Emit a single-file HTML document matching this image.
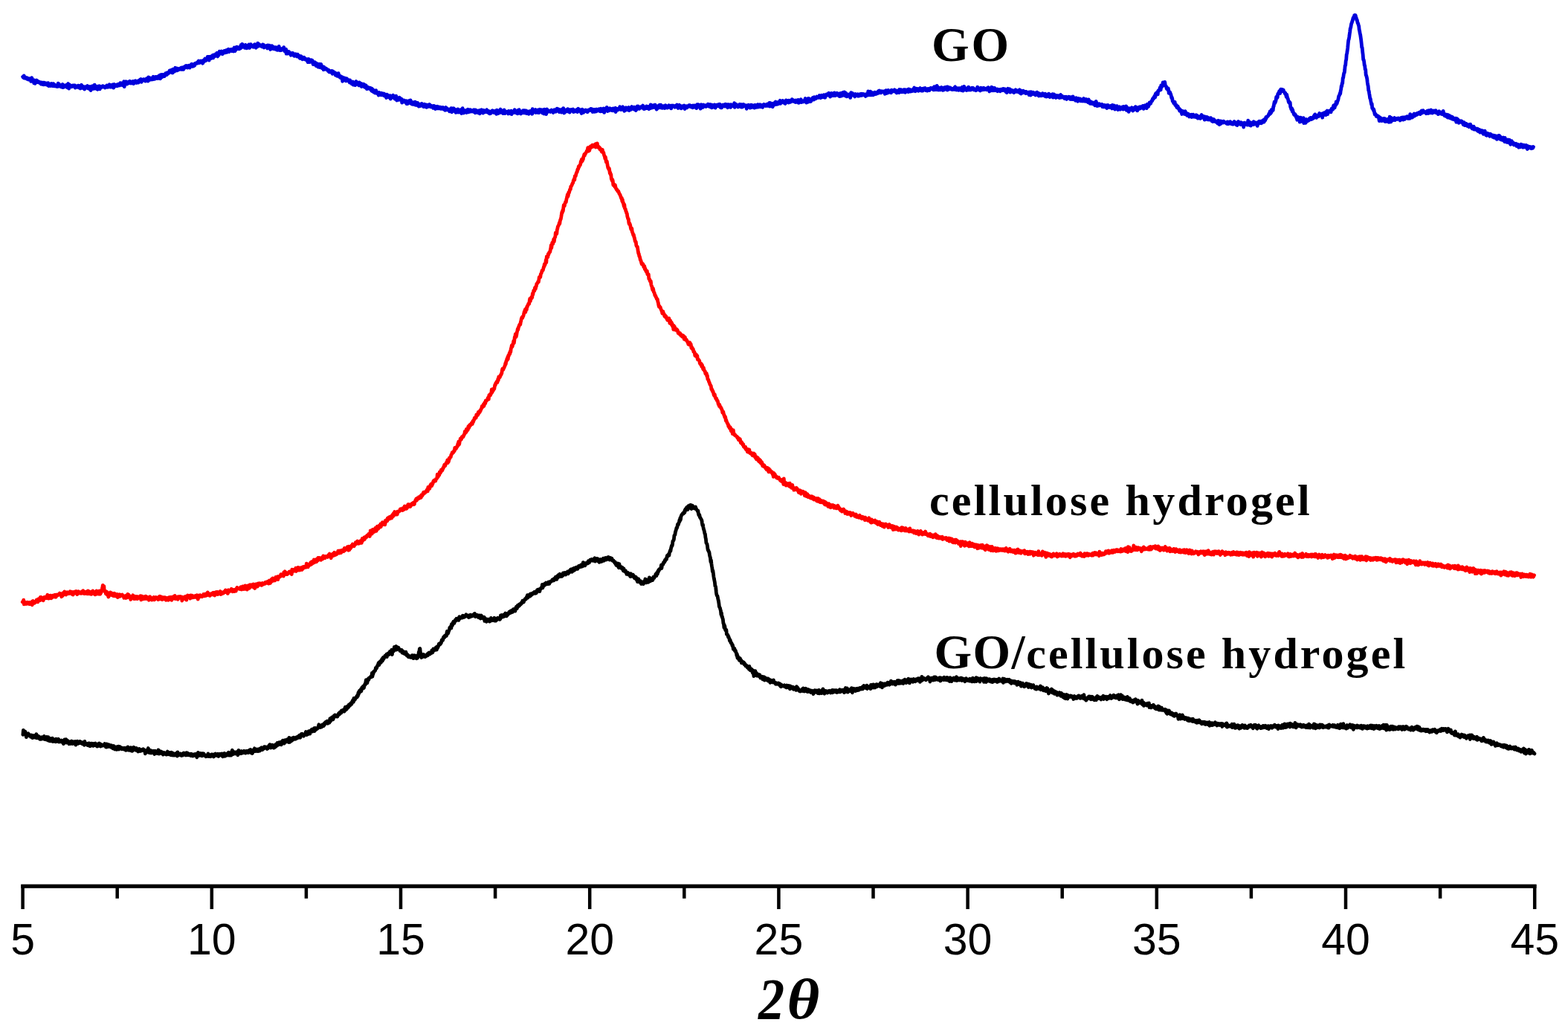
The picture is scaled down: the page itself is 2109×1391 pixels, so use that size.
<!DOCTYPE html>
<html><head><meta charset="utf-8"><style>
html,body{margin:0;padding:0;background:#fff;}
body{width:2109px;height:1391px;overflow:hidden;}
svg{display:block;}
.tl{font-family:"Liberation Sans",Arial,sans-serif;font-size:59px;}
.lab{font-family:"Liberation Serif","Times New Roman",serif;font-weight:bold;font-size:67px;}
.ax{font-family:"Liberation Serif","Times New Roman",serif;font-weight:bold;font-style:italic;font-size:78px;}
</style></head><body>
<svg width="2109" height="1391" viewBox="0 0 2109 1391">
<rect width="2109" height="1391" fill="#fff"/>
<g fill="none" stroke-linejoin="round" stroke-linecap="round" stroke-width="4.8">
<path d="M30.7,103.3 L31.2,104.2 L31.7,103.8 L32.2,101.9 L32.7,105.0 L33.2,104.7 L33.7,103.6 L34.2,105.3 L34.7,105.3 L35.2,105.4 L35.7,105.3 L36.2,106.2 L36.7,104.7 L37.2,105.7 L37.7,105.5 L38.2,107.1 L38.7,106.6 L39.2,106.4 L39.7,105.9 L40.2,106.8 L40.7,107.3 L41.2,107.2 L41.7,109.4 L42.2,109.2 L42.7,104.6 L43.2,105.8 L43.7,108.2 L44.2,108.1 L44.7,109.1 L45.2,109.3 L45.7,111.9 L46.2,107.9 L46.7,109.0 L47.2,112.3 L47.7,110.6 L48.2,110.8 L48.7,109.4 L49.2,108.1 L49.7,110.6 L50.2,110.6 L50.7,109.0 L51.2,109.9 L51.7,110.8 L52.2,109.8 L52.7,111.0 L53.2,111.4 L53.7,111.5 L54.2,110.9 L54.7,112.5 L55.2,113.0 L55.7,112.4 L56.2,111.0 L56.7,113.1 L57.2,111.7 L57.7,113.6 L58.2,111.2 L58.7,113.8 L59.2,112.7 L59.7,111.3 L60.2,112.6 L60.7,113.2 L61.2,113.6 L61.7,112.0 L62.2,112.0 L62.7,113.8 L63.2,113.0 L63.7,114.0 L64.2,114.8 L64.7,111.7 L65.2,114.3 L65.7,115.6 L66.2,113.7 L66.7,113.1 L67.2,115.2 L67.7,114.6 L68.2,115.5 L68.7,114.0 L69.2,112.5 L69.7,114.4 L70.2,114.0 L70.7,115.6 L71.2,114.9 L71.7,112.6 L72.2,113.2 L72.7,115.9 L73.2,115.7 L73.7,114.0 L74.2,114.9 L74.7,115.5 L75.2,115.5 L75.7,116.1 L76.2,115.3 L76.7,114.9 L77.2,114.7 L77.7,116.5 L78.2,112.2 L78.7,115.0 L79.2,115.2 L79.7,113.4 L80.2,115.7 L80.7,114.4 L81.2,116.4 L81.7,115.2 L82.2,116.2 L82.7,117.0 L83.2,115.9 L83.7,114.3 L84.2,113.5 L84.7,117.7 L85.2,115.3 L85.7,114.6 L86.2,115.7 L86.7,115.3 L87.2,116.7 L87.7,115.6 L88.2,115.6 L88.7,114.7 L89.2,116.3 L89.7,114.3 L90.2,116.6 L90.7,117.7 L91.2,113.8 L91.7,112.6 L92.2,116.6 L92.7,119.1 L93.2,114.6 L93.7,114.3 L94.2,116.7 L94.7,114.8 L95.2,115.3 L95.7,115.5 L96.2,116.7 L96.7,115.5 L97.2,116.4 L97.7,115.9 L98.2,115.0 L98.7,115.7 L99.2,114.9 L99.7,116.2 L100.2,114.8 L100.7,114.9 L101.2,118.2 L101.7,116.3 L102.2,116.3 L102.7,117.1 L103.2,115.9 L103.7,116.2 L104.2,117.1 L104.7,117.0 L105.2,115.1 L105.7,117.8 L106.2,116.0 L106.7,115.4 L107.2,115.6 L107.7,116.4 L108.2,119.0 L108.7,115.4 L109.2,117.2 L109.7,114.3 L110.2,117.1 L110.7,118.3 L111.2,116.9 L111.7,116.4 L112.2,117.6 L112.7,118.2 L113.2,118.2 L113.7,120.0 L114.2,117.7 L114.7,116.7 L115.2,117.3 L115.7,117.4 L116.2,117.7 L116.7,117.6 L117.2,117.9 L117.7,115.5 L118.2,118.8 L118.7,117.0 L119.2,116.2 L119.7,118.6 L120.2,119.5 L120.7,118.4 L121.2,118.0 L121.7,116.6 L122.2,121.5 L122.7,118.9 L123.2,116.3 L123.7,116.8 L124.2,117.9 L124.7,115.8 L125.2,118.0 L125.7,117.2 L126.2,119.4 L126.7,119.0 L127.2,114.2 L127.7,117.8 L128.2,115.6 L128.7,119.1 L129.2,117.9 L129.7,118.4 L130.2,116.3 L130.7,120.0 L131.2,120.2 L131.7,116.2 L132.2,118.0 L132.7,116.6 L133.2,117.5 L133.7,115.8 L134.2,119.9 L134.7,116.1 L135.2,117.0 L135.7,118.0 L136.2,116.5 L136.7,117.0 L137.2,116.5 L137.7,117.0 L138.2,115.6 L138.7,116.6 L139.2,116.8 L139.7,116.6 L140.2,117.1 L140.7,116.6 L141.2,117.9 L141.7,116.5 L142.2,116.7 L142.7,115.9 L143.2,116.1 L143.7,115.1 L144.2,117.3 L144.7,115.1 L145.2,115.6 L145.7,117.0 L146.2,117.0 L146.7,115.9 L147.2,113.8 L147.7,116.9 L148.2,116.6 L148.7,114.4 L149.2,117.2 L149.7,115.3 L150.2,114.7 L150.7,116.2 L151.2,115.8 L151.7,116.2 L152.2,113.8 L152.7,118.2 L153.2,114.9 L153.7,113.6 L154.2,116.4 L154.7,115.0 L155.2,115.8 L155.7,114.8 L156.2,115.1 L156.7,115.4 L157.2,114.0 L157.7,115.8 L158.2,114.2 L158.7,113.5 L159.2,114.7 L159.7,115.0 L160.2,114.1 L160.7,113.1 L161.2,114.9 L161.7,111.7 L162.2,112.5 L162.7,113.8 L163.2,111.9 L163.7,113.6 L164.2,113.3 L164.7,114.5 L165.2,112.0 L165.7,112.2 L166.2,113.4 L166.7,109.6 L167.2,116.7 L167.7,111.7 L168.2,111.5 L168.7,113.5 L169.2,112.2 L169.7,109.8 L170.2,112.8 L170.7,113.0 L171.2,111.2 L171.7,111.3 L172.2,112.2 L172.7,110.3 L173.2,112.0 L173.7,111.6 L174.2,110.3 L174.7,109.3 L175.2,110.7 L175.7,109.8 L176.2,112.1 L176.7,110.9 L177.2,111.7 L177.7,110.8 L178.2,110.8 L178.7,109.4 L179.2,111.2 L179.7,112.6 L180.2,109.8 L180.7,109.3 L181.2,109.8 L181.7,109.3 L182.2,108.9 L182.7,110.0 L183.2,109.3 L183.7,111.5 L184.2,109.5 L184.7,109.9 L185.2,110.6 L185.7,108.9 L186.2,111.1 L186.7,108.3 L187.2,108.0 L187.7,108.5 L188.2,108.8 L188.7,107.0 L189.2,108.7 L189.7,106.5 L190.2,110.4 L190.7,108.4 L191.2,107.6 L191.7,107.2 L192.2,107.8 L192.7,107.9 L193.2,106.7 L193.7,106.8 L194.2,107.7 L194.7,107.2 L195.2,109.0 L195.7,109.1 L196.2,107.6 L196.7,108.1 L197.2,105.6 L197.7,108.1 L198.2,107.1 L198.7,107.7 L199.2,109.1 L199.7,103.9 L200.2,107.1 L200.7,105.2 L201.2,107.3 L201.7,104.8 L202.2,105.7 L202.7,106.5 L203.2,106.9 L203.7,106.1 L204.2,104.9 L204.7,105.1 L205.2,106.9 L205.7,105.6 L206.2,103.3 L206.7,106.5 L207.2,105.8 L207.7,106.3 L208.2,104.6 L208.7,106.0 L209.2,103.4 L209.7,105.4 L210.2,103.9 L210.7,105.2 L211.2,105.5 L211.7,103.1 L212.2,103.9 L212.7,103.9 L213.2,105.2 L213.7,104.4 L214.2,101.8 L214.7,103.8 L215.2,104.0 L215.7,105.7 L216.2,100.6 L216.7,101.9 L217.2,104.1 L217.7,100.4 L218.2,100.4 L218.7,102.4 L219.2,102.9 L219.7,100.5 L220.2,101.8 L220.7,101.0 L221.2,102.6 L221.7,100.4 L222.2,101.4 L222.7,98.7 L223.2,99.4 L223.7,99.3 L224.2,100.6 L224.7,99.6 L225.2,97.7 L225.7,99.3 L226.2,99.1 L226.7,97.7 L227.2,97.3 L227.7,97.1 L228.2,94.9 L228.7,97.2 L229.2,97.0 L229.7,95.3 L230.2,97.2 L230.7,94.2 L231.2,95.1 L231.7,95.0 L232.2,98.0 L232.7,93.2 L233.2,95.8 L233.7,96.1 L234.2,95.2 L234.7,96.1 L235.2,93.1 L235.7,91.3 L236.2,95.1 L236.7,92.4 L237.2,93.4 L237.7,92.1 L238.2,94.9 L238.7,94.5 L239.2,92.3 L239.7,94.2 L240.2,93.1 L240.7,92.6 L241.2,92.7 L241.7,92.3 L242.2,93.2 L242.7,92.6 L243.2,91.6 L243.7,93.3 L244.2,91.0 L244.7,92.0 L245.2,92.1 L245.7,93.3 L246.2,90.6 L246.7,93.4 L247.2,91.2 L247.7,90.5 L248.2,89.7 L248.7,91.2 L249.2,90.4 L249.7,88.7 L250.2,88.5 L250.7,89.1 L251.2,88.8 L251.7,90.9 L252.2,91.1 L252.7,90.3 L253.2,89.4 L253.7,88.3 L254.2,88.7 L254.7,89.6 L255.2,91.1 L255.7,89.3 L256.2,87.6 L256.7,87.8 L257.2,87.0 L257.7,86.4 L258.2,87.0 L258.7,87.3 L259.2,89.3 L259.7,86.8 L260.2,88.3 L260.7,88.7 L261.2,86.3 L261.7,88.1 L262.2,86.7 L262.7,85.1 L263.2,85.8 L263.7,85.3 L264.2,84.8 L264.7,84.6 L265.2,84.9 L265.7,85.1 L266.2,83.2 L266.7,84.1 L267.2,82.0 L267.7,84.1 L268.2,84.4 L268.7,83.6 L269.2,83.6 L269.7,83.8 L270.2,82.0 L270.7,82.3 L271.2,83.1 L271.7,83.5 L272.2,82.6 L272.7,85.2 L273.2,81.5 L273.7,82.7 L274.2,82.9 L274.7,80.9 L275.2,79.8 L275.7,79.1 L276.2,80.7 L276.7,81.7 L277.2,80.4 L277.7,80.1 L278.2,79.1 L278.7,80.1 L279.2,76.4 L279.7,79.3 L280.2,78.8 L280.7,76.8 L281.2,81.2 L281.7,76.4 L282.2,76.6 L282.7,76.2 L283.2,79.0 L283.7,76.1 L284.2,77.9 L284.7,77.6 L285.2,76.9 L285.7,74.7 L286.2,75.3 L286.7,78.0 L287.2,73.9 L287.7,74.3 L288.2,74.9 L288.7,75.9 L289.2,75.0 L289.7,75.3 L290.2,72.7 L290.7,75.1 L291.2,74.4 L291.7,71.3 L292.2,75.2 L292.7,75.9 L293.2,71.7 L293.7,72.5 L294.2,74.1 L294.7,70.1 L295.2,69.2 L295.7,69.9 L296.2,70.7 L296.7,70.5 L297.2,71.8 L297.7,71.2 L298.2,69.0 L298.7,71.2 L299.2,72.8 L299.7,71.7 L300.2,71.3 L300.7,69.9 L301.2,71.0 L301.7,68.4 L302.2,70.5 L302.7,69.2 L303.2,70.7 L303.7,69.7 L304.2,67.6 L304.7,69.0 L305.2,70.3 L305.7,67.1 L306.2,67.8 L306.7,67.4 L307.2,66.3 L307.7,69.4 L308.2,69.7 L308.7,69.0 L309.2,68.1 L309.7,67.6 L310.2,67.9 L310.7,66.5 L311.2,68.5 L311.7,68.6 L312.2,68.3 L312.7,66.3 L313.2,67.0 L313.7,66.6 L314.2,69.0 L314.7,66.8 L315.2,64.0 L315.7,66.8 L316.2,68.6 L316.7,66.9 L317.2,67.0 L317.7,65.8 L318.2,63.1 L318.7,63.1 L319.2,63.7 L319.7,65.0 L320.2,65.5 L320.7,65.8 L321.2,64.3 L321.7,65.9 L322.2,64.1 L322.7,63.4 L323.2,65.3 L323.7,62.9 L324.2,60.4 L324.7,62.4 L325.2,63.8 L325.7,59.5 L326.2,62.9 L326.7,62.8 L327.2,61.3 L327.7,61.1 L328.2,62.3 L328.7,62.1 L329.2,64.3 L329.7,63.1 L330.2,60.4 L330.7,61.3 L331.2,63.2 L331.7,64.7 L332.2,62.7 L332.7,62.5 L333.2,64.4 L333.7,61.9 L334.2,61.5 L334.7,60.0 L335.2,61.1 L335.7,64.5 L336.2,59.8 L336.7,61.6 L337.2,59.6 L337.7,61.6 L338.2,62.5 L338.7,61.0 L339.2,62.2 L339.7,62.1 L340.2,61.7 L340.7,63.3 L341.2,62.0 L341.7,60.6 L342.2,60.0 L342.7,59.8 L343.2,61.4 L343.7,60.4 L344.2,64.3 L344.7,63.1 L345.2,60.4 L345.7,60.2 L346.2,62.8 L346.7,58.2 L347.2,60.0 L347.7,61.8 L348.2,59.4 L348.7,60.0 L349.2,60.2 L349.7,61.6 L350.2,61.0 L350.7,61.5 L351.2,61.9 L351.7,61.3 L352.2,62.9 L352.7,60.8 L353.2,60.0 L353.7,59.8 L354.2,60.2 L354.7,61.8 L355.2,64.0 L355.7,63.1 L356.2,62.2 L356.7,61.7 L357.2,62.5 L357.7,62.8 L358.2,62.7 L358.7,61.6 L359.2,62.9 L359.7,65.0 L360.2,60.9 L360.7,63.5 L361.2,61.1 L361.7,64.2 L362.2,63.0 L362.7,61.3 L363.2,64.2 L363.7,66.5 L364.2,64.4 L364.7,65.8 L365.2,64.2 L365.7,61.6 L366.2,65.1 L366.7,64.0 L367.2,62.7 L367.7,65.6 L368.2,65.1 L368.7,64.1 L369.2,66.0 L369.7,63.8 L370.2,65.8 L370.7,63.8 L371.2,65.8 L371.7,63.8 L372.2,67.2 L372.7,65.7 L373.2,67.4 L373.7,64.5 L374.2,65.1 L374.7,66.9 L375.2,62.4 L375.7,64.7 L376.2,67.6 L376.7,67.0 L377.2,67.8 L377.7,66.3 L378.2,67.6 L378.7,66.1 L379.2,65.5 L379.7,65.2 L380.2,66.9 L380.7,67.1 L381.2,67.2 L381.7,63.6 L382.2,65.8 L382.7,67.9 L383.2,69.1 L383.7,68.2 L384.2,68.0 L384.7,66.4 L385.2,72.2 L385.7,68.4 L386.2,72.2 L386.7,72.2 L387.2,70.7 L387.7,69.8 L388.2,71.0 L388.7,69.5 L389.2,71.5 L389.7,71.4 L390.2,72.2 L390.7,73.0 L391.2,74.2 L391.7,71.6 L392.2,73.7 L392.7,71.5 L393.2,71.5 L393.7,72.1 L394.2,71.8 L394.7,74.5 L395.2,74.7 L395.7,75.3 L396.2,73.8 L396.7,74.4 L397.2,73.5 L397.7,72.9 L398.2,75.2 L398.7,75.2 L399.2,73.6 L399.7,76.0 L400.2,73.2 L400.7,75.4 L401.2,75.0 L401.7,75.4 L402.2,74.8 L402.7,77.7 L403.2,77.4 L403.7,78.4 L404.2,77.2 L404.7,75.6 L405.2,77.0 L405.7,76.2 L406.2,78.5 L406.7,79.7 L407.2,78.8 L407.7,77.8 L408.2,78.3 L408.7,79.2 L409.2,77.3 L409.7,79.6 L410.2,79.9 L410.7,79.1 L411.2,79.5 L411.7,80.5 L412.2,79.4 L412.7,79.6 L413.2,82.0 L413.7,81.5 L414.2,83.6 L414.7,80.3 L415.2,79.5 L415.7,83.3 L416.2,83.5 L416.7,81.6 L417.2,80.8 L417.7,82.9 L418.2,80.9 L418.7,83.0 L419.2,80.8 L419.7,83.6 L420.2,81.4 L420.7,84.1 L421.2,86.6 L421.7,84.5 L422.2,86.1 L422.7,84.5 L423.2,84.4 L423.7,83.8 L424.2,87.4 L424.7,86.2 L425.2,88.6 L425.7,85.2 L426.2,86.7 L426.7,87.3 L427.2,89.3 L427.7,90.1 L428.2,87.1 L428.7,86.8 L429.2,86.2 L429.7,90.5 L430.2,88.9 L430.7,88.4 L431.2,89.4 L431.7,86.4 L432.2,87.8 L432.7,91.5 L433.2,91.0 L433.7,91.0 L434.2,89.7 L434.7,92.0 L435.2,93.8 L435.7,90.2 L436.2,92.0 L436.7,91.7 L437.2,93.0 L437.7,92.8 L438.2,92.8 L438.7,92.1 L439.2,93.5 L439.7,93.0 L440.2,93.8 L440.7,94.2 L441.2,95.4 L441.7,94.0 L442.2,94.6 L442.7,96.7 L443.2,95.2 L443.7,95.4 L444.2,97.1 L444.7,96.6 L445.2,96.6 L445.7,97.0 L446.2,95.4 L446.7,97.8 L447.2,99.2 L447.7,98.5 L448.2,96.0 L448.7,98.6 L449.2,97.3 L449.7,98.4 L450.2,99.1 L450.7,97.7 L451.2,101.2 L451.7,99.6 L452.2,101.0 L452.7,101.0 L453.2,102.2 L453.7,102.3 L454.2,99.0 L454.7,101.3 L455.2,98.7 L455.7,101.1 L456.2,102.9 L456.7,103.4 L457.2,104.1 L457.7,102.2 L458.2,103.4 L458.7,103.4 L459.2,105.2 L459.7,105.9 L460.2,103.6 L460.7,109.3 L461.2,104.6 L461.7,104.4 L462.2,105.9 L462.7,106.4 L463.2,106.4 L463.7,105.1 L464.2,108.2 L464.7,106.6 L465.2,108.8 L465.7,108.9 L466.2,105.7 L466.7,106.3 L467.2,106.6 L467.7,108.4 L468.2,108.4 L468.7,109.0 L469.2,107.8 L469.7,109.6 L470.2,111.1 L470.7,107.8 L471.2,109.5 L471.7,110.3 L472.2,110.0 L472.7,110.1 L473.2,112.8 L473.7,112.4 L474.2,112.0 L474.7,110.0 L475.2,114.1 L475.7,111.8 L476.2,110.7 L476.7,111.2 L477.2,111.2 L477.7,114.7 L478.2,112.3 L478.7,112.3 L479.2,109.5 L479.7,113.4 L480.2,111.2 L480.7,111.2 L481.2,113.6 L481.7,111.8 L482.2,114.2 L482.7,114.7 L483.2,111.0 L483.7,113.3 L484.2,111.6 L484.7,113.7 L485.2,115.1 L485.7,112.3 L486.2,116.5 L486.7,113.9 L487.2,113.0 L487.7,114.5 L488.2,115.9 L488.7,113.2 L489.2,115.2 L489.7,113.6 L490.2,117.2 L490.7,116.0 L491.2,115.5 L491.7,117.7 L492.2,114.9 L492.7,116.3 L493.2,119.5 L493.7,117.2 L494.2,119.5 L494.7,118.2 L495.2,117.4 L495.7,118.3 L496.2,119.0 L496.7,118.7 L497.2,118.5 L497.7,118.9 L498.2,118.3 L498.7,120.7 L499.2,121.3 L499.7,122.1 L500.2,119.1 L500.7,122.8 L501.2,122.0 L501.7,120.5 L502.2,122.8 L502.7,124.0 L503.2,123.9 L503.7,124.4 L504.2,124.9 L504.7,125.1 L505.2,124.1 L505.7,121.6 L506.2,123.6 L506.7,125.2 L507.2,124.3 L507.7,126.0 L508.2,126.3 L508.7,125.5 L509.2,128.1 L509.7,124.5 L510.2,127.1 L510.7,125.5 L511.2,125.2 L511.7,127.1 L512.2,125.7 L512.7,127.8 L513.2,125.3 L513.7,127.0 L514.2,126.0 L514.7,126.9 L515.2,126.9 L515.7,126.0 L516.2,128.5 L516.7,126.1 L517.2,126.6 L517.7,129.2 L518.2,129.4 L518.7,129.2 L519.2,128.9 L519.7,131.5 L520.2,127.1 L520.7,127.9 L521.2,127.7 L521.7,130.3 L522.2,129.7 L522.7,130.9 L523.2,130.9 L523.7,129.4 L524.2,128.8 L524.7,128.7 L525.2,133.1 L525.7,131.6 L526.2,131.3 L526.7,130.2 L527.2,130.5 L527.7,130.5 L528.2,130.7 L528.7,128.1 L529.2,131.3 L529.7,131.0 L530.2,132.1 L530.7,132.1 L531.2,133.1 L531.7,132.1 L532.2,133.3 L532.7,129.1 L533.2,131.2 L533.7,135.0 L534.2,131.3 L534.7,132.7 L535.2,134.1 L535.7,132.2 L536.2,134.4 L536.7,131.8 L537.2,131.3 L537.7,132.2 L538.2,132.0 L538.7,134.2 L539.2,134.0 L539.7,135.0 L540.2,133.4 L540.7,138.2 L541.2,134.9 L541.7,135.1 L542.2,136.0 L542.7,135.2 L543.2,134.9 L543.7,136.0 L544.2,137.2 L544.7,137.1 L545.2,137.6 L545.7,135.8 L546.2,135.7 L546.7,139.5 L547.2,136.7 L547.7,137.8 L548.2,138.3 L548.7,139.4 L549.2,135.9 L549.7,137.2 L550.2,137.4 L550.7,137.7 L551.2,135.1 L551.7,138.3 L552.2,134.8 L552.7,139.1 L553.2,139.5 L553.7,139.7 L554.2,137.5 L554.7,140.4 L555.2,138.2 L555.7,137.8 L556.2,138.2 L556.7,138.5 L557.2,139.9 L557.7,140.8 L558.2,137.1 L558.7,139.2 L559.2,141.2 L559.7,140.4 L560.2,140.9 L560.7,138.3 L561.2,141.6 L561.7,138.4 L562.2,140.7 L562.7,142.3 L563.2,143.1 L563.7,141.4 L564.2,141.9 L564.7,140.1 L565.2,140.3 L565.7,142.5 L566.2,141.1 L566.7,141.0 L567.2,139.4 L567.7,141.4 L568.2,142.2 L568.7,140.4 L569.2,140.8 L569.7,143.6 L570.2,141.8 L570.7,141.3 L571.2,140.3 L571.7,141.0 L572.2,141.6 L572.7,143.7 L573.2,141.2 L573.7,144.4 L574.2,141.0 L574.7,141.8 L575.2,143.4 L575.7,142.1 L576.2,141.4 L576.7,142.4 L577.2,143.2 L577.7,140.5 L578.2,142.4 L578.7,142.7 L579.2,142.4 L579.7,143.9 L580.2,142.3 L580.7,142.6 L581.2,143.2 L581.7,144.2 L582.2,143.1 L582.7,145.4 L583.2,142.3 L583.7,145.2 L584.2,142.5 L584.7,143.5 L585.2,144.3 L585.7,146.5 L586.2,145.1 L586.7,143.5 L587.2,145.8 L587.7,143.9 L588.2,143.3 L588.7,144.9 L589.2,144.6 L589.7,145.8 L590.2,143.9 L590.7,145.2 L591.2,145.7 L591.7,145.3 L592.2,145.0 L592.7,144.2 L593.2,146.4 L593.7,145.5 L594.2,146.1 L594.7,145.1 L595.2,145.7 L595.7,144.4 L596.2,146.0 L596.7,147.0 L597.2,146.2 L597.7,147.4 L598.2,146.8 L598.7,148.2 L599.2,146.3 L599.7,144.5 L600.2,147.3 L600.7,146.7 L601.2,145.7 L601.7,147.9 L602.2,147.5 L602.7,147.8 L603.2,146.9 L603.7,147.7 L604.2,147.8 L604.7,149.9 L605.2,146.8 L605.7,147.7 L606.2,148.3 L606.7,145.6 L607.2,145.9 L607.7,150.8 L608.2,145.8 L608.7,148.9 L609.2,147.1 L609.7,147.3 L610.2,145.8 L610.7,147.3 L611.2,149.5 L611.7,146.8 L612.2,149.4 L612.7,149.1 L613.2,151.4 L613.7,148.2 L614.2,150.5 L614.7,150.1 L615.2,148.6 L615.7,146.9 L616.2,151.1 L616.7,147.4 L617.2,148.6 L617.7,150.4 L618.2,150.7 L618.7,148.2 L619.2,149.3 L619.7,149.0 L620.2,150.9 L620.7,152.6 L621.2,147.0 L621.7,150.6 L622.2,145.7 L622.7,149.4 L623.2,148.0 L623.7,152.0 L624.2,149.6 L624.7,148.4 L625.2,148.8 L625.7,148.7 L626.2,149.6 L626.7,149.2 L627.2,150.3 L627.7,151.4 L628.2,150.3 L628.7,147.8 L629.2,147.3 L629.7,148.4 L630.2,150.8 L630.7,149.0 L631.2,148.5 L631.7,149.6 L632.2,147.6 L632.7,147.9 L633.2,150.1 L633.7,149.0 L634.2,148.8 L634.7,149.8 L635.2,148.6 L635.7,148.5 L636.2,148.8 L636.7,150.2 L637.2,149.5 L637.7,147.8 L638.2,149.0 L638.7,150.2 L639.2,151.8 L639.7,147.9 L640.2,149.9 L640.7,149.1 L641.2,150.5 L641.7,150.1 L642.2,151.4 L642.7,150.2 L643.2,148.8 L643.7,148.9 L644.2,150.1 L644.7,150.2 L645.2,152.8 L645.7,151.9 L646.2,148.2 L646.7,150.2 L647.2,148.1 L647.7,147.7 L648.2,150.9 L648.7,150.6 L649.2,148.6 L649.7,152.1 L650.2,148.7 L650.7,148.5 L651.2,150.9 L651.7,150.4 L652.2,149.9 L652.7,150.1 L653.2,150.5 L653.7,150.0 L654.2,150.0 L654.7,147.7 L655.2,148.5 L655.7,151.0 L656.2,149.3 L656.7,150.9 L657.2,151.8 L657.7,149.7 L658.2,150.6 L658.7,152.9 L659.2,151.1 L659.7,152.6 L660.2,152.2 L660.7,151.2 L661.2,150.1 L661.7,149.1 L662.2,148.8 L662.7,150.8 L663.2,150.8 L663.7,150.0 L664.2,151.3 L664.7,149.4 L665.2,151.6 L665.7,150.3 L666.2,150.2 L666.7,150.2 L667.2,150.1 L667.7,153.4 L668.2,148.1 L668.7,150.4 L669.2,151.8 L669.7,151.1 L670.2,149.8 L670.7,152.5 L671.2,148.8 L671.7,148.5 L672.2,150.9 L672.7,148.3 L673.2,147.1 L673.7,151.4 L674.2,151.2 L674.7,151.2 L675.2,149.6 L675.7,150.5 L676.2,149.1 L676.7,152.6 L677.2,151.4 L677.7,151.4 L678.2,147.9 L678.7,151.5 L679.2,152.5 L679.7,152.1 L680.2,151.6 L680.7,150.6 L681.2,150.2 L681.7,151.5 L682.2,151.2 L682.7,151.1 L683.2,150.4 L683.7,153.0 L684.2,149.3 L684.7,150.9 L685.2,150.2 L685.7,152.3 L686.2,152.8 L686.7,152.6 L687.2,152.0 L687.7,149.2 L688.2,153.7 L688.7,151.7 L689.2,150.9 L689.7,151.0 L690.2,150.6 L690.7,151.5 L691.2,151.4 L691.7,150.5 L692.2,147.6 L692.7,150.9 L693.2,151.6 L693.7,151.6 L694.2,150.7 L694.7,151.5 L695.2,152.3 L695.7,150.3 L696.2,152.8 L696.7,148.3 L697.2,149.2 L697.7,149.7 L698.2,147.7 L698.7,149.5 L699.2,152.4 L699.7,152.4 L700.2,150.9 L700.7,153.0 L701.2,151.1 L701.7,150.1 L702.2,151.0 L702.7,150.5 L703.2,151.6 L703.7,148.7 L704.2,151.9 L704.7,150.0 L705.2,151.7 L705.7,148.6 L706.2,150.0 L706.7,150.6 L707.2,151.7 L707.7,148.9 L708.2,152.6 L708.7,151.1 L709.2,149.7 L709.7,152.0 L710.2,150.5 L710.7,151.8 L711.2,153.3 L711.7,151.3 L712.2,149.6 L712.7,149.7 L713.2,151.0 L713.7,150.6 L714.2,149.1 L714.7,149.3 L715.2,151.0 L715.7,153.2 L716.2,146.7 L716.7,151.0 L717.2,149.8 L717.7,151.0 L718.2,151.1 L718.7,150.0 L719.2,148.6 L719.7,148.1 L720.2,147.5 L720.7,151.5 L721.2,149.6 L721.7,149.2 L722.2,149.5 L722.7,148.1 L723.2,150.2 L723.7,151.5 L724.2,151.2 L724.7,147.7 L725.2,151.5 L725.7,148.7 L726.2,147.2 L726.7,148.1 L727.2,148.4 L727.7,149.6 L728.2,148.3 L728.7,147.7 L729.2,149.3 L729.7,152.1 L730.2,148.7 L730.7,150.2 L731.2,149.7 L731.7,153.0 L732.2,147.1 L732.7,151.0 L733.2,147.9 L733.7,148.7 L734.2,149.4 L734.7,153.6 L735.2,148.5 L735.7,147.0 L736.2,151.2 L736.7,148.4 L737.2,149.1 L737.7,149.4 L738.2,149.6 L738.7,149.2 L739.2,149.8 L739.7,149.9 L740.2,150.5 L740.7,148.8 L741.2,148.4 L741.7,148.0 L742.2,150.1 L742.7,149.3 L743.2,150.1 L743.7,150.0 L744.2,151.5 L744.7,149.6 L745.2,150.3 L745.7,147.8 L746.2,147.9 L746.7,148.9 L747.2,147.7 L747.7,150.2 L748.2,147.6 L748.7,149.4 L749.2,146.1 L749.7,147.8 L750.2,148.8 L750.7,148.9 L751.2,146.9 L751.7,149.4 L752.2,150.5 L752.7,150.1 L753.2,148.4 L753.7,148.4 L754.2,147.7 L754.7,150.0 L755.2,151.1 L755.7,148.5 L756.2,147.0 L756.7,149.4 L757.2,150.1 L757.7,145.6 L758.2,149.3 L758.7,152.0 L759.2,150.2 L759.7,149.8 L760.2,149.6 L760.7,150.5 L761.2,147.9 L761.7,148.0 L762.2,149.6 L762.7,148.2 L763.2,149.4 L763.7,146.6 L764.2,150.1 L764.7,150.2 L765.2,149.1 L765.7,149.3 L766.2,151.1 L766.7,147.6 L767.2,147.8 L767.7,147.6 L768.2,148.5 L768.7,147.7 L769.2,149.0 L769.7,148.1 L770.2,147.1 L770.7,147.0 L771.2,150.5 L771.7,148.9 L772.2,148.6 L772.7,149.0 L773.2,148.8 L773.7,149.9 L774.2,149.6 L774.7,148.1 L775.2,147.8 L775.7,147.5 L776.2,147.2 L776.7,150.7 L777.2,147.7 L777.7,146.2 L778.2,147.7 L778.7,147.8 L779.2,149.2 L779.7,147.6 L780.2,149.5 L780.7,149.3 L781.2,150.4 L781.7,151.6 L782.2,152.4 L782.7,150.5 L783.2,147.2 L783.7,148.2 L784.2,149.0 L784.7,151.4 L785.2,149.5 L785.7,150.2 L786.2,148.4 L786.7,149.4 L787.2,149.6 L787.7,148.0 L788.2,149.6 L788.7,150.0 L789.2,148.4 L789.7,149.9 L790.2,150.7 L790.7,148.6 L791.2,148.5 L791.7,148.1 L792.2,147.7 L792.7,148.7 L793.2,147.9 L793.7,148.0 L794.2,147.4 L794.7,146.4 L795.2,147.2 L795.7,148.8 L796.2,146.8 L796.7,147.5 L797.2,150.5 L797.7,149.8 L798.2,147.4 L798.7,149.1 L799.2,147.4 L799.7,150.4 L800.2,147.5 L800.7,148.3 L801.2,150.0 L801.7,147.1 L802.2,149.9 L802.7,147.1 L803.2,148.4 L803.7,147.7 L804.2,148.0 L804.7,148.3 L805.2,148.0 L805.7,146.7 L806.2,149.2 L806.7,149.0 L807.2,149.7 L807.7,149.8 L808.2,146.2 L808.7,149.6 L809.2,149.6 L809.7,147.2 L810.2,149.2 L810.7,149.8 L811.2,147.2 L811.7,146.0 L812.2,147.3 L812.7,151.4 L813.2,148.1 L813.7,146.2 L814.2,147.4 L814.7,146.4 L815.2,147.2 L815.7,147.8 L816.2,144.3 L816.7,148.1 L817.2,149.5 L817.7,147.3 L818.2,147.1 L818.7,149.0 L819.2,145.9 L819.7,145.9 L820.2,145.7 L820.7,147.3 L821.2,148.0 L821.7,147.3 L822.2,148.1 L822.7,148.5 L823.2,148.0 L823.7,146.3 L824.2,147.0 L824.7,148.9 L825.2,145.9 L825.7,146.9 L826.2,146.7 L826.7,147.0 L827.2,145.8 L827.7,145.4 L828.2,150.5 L828.7,148.4 L829.2,146.2 L829.7,147.0 L830.2,147.9 L830.7,146.6 L831.2,147.8 L831.7,146.2 L832.2,146.5 L832.7,146.8 L833.2,146.3 L833.7,143.7 L834.2,146.9 L834.7,147.2 L835.2,147.4 L835.7,145.5 L836.2,147.2 L836.7,147.0 L837.2,144.4 L837.7,143.8 L838.2,147.2 L838.7,145.3 L839.2,147.8 L839.7,149.3 L840.2,145.7 L840.7,145.5 L841.2,146.4 L841.7,147.2 L842.2,144.8 L842.7,147.9 L843.2,147.5 L843.7,147.0 L844.2,145.4 L844.7,147.3 L845.2,147.2 L845.7,144.5 L846.2,148.7 L846.7,145.6 L847.2,146.4 L847.7,145.2 L848.2,146.3 L848.7,147.3 L849.2,144.7 L849.7,143.6 L850.2,145.1 L850.7,143.9 L851.2,144.6 L851.7,145.4 L852.2,145.4 L852.7,147.1 L853.2,144.1 L853.7,145.8 L854.2,144.7 L854.7,147.1 L855.2,148.5 L855.7,145.6 L856.2,147.3 L856.7,144.4 L857.2,143.0 L857.7,143.4 L858.2,143.0 L858.7,143.7 L859.2,144.6 L859.7,146.4 L860.2,145.8 L860.7,145.4 L861.2,144.2 L861.7,143.8 L862.2,144.7 L862.7,144.8 L863.2,145.0 L863.7,145.1 L864.2,144.4 L864.7,142.0 L865.2,143.0 L865.7,143.4 L866.2,146.6 L866.7,143.8 L867.2,145.2 L867.7,146.2 L868.2,144.7 L868.7,143.8 L869.2,143.9 L869.7,142.9 L870.2,144.6 L870.7,145.6 L871.2,144.9 L871.7,145.1 L872.2,145.0 L872.7,146.6 L873.2,143.2 L873.7,144.2 L874.2,144.9 L874.7,145.6 L875.2,140.8 L875.7,143.2 L876.2,143.6 L876.7,142.5 L877.2,145.0 L877.7,144.1 L878.2,143.3 L878.7,141.7 L879.2,142.1 L879.7,142.5 L880.2,144.4 L880.7,142.2 L881.2,141.1 L881.7,141.8 L882.2,143.0 L882.7,145.9 L883.2,147.0 L883.7,143.1 L884.2,144.9 L884.7,145.5 L885.2,145.3 L885.7,143.5 L886.2,141.9 L886.7,143.0 L887.2,141.2 L887.7,143.9 L888.2,144.6 L888.7,141.1 L889.2,143.5 L889.7,143.9 L890.2,145.2 L890.7,145.3 L891.2,144.6 L891.7,142.6 L892.2,143.0 L892.7,145.1 L893.2,142.7 L893.7,143.4 L894.2,145.5 L894.7,143.6 L895.2,141.7 L895.7,143.1 L896.2,144.3 L896.7,143.2 L897.2,145.0 L897.7,145.1 L898.2,142.6 L898.7,142.8 L899.2,143.3 L899.7,141.8 L900.2,143.9 L900.7,143.2 L901.2,144.4 L901.7,142.6 L902.2,142.2 L902.7,145.8 L903.2,142.2 L903.7,142.6 L904.2,142.4 L904.7,142.9 L905.2,142.1 L905.7,143.3 L906.2,142.4 L906.7,142.8 L907.2,143.8 L907.7,144.2 L908.2,143.9 L908.7,142.3 L909.2,143.8 L909.7,143.1 L910.2,143.1 L910.7,141.0 L911.2,144.1 L911.7,143.1 L912.2,145.5 L912.7,144.1 L913.2,141.8 L913.7,141.4 L914.2,144.7 L914.7,142.1 L915.2,144.1 L915.7,142.8 L916.2,145.9 L916.7,143.3 L917.2,145.1 L917.7,144.9 L918.2,142.6 L918.7,142.7 L919.2,145.1 L919.7,143.1 L920.2,142.0 L920.7,144.7 L921.2,146.5 L921.7,143.1 L922.2,144.9 L922.7,142.9 L923.2,144.9 L923.7,142.8 L924.2,144.8 L924.7,143.8 L925.2,142.9 L925.7,143.4 L926.2,142.4 L926.7,141.6 L927.2,141.7 L927.7,143.0 L928.2,141.7 L928.7,143.6 L929.2,143.8 L929.7,143.7 L930.2,142.4 L930.7,143.1 L931.2,143.0 L931.7,144.8 L932.2,142.0 L932.7,142.5 L933.2,142.7 L933.7,142.8 L934.2,142.0 L934.7,142.2 L935.2,144.3 L935.7,142.1 L936.2,144.1 L936.7,145.6 L937.2,144.6 L937.7,140.6 L938.2,143.9 L938.7,143.5 L939.2,143.6 L939.7,140.8 L940.2,143.8 L940.7,141.4 L941.2,144.5 L941.7,144.2 L942.2,146.1 L942.7,142.3 L943.2,140.8 L943.7,144.1 L944.2,143.9 L944.7,142.2 L945.2,144.5 L945.7,143.6 L946.2,141.0 L946.7,142.2 L947.2,142.1 L947.7,142.5 L948.2,142.9 L948.7,141.7 L949.2,142.4 L949.7,143.4 L950.2,142.5 L950.7,142.2 L951.2,142.2 L951.7,142.4 L952.2,140.1 L952.7,142.8 L953.2,141.2 L953.7,142.7 L954.2,140.6 L954.7,143.7 L955.2,142.8 L955.7,140.7 L956.2,142.8 L956.7,141.5 L957.2,144.8 L957.7,143.1 L958.2,141.4 L958.7,142.7 L959.2,142.4 L959.7,144.0 L960.2,142.9 L960.7,143.0 L961.2,140.9 L961.7,143.4 L962.2,145.1 L962.7,143.2 L963.2,142.3 L963.7,142.5 L964.2,141.1 L964.7,142.6 L965.2,140.9 L965.7,142.4 L966.2,141.8 L966.7,141.2 L967.2,143.0 L967.7,140.3 L968.2,142.2 L968.7,140.5 L969.2,144.6 L969.7,144.8 L970.2,143.3 L970.7,144.7 L971.2,143.0 L971.7,142.9 L972.2,141.7 L972.7,141.1 L973.2,142.4 L973.7,141.5 L974.2,141.6 L974.7,143.1 L975.2,142.0 L975.7,140.2 L976.2,141.9 L976.7,141.2 L977.2,141.8 L977.7,140.8 L978.2,143.7 L978.7,144.7 L979.2,140.7 L979.7,143.0 L980.2,143.0 L980.7,140.8 L981.2,142.3 L981.7,144.0 L982.2,143.3 L982.7,144.3 L983.2,140.7 L983.7,141.2 L984.2,142.6 L984.7,142.7 L985.2,142.2 L985.7,141.7 L986.2,141.7 L986.7,141.4 L987.2,142.8 L987.7,138.6 L988.2,144.3 L988.7,141.5 L989.2,140.4 L989.7,142.9 L990.2,140.4 L990.7,142.7 L991.2,141.7 L991.7,143.0 L992.2,143.3 L992.7,143.9 L993.2,141.6 L993.7,141.9 L994.2,142.3 L994.7,140.4 L995.2,143.1 L995.7,142.5 L996.2,140.6 L996.7,143.9 L997.2,144.1 L997.7,140.6 L998.2,143.1 L998.7,144.0 L999.2,143.4 L999.7,141.1 L1000.2,140.5 L1000.7,142.2 L1001.2,141.7 L1001.7,142.4 L1002.2,142.3 L1002.7,143.1 L1003.2,141.7 L1003.7,142.2 L1004.2,146.3 L1004.7,142.2 L1005.2,143.4 L1005.7,142.8 L1006.2,142.7 L1006.7,141.3 L1007.2,143.1 L1007.7,142.4 L1008.2,143.5 L1008.7,145.1 L1009.2,142.7 L1009.7,143.5 L1010.2,141.1 L1010.7,142.6 L1011.2,144.5 L1011.7,142.4 L1012.2,141.7 L1012.7,142.8 L1013.2,142.3 L1013.7,142.2 L1014.2,142.0 L1014.7,145.1 L1015.2,141.4 L1015.7,142.0 L1016.2,141.8 L1016.7,144.1 L1017.2,142.2 L1017.7,144.2 L1018.2,142.7 L1018.7,142.5 L1019.2,140.6 L1019.7,144.1 L1020.2,143.2 L1020.7,143.0 L1021.2,142.4 L1021.7,142.0 L1022.2,140.8 L1022.7,143.7 L1023.2,142.8 L1023.7,141.9 L1024.2,141.5 L1024.7,142.4 L1025.2,142.1 L1025.7,144.3 L1026.2,143.1 L1026.7,141.3 L1027.2,140.6 L1027.7,141.6 L1028.2,140.7 L1028.7,141.9 L1029.2,142.2 L1029.7,142.5 L1030.2,142.1 L1030.7,141.2 L1031.2,142.2 L1031.7,140.1 L1032.2,141.1 L1032.7,142.2 L1033.2,141.4 L1033.7,139.3 L1034.2,139.3 L1034.7,138.6 L1035.2,143.0 L1035.7,138.5 L1036.2,140.2 L1036.7,142.7 L1037.2,141.6 L1037.7,141.8 L1038.2,139.3 L1038.7,140.8 L1039.2,143.7 L1039.7,139.6 L1040.2,140.1 L1040.7,139.0 L1041.2,139.3 L1041.7,139.7 L1042.2,140.9 L1042.7,137.8 L1043.2,137.0 L1043.7,138.8 L1044.2,139.0 L1044.7,140.4 L1045.2,139.4 L1045.7,137.6 L1046.2,139.0 L1046.7,139.7 L1047.2,138.5 L1047.7,137.6 L1048.2,138.8 L1048.7,137.4 L1049.2,135.3 L1049.7,139.4 L1050.2,135.9 L1050.7,137.1 L1051.2,137.1 L1051.7,137.0 L1052.2,137.0 L1052.7,135.4 L1053.2,137.9 L1053.7,137.2 L1054.2,137.2 L1054.7,138.5 L1055.2,138.5 L1055.7,138.7 L1056.2,139.4 L1056.7,137.5 L1057.2,134.9 L1057.7,137.1 L1058.2,136.8 L1058.7,136.8 L1059.2,135.9 L1059.7,135.5 L1060.2,137.7 L1060.7,137.9 L1061.2,135.1 L1061.7,137.2 L1062.2,136.3 L1062.7,136.0 L1063.2,137.3 L1063.7,136.3 L1064.2,135.6 L1064.7,136.4 L1065.2,133.7 L1065.7,135.5 L1066.2,135.7 L1066.7,134.4 L1067.2,136.4 L1067.7,136.5 L1068.2,135.3 L1068.7,135.9 L1069.2,136.9 L1069.7,137.4 L1070.2,135.0 L1070.7,136.4 L1071.2,137.3 L1071.7,135.9 L1072.2,134.9 L1072.7,134.8 L1073.2,135.4 L1073.7,134.4 L1074.2,138.4 L1074.7,135.0 L1075.2,136.2 L1075.7,135.9 L1076.2,136.4 L1076.7,135.1 L1077.2,133.8 L1077.7,137.6 L1078.2,135.4 L1078.7,135.6 L1079.2,135.6 L1079.7,137.0 L1080.2,136.3 L1080.7,136.8 L1081.2,136.3 L1081.7,135.4 L1082.2,135.5 L1082.7,134.1 L1083.2,132.5 L1083.7,134.7 L1084.2,133.5 L1084.7,138.2 L1085.2,136.9 L1085.7,136.3 L1086.2,134.0 L1086.7,137.3 L1087.2,132.4 L1087.7,133.0 L1088.2,133.4 L1088.7,133.1 L1089.2,134.5 L1089.7,134.4 L1090.2,136.6 L1090.7,135.3 L1091.2,135.5 L1091.7,134.3 L1092.2,133.5 L1092.7,132.6 L1093.2,131.4 L1093.7,132.1 L1094.2,132.6 L1094.7,134.0 L1095.2,130.7 L1095.7,130.9 L1096.2,132.9 L1096.7,131.1 L1097.2,132.7 L1097.7,131.6 L1098.2,131.0 L1098.7,130.1 L1099.2,131.5 L1099.7,130.6 L1100.2,130.6 L1100.7,130.4 L1101.2,131.3 L1101.7,131.1 L1102.2,128.5 L1102.7,130.4 L1103.2,130.9 L1103.7,131.6 L1104.2,131.1 L1104.7,130.2 L1105.2,128.3 L1105.7,128.7 L1106.2,130.7 L1106.7,128.5 L1107.2,130.6 L1107.7,130.7 L1108.2,127.6 L1108.7,129.4 L1109.2,128.5 L1109.7,131.2 L1110.2,129.5 L1110.7,127.7 L1111.2,128.7 L1111.7,126.9 L1112.2,127.8 L1112.7,128.2 L1113.2,128.0 L1113.7,128.1 L1114.2,126.5 L1114.7,125.2 L1115.2,127.0 L1115.7,126.3 L1116.2,126.5 L1116.7,130.1 L1117.2,128.8 L1117.7,127.0 L1118.2,125.4 L1118.7,125.5 L1119.2,127.7 L1119.7,128.6 L1120.2,126.8 L1120.7,127.4 L1121.2,127.5 L1121.7,128.6 L1122.2,124.8 L1122.7,127.4 L1123.2,127.8 L1123.7,128.5 L1124.2,127.8 L1124.7,125.8 L1125.2,126.5 L1125.7,125.3 L1126.2,127.5 L1126.7,127.5 L1127.2,128.0 L1127.7,126.1 L1128.2,125.9 L1128.7,129.3 L1129.2,127.6 L1129.7,129.6 L1130.2,128.0 L1130.7,125.5 L1131.2,128.5 L1131.7,129.0 L1132.2,126.9 L1132.7,125.0 L1133.2,128.4 L1133.7,127.3 L1134.2,127.9 L1134.7,124.1 L1135.2,128.2 L1135.7,124.0 L1136.2,126.5 L1136.7,128.8 L1137.2,125.3 L1137.7,125.2 L1138.2,127.1 L1138.7,129.8 L1139.2,129.8 L1139.7,126.9 L1140.2,129.0 L1140.7,128.5 L1141.2,128.1 L1141.7,128.3 L1142.2,126.9 L1142.7,128.9 L1143.2,129.2 L1143.7,131.4 L1144.2,129.1 L1144.7,124.7 L1145.2,126.3 L1145.7,128.3 L1146.2,128.0 L1146.7,125.5 L1147.2,127.8 L1147.7,127.5 L1148.2,127.9 L1148.7,127.8 L1149.2,129.2 L1149.7,129.9 L1150.2,128.9 L1150.7,126.5 L1151.2,126.9 L1151.7,127.1 L1152.2,127.9 L1152.7,127.4 L1153.2,127.5 L1153.7,126.8 L1154.2,129.2 L1154.7,129.1 L1155.2,129.2 L1155.7,127.8 L1156.2,128.5 L1156.7,126.7 L1157.2,126.5 L1157.7,127.1 L1158.2,128.5 L1158.7,127.5 L1159.2,126.2 L1159.7,127.7 L1160.2,128.1 L1160.7,127.7 L1161.2,126.6 L1161.7,127.5 L1162.2,126.8 L1162.7,126.8 L1163.2,127.1 L1163.7,128.1 L1164.2,129.4 L1164.7,129.0 L1165.2,127.7 L1165.7,126.3 L1166.2,126.4 L1166.7,126.3 L1167.2,128.1 L1167.7,122.9 L1168.2,126.8 L1168.7,123.8 L1169.2,126.3 L1169.7,127.9 L1170.2,124.9 L1170.7,123.1 L1171.2,127.6 L1171.7,127.8 L1172.2,126.4 L1172.7,127.3 L1173.2,124.6 L1173.7,127.0 L1174.2,127.7 L1174.7,126.2 L1175.2,125.6 L1175.7,126.9 L1176.2,126.6 L1176.7,124.1 L1177.2,126.7 L1177.7,125.8 L1178.2,125.0 L1178.7,126.4 L1179.2,125.9 L1179.7,125.6 L1180.2,123.9 L1180.7,125.5 L1181.2,122.9 L1181.7,124.2 L1182.2,122.1 L1182.7,122.0 L1183.2,124.7 L1183.7,124.0 L1184.2,124.2 L1184.7,124.8 L1185.2,124.4 L1185.7,122.8 L1186.2,124.0 L1186.7,123.8 L1187.2,123.1 L1187.7,123.6 L1188.2,123.3 L1188.7,122.9 L1189.2,123.2 L1189.7,124.0 L1190.2,126.3 L1190.7,122.5 L1191.2,124.2 L1191.7,121.6 L1192.2,125.6 L1192.7,123.0 L1193.2,123.6 L1193.7,125.1 L1194.2,124.7 L1194.7,121.4 L1195.2,124.1 L1195.7,123.0 L1196.2,124.1 L1196.7,123.5 L1197.2,124.2 L1197.7,123.6 L1198.2,123.0 L1198.7,124.7 L1199.2,121.1 L1199.7,122.6 L1200.2,121.9 L1200.7,122.9 L1201.2,122.5 L1201.7,122.8 L1202.2,122.4 L1202.7,122.4 L1203.2,120.8 L1203.7,122.9 L1204.2,123.3 L1204.7,122.1 L1205.2,122.0 L1205.7,122.0 L1206.2,125.0 L1206.7,123.1 L1207.2,123.3 L1207.7,122.4 L1208.2,122.1 L1208.7,121.6 L1209.2,124.7 L1209.7,120.5 L1210.2,123.1 L1210.7,122.6 L1211.2,122.3 L1211.7,120.6 L1212.2,121.0 L1212.7,123.8 L1213.2,121.6 L1213.7,123.6 L1214.2,123.3 L1214.7,123.2 L1215.2,123.4 L1215.7,120.8 L1216.2,121.8 L1216.7,123.2 L1217.2,120.7 L1217.7,124.4 L1218.2,121.5 L1218.7,122.1 L1219.2,120.9 L1219.7,122.6 L1220.2,121.2 L1220.7,121.8 L1221.2,120.6 L1221.7,123.6 L1222.2,119.9 L1222.7,122.5 L1223.2,122.2 L1223.7,122.5 L1224.2,120.5 L1224.7,123.1 L1225.2,123.0 L1225.7,121.9 L1226.2,122.1 L1226.7,121.4 L1227.2,122.4 L1227.7,120.5 L1228.2,122.2 L1228.7,122.0 L1229.2,119.6 L1229.7,118.0 L1230.2,121.2 L1230.7,121.1 L1231.2,122.8 L1231.7,121.3 L1232.2,120.5 L1232.7,119.3 L1233.2,121.0 L1233.7,120.3 L1234.2,119.5 L1234.7,120.8 L1235.2,122.3 L1235.7,121.0 L1236.2,119.4 L1236.7,121.2 L1237.2,119.3 L1237.7,118.6 L1238.2,121.3 L1238.7,119.9 L1239.2,122.0 L1239.7,120.9 L1240.2,119.4 L1240.7,120.7 L1241.2,122.1 L1241.7,120.1 L1242.2,118.9 L1242.7,119.4 L1243.2,119.2 L1243.7,118.7 L1244.2,118.5 L1244.7,120.7 L1245.2,121.5 L1245.7,119.6 L1246.2,121.0 L1246.7,121.2 L1247.2,122.1 L1247.7,119.7 L1248.2,119.4 L1248.7,120.4 L1249.2,120.0 L1249.7,120.2 L1250.2,121.5 L1250.7,119.2 L1251.2,120.0 L1251.7,118.4 L1252.2,119.5 L1252.7,118.8 L1253.2,118.7 L1253.7,119.4 L1254.2,119.1 L1254.7,120.1 L1255.2,120.6 L1255.7,117.6 L1256.2,120.9 L1256.7,116.6 L1257.2,119.8 L1257.7,120.4 L1258.2,118.6 L1258.7,119.2 L1259.2,118.4 L1259.7,120.6 L1260.2,115.3 L1260.7,118.1 L1261.2,116.9 L1261.7,119.6 L1262.2,121.0 L1262.7,120.9 L1263.2,120.2 L1263.7,119.6 L1264.2,118.3 L1264.7,120.9 L1265.2,120.1 L1265.7,118.1 L1266.2,117.6 L1266.7,118.4 L1267.2,120.6 L1267.7,120.8 L1268.2,121.3 L1268.7,118.1 L1269.2,118.7 L1269.7,120.9 L1270.2,119.4 L1270.7,120.1 L1271.2,117.4 L1271.7,118.6 L1272.2,119.0 L1272.7,118.6 L1273.2,118.5 L1273.7,116.9 L1274.2,121.1 L1274.7,119.2 L1275.2,117.1 L1275.7,120.4 L1276.2,119.1 L1276.7,119.9 L1277.2,118.7 L1277.7,118.0 L1278.2,118.0 L1278.7,119.4 L1279.2,120.0 L1279.7,119.6 L1280.2,119.8 L1280.7,120.5 L1281.2,119.3 L1281.7,120.2 L1282.2,120.4 L1282.7,119.3 L1283.2,118.8 L1283.7,118.4 L1284.2,117.4 L1284.7,116.9 L1285.2,120.6 L1285.7,118.9 L1286.2,118.2 L1286.7,121.0 L1287.2,120.2 L1287.7,119.0 L1288.2,120.3 L1288.7,118.7 L1289.2,119.4 L1289.7,121.3 L1290.2,120.4 L1290.7,118.6 L1291.2,119.9 L1291.7,120.5 L1292.2,118.9 L1292.7,118.5 L1293.2,121.5 L1293.7,118.7 L1294.2,117.3 L1294.7,119.3 L1295.2,122.1 L1295.7,119.9 L1296.2,120.4 L1296.7,116.3 L1297.2,118.5 L1297.7,120.8 L1298.2,118.7 L1298.7,120.9 L1299.2,119.9 L1299.7,119.8 L1300.2,121.5 L1300.7,118.6 L1301.2,118.7 L1301.7,119.5 L1302.2,119.6 L1302.7,117.1 L1303.2,121.0 L1303.7,119.7 L1304.2,119.2 L1304.7,120.2 L1305.2,118.9 L1305.7,121.0 L1306.2,119.5 L1306.7,120.4 L1307.2,118.3 L1307.7,119.1 L1308.2,120.0 L1308.7,118.3 L1309.2,118.7 L1309.7,119.5 L1310.2,121.0 L1310.7,120.6 L1311.2,120.8 L1311.7,120.0 L1312.2,120.8 L1312.7,121.7 L1313.2,119.9 L1313.7,120.3 L1314.2,120.5 L1314.7,117.1 L1315.2,119.6 L1315.7,120.3 L1316.2,120.8 L1316.7,119.4 L1317.2,121.1 L1317.7,119.0 L1318.2,119.6 L1318.7,122.0 L1319.2,118.1 L1319.7,119.8 L1320.2,119.7 L1320.7,119.8 L1321.2,119.2 L1321.7,120.8 L1322.2,118.6 L1322.7,118.3 L1323.2,120.6 L1323.7,118.5 L1324.2,120.5 L1324.7,120.1 L1325.2,119.2 L1325.7,119.6 L1326.2,120.0 L1326.7,120.7 L1327.2,119.3 L1327.7,119.9 L1328.2,118.3 L1328.7,119.8 L1329.2,117.7 L1329.7,120.2 L1330.2,119.6 L1330.7,123.0 L1331.2,121.9 L1331.7,120.1 L1332.2,121.6 L1332.7,120.7 L1333.2,118.9 L1333.7,117.2 L1334.2,121.8 L1334.7,120.9 L1335.2,117.9 L1335.7,121.3 L1336.2,121.7 L1336.7,119.6 L1337.2,121.6 L1337.7,118.3 L1338.2,120.3 L1338.7,120.7 L1339.2,121.7 L1339.7,121.2 L1340.2,121.0 L1340.7,121.5 L1341.2,119.9 L1341.7,122.7 L1342.2,120.4 L1342.7,121.9 L1343.2,120.9 L1343.7,120.6 L1344.2,121.7 L1344.7,121.5 L1345.2,122.7 L1345.7,122.4 L1346.2,120.3 L1346.7,121.7 L1347.2,121.3 L1347.7,120.1 L1348.2,119.8 L1348.7,121.5 L1349.2,120.6 L1349.7,119.5 L1350.2,121.2 L1350.7,121.6 L1351.2,121.5 L1351.7,119.9 L1352.2,120.7 L1352.7,123.3 L1353.2,120.5 L1353.7,121.1 L1354.2,124.6 L1354.7,122.1 L1355.2,121.0 L1355.7,119.2 L1356.2,122.2 L1356.7,120.0 L1357.2,121.8 L1357.7,120.8 L1358.2,119.8 L1358.7,124.1 L1359.2,121.9 L1359.7,123.3 L1360.2,123.1 L1360.7,121.2 L1361.2,122.3 L1361.7,121.8 L1362.2,123.6 L1362.7,122.9 L1363.2,122.0 L1363.7,124.6 L1364.2,123.2 L1364.7,123.2 L1365.2,121.6 L1365.7,123.2 L1366.2,120.8 L1366.7,123.4 L1367.2,121.6 L1367.7,123.2 L1368.2,122.6 L1368.7,123.3 L1369.2,123.5 L1369.7,123.1 L1370.2,123.1 L1370.7,121.3 L1371.2,120.9 L1371.7,125.0 L1372.2,124.2 L1372.7,121.6 L1373.2,126.1 L1373.7,122.7 L1374.2,124.4 L1374.7,124.3 L1375.2,124.0 L1375.7,124.7 L1376.2,122.2 L1376.7,124.0 L1377.2,123.8 L1377.7,124.3 L1378.2,123.9 L1378.7,123.5 L1379.2,123.5 L1379.7,125.6 L1380.2,123.4 L1380.7,125.1 L1381.2,125.1 L1381.7,124.6 L1382.2,125.4 L1382.7,125.6 L1383.2,124.3 L1383.7,125.5 L1384.2,127.6 L1384.7,123.8 L1385.2,124.9 L1385.7,124.4 L1386.2,128.0 L1386.7,123.7 L1387.2,125.6 L1387.7,126.9 L1388.2,124.6 L1388.7,125.6 L1389.2,124.9 L1389.7,124.2 L1390.2,125.9 L1390.7,126.7 L1391.2,125.6 L1391.7,126.4 L1392.2,127.2 L1392.7,127.9 L1393.2,124.8 L1393.7,127.3 L1394.2,125.7 L1394.7,124.1 L1395.2,125.6 L1395.7,127.6 L1396.2,127.2 L1396.7,125.4 L1397.2,129.0 L1397.7,127.5 L1398.2,126.9 L1398.7,126.4 L1399.2,127.7 L1399.7,126.7 L1400.2,128.8 L1400.7,127.7 L1401.2,128.2 L1401.7,127.1 L1402.2,125.6 L1402.7,128.3 L1403.2,126.3 L1403.7,127.6 L1404.2,127.7 L1404.7,126.8 L1405.2,129.0 L1405.7,126.1 L1406.2,129.9 L1406.7,127.3 L1407.2,129.4 L1407.7,129.9 L1408.2,127.1 L1408.7,127.3 L1409.2,129.6 L1409.7,128.7 L1410.2,128.6 L1410.7,126.2 L1411.2,126.5 L1411.7,129.3 L1412.2,130.6 L1412.7,127.9 L1413.2,127.7 L1413.7,129.2 L1414.2,129.6 L1414.7,129.7 L1415.2,128.5 L1415.7,126.6 L1416.2,131.1 L1416.7,128.6 L1417.2,130.9 L1417.7,126.8 L1418.2,129.9 L1418.7,128.9 L1419.2,128.2 L1419.7,130.9 L1420.2,131.4 L1420.7,129.0 L1421.2,130.7 L1421.7,128.5 L1422.2,129.1 L1422.7,129.7 L1423.2,129.6 L1423.7,131.0 L1424.2,128.6 L1424.7,131.5 L1425.2,131.6 L1425.7,130.1 L1426.2,128.9 L1426.7,127.5 L1427.2,130.5 L1427.7,129.8 L1428.2,130.9 L1428.7,129.4 L1429.2,130.9 L1429.7,130.9 L1430.2,131.0 L1430.7,131.4 L1431.2,131.5 L1431.7,132.5 L1432.2,130.3 L1432.7,132.3 L1433.2,131.6 L1433.7,130.9 L1434.2,130.2 L1434.7,133.5 L1435.2,132.0 L1435.7,131.1 L1436.2,131.9 L1436.7,131.9 L1437.2,131.2 L1437.7,130.2 L1438.2,132.2 L1438.7,131.9 L1439.2,131.8 L1439.7,133.5 L1440.2,130.6 L1440.7,131.2 L1441.2,132.7 L1441.7,133.6 L1442.2,133.4 L1442.7,133.6 L1443.2,129.9 L1443.7,133.4 L1444.2,133.4 L1444.7,133.8 L1445.2,132.1 L1445.7,133.7 L1446.2,134.5 L1446.7,135.3 L1447.2,133.6 L1447.7,131.7 L1448.2,133.5 L1448.7,134.4 L1449.2,134.3 L1449.7,136.2 L1450.2,133.5 L1450.7,132.6 L1451.2,133.1 L1451.7,134.9 L1452.2,133.1 L1452.7,132.9 L1453.2,133.2 L1453.7,135.9 L1454.2,134.8 L1454.7,134.1 L1455.2,135.7 L1455.7,135.6 L1456.2,133.6 L1456.7,136.0 L1457.2,135.3 L1457.7,132.5 L1458.2,133.7 L1458.7,135.7 L1459.2,136.1 L1459.7,135.2 L1460.2,134.4 L1460.7,136.1 L1461.2,133.5 L1461.7,136.7 L1462.2,136.0 L1462.7,136.3 L1463.2,135.6 L1463.7,137.7 L1464.2,133.8 L1464.7,135.8 L1465.2,137.8 L1465.7,136.4 L1466.2,139.3 L1466.7,138.2 L1467.2,136.8 L1467.7,139.4 L1468.2,138.0 L1468.7,139.1 L1469.2,137.7 L1469.7,137.9 L1470.2,139.8 L1470.7,139.1 L1471.2,138.2 L1471.7,138.2 L1472.2,140.3 L1472.7,141.9 L1473.2,138.7 L1473.7,140.8 L1474.2,136.4 L1474.7,138.4 L1475.2,141.2 L1475.7,142.5 L1476.2,140.6 L1476.7,141.4 L1477.2,141.1 L1477.7,142.1 L1478.2,139.6 L1478.7,141.8 L1479.2,140.6 L1479.7,140.8 L1480.2,141.3 L1480.7,141.1 L1481.2,140.5 L1481.7,141.2 L1482.2,140.4 L1482.7,143.6 L1483.2,142.7 L1483.7,141.3 L1484.2,143.9 L1484.7,143.6 L1485.2,142.7 L1485.7,141.4 L1486.2,142.5 L1486.7,143.0 L1487.2,144.1 L1487.7,142.1 L1488.2,141.7 L1488.7,145.5 L1489.2,144.4 L1489.7,143.0 L1490.2,141.5 L1490.7,143.4 L1491.2,144.3 L1491.7,143.9 L1492.2,144.0 L1492.7,143.1 L1493.2,144.6 L1493.7,142.4 L1494.2,142.7 L1494.7,142.7 L1495.2,142.6 L1495.7,146.0 L1496.2,141.4 L1496.7,144.0 L1497.2,142.5 L1497.7,142.2 L1498.2,144.1 L1498.7,142.0 L1499.2,144.0 L1499.7,147.1 L1500.2,144.1 L1500.7,145.0 L1501.2,143.4 L1501.7,145.2 L1502.2,142.7 L1502.7,145.0 L1503.2,144.6 L1503.7,147.7 L1504.2,144.9 L1504.7,144.6 L1505.2,144.4 L1505.7,143.7 L1506.2,146.3 L1506.7,147.2 L1507.2,145.0 L1507.7,146.4 L1508.2,145.1 L1508.7,146.2 L1509.2,146.3 L1509.7,143.9 L1510.2,144.8 L1510.7,147.1 L1511.2,143.5 L1511.7,146.0 L1512.2,145.6 L1512.7,144.9 L1513.2,146.2 L1513.7,146.6 L1514.2,146.9 L1514.7,142.8 L1515.2,148.4 L1515.7,145.7 L1516.2,147.6 L1516.7,146.1 L1517.2,145.6 L1517.7,146.2 L1518.2,150.4 L1518.7,148.3 L1519.2,145.8 L1519.7,146.6 L1520.2,147.7 L1520.7,147.0 L1521.2,146.4 L1521.7,146.0 L1522.2,144.8 L1522.7,147.2 L1523.2,147.6 L1523.7,149.0 L1524.2,145.4 L1524.7,146.9 L1525.2,146.0 L1525.7,147.6 L1526.2,145.8 L1526.7,145.0 L1527.2,143.6 L1527.7,146.7 L1528.2,145.9 L1528.7,147.1 L1529.2,144.9 L1529.7,148.9 L1530.2,144.6 L1530.7,146.1 L1531.2,145.9 L1531.7,146.7 L1532.2,145.0 L1532.7,143.9 L1533.2,143.8 L1533.7,146.0 L1534.2,145.0 L1534.7,145.2 L1535.2,143.6 L1535.7,144.8 L1536.2,144.8 L1536.7,145.2 L1537.2,142.4 L1537.7,143.2 L1538.2,146.3 L1538.7,143.4 L1539.2,143.7 L1539.7,143.2 L1540.2,141.7 L1540.7,142.1 L1541.2,143.8 L1541.7,142.3 L1542.2,145.7 L1542.7,141.0 L1543.2,140.2 L1543.7,141.9 L1544.2,140.4 L1544.7,143.3 L1545.2,140.4 L1545.7,141.0 L1546.2,137.8 L1546.7,139.8 L1547.2,139.1 L1547.7,139.1 L1548.2,137.0 L1548.7,136.7 L1549.2,135.5 L1549.7,135.7 L1550.2,133.3 L1550.7,133.8 L1551.2,131.7 L1551.7,132.7 L1552.2,130.8 L1552.7,129.6 L1553.2,128.8 L1553.7,130.9 L1554.2,126.3 L1554.7,125.6 L1555.2,127.7 L1555.7,124.8 L1556.2,124.8 L1556.7,124.0 L1557.2,126.9 L1557.7,122.4 L1558.2,121.7 L1558.7,121.4 L1559.2,121.6 L1559.7,121.2 L1560.2,117.9 L1560.7,119.6 L1561.2,120.7 L1561.7,115.0 L1562.2,117.3 L1562.7,116.8 L1563.2,115.3 L1563.7,114.2 L1564.2,110.8 L1564.7,115.1 L1565.2,112.8 L1565.7,112.8 L1566.2,114.8 L1566.7,110.4 L1567.2,113.7 L1567.7,115.2 L1568.2,116.0 L1568.7,116.7 L1569.2,119.4 L1569.7,118.1 L1570.2,120.1 L1570.7,120.8 L1571.2,118.8 L1571.7,120.8 L1572.2,125.4 L1572.7,123.3 L1573.2,124.6 L1573.7,124.1 L1574.2,126.5 L1574.7,126.5 L1575.2,128.7 L1575.7,131.5 L1576.2,130.9 L1576.7,132.4 L1577.2,136.2 L1577.7,136.2 L1578.2,137.3 L1578.7,138.8 L1579.2,137.6 L1579.7,138.6 L1580.2,137.2 L1580.7,141.5 L1581.2,141.0 L1581.7,142.0 L1582.2,141.3 L1582.7,144.1 L1583.2,144.8 L1583.7,144.8 L1584.2,143.1 L1584.7,144.7 L1585.2,146.3 L1585.7,145.8 L1586.2,147.8 L1586.7,149.1 L1587.2,147.3 L1587.7,148.4 L1588.2,148.2 L1588.7,150.7 L1589.2,150.9 L1589.7,153.5 L1590.2,150.3 L1590.7,149.4 L1591.2,151.4 L1591.7,150.9 L1592.2,151.7 L1592.7,153.3 L1593.2,151.5 L1593.7,153.1 L1594.2,149.6 L1594.7,153.9 L1595.2,152.9 L1595.7,152.7 L1596.2,152.5 L1596.7,155.2 L1597.2,152.9 L1597.7,155.4 L1598.2,153.2 L1598.7,154.1 L1599.2,154.7 L1599.7,157.0 L1600.2,154.8 L1600.7,154.9 L1601.2,154.7 L1601.7,154.5 L1602.2,154.3 L1602.7,157.5 L1603.2,157.2 L1603.7,154.5 L1604.2,155.8 L1604.7,154.1 L1605.2,157.0 L1605.7,156.8 L1606.2,156.1 L1606.7,155.0 L1607.2,157.2 L1607.7,157.1 L1608.2,156.2 L1608.7,157.4 L1609.2,154.8 L1609.7,155.9 L1610.2,155.5 L1610.7,157.0 L1611.2,159.1 L1611.7,157.1 L1612.2,158.6 L1612.7,157.2 L1613.2,156.8 L1613.7,158.7 L1614.2,158.2 L1614.7,159.4 L1615.2,158.9 L1615.7,156.6 L1616.2,154.5 L1616.7,158.0 L1617.2,156.4 L1617.7,156.2 L1618.2,156.2 L1618.7,157.4 L1619.2,158.0 L1619.7,158.4 L1620.2,161.1 L1620.7,157.0 L1621.2,158.7 L1621.7,157.2 L1622.2,157.6 L1622.7,159.1 L1623.2,159.6 L1623.7,157.5 L1624.2,160.8 L1624.7,158.2 L1625.2,160.8 L1625.7,159.6 L1626.2,161.0 L1626.7,160.7 L1627.2,159.7 L1627.7,160.8 L1628.2,158.6 L1628.7,158.8 L1629.2,160.2 L1629.7,162.6 L1630.2,160.1 L1630.7,160.4 L1631.2,163.6 L1631.7,161.6 L1632.2,161.7 L1632.7,160.6 L1633.2,162.2 L1633.7,163.1 L1634.2,162.4 L1634.7,163.6 L1635.2,163.2 L1635.7,164.3 L1636.2,164.2 L1636.7,163.1 L1637.2,164.6 L1637.7,165.9 L1638.2,164.1 L1638.7,162.3 L1639.2,164.2 L1639.7,163.8 L1640.2,167.6 L1640.7,165.3 L1641.2,162.9 L1641.7,164.2 L1642.2,166.4 L1642.7,163.1 L1643.2,164.0 L1643.7,164.7 L1644.2,164.5 L1644.7,164.0 L1645.2,165.0 L1645.7,163.1 L1646.2,164.2 L1646.7,164.2 L1647.2,164.7 L1647.7,164.7 L1648.2,165.1 L1648.7,164.7 L1649.2,164.7 L1649.7,165.8 L1650.2,166.5 L1650.7,166.6 L1651.2,163.9 L1651.7,165.8 L1652.2,166.5 L1652.7,165.2 L1653.2,166.2 L1653.7,165.3 L1654.2,166.1 L1654.7,163.7 L1655.2,166.3 L1655.7,165.1 L1656.2,164.8 L1656.7,165.4 L1657.2,167.1 L1657.7,167.1 L1658.2,166.2 L1658.7,167.1 L1659.2,165.4 L1659.7,164.4 L1660.2,163.6 L1660.7,166.0 L1661.2,165.9 L1661.7,166.1 L1662.2,166.2 L1662.7,167.7 L1663.2,164.9 L1663.7,165.1 L1664.2,168.6 L1664.7,167.1 L1665.2,165.8 L1665.7,163.5 L1666.2,165.1 L1666.7,165.7 L1667.2,166.1 L1667.7,166.4 L1668.2,165.9 L1668.7,167.6 L1669.2,164.6 L1669.7,165.8 L1670.2,165.3 L1670.7,167.2 L1671.2,166.4 L1671.7,167.2 L1672.2,166.2 L1672.7,171.0 L1673.2,167.1 L1673.7,165.1 L1674.2,166.1 L1674.7,165.6 L1675.2,167.1 L1675.7,167.3 L1676.2,166.6 L1676.7,165.8 L1677.2,165.2 L1677.7,168.1 L1678.2,167.5 L1678.7,162.2 L1679.2,166.1 L1679.7,164.9 L1680.2,165.5 L1680.7,168.2 L1681.2,164.5 L1681.7,164.6 L1682.2,169.1 L1682.7,165.3 L1683.2,165.6 L1683.7,167.4 L1684.2,165.2 L1684.7,165.9 L1685.2,166.2 L1685.7,167.6 L1686.2,163.7 L1686.7,164.7 L1687.2,165.6 L1687.7,166.9 L1688.2,164.9 L1688.7,166.3 L1689.2,165.0 L1689.7,165.1 L1690.2,167.3 L1690.7,165.3 L1691.2,169.4 L1691.7,166.0 L1692.2,166.9 L1692.7,166.4 L1693.2,163.3 L1693.7,163.2 L1694.2,165.7 L1694.7,163.5 L1695.2,164.1 L1695.7,164.2 L1696.2,163.2 L1696.7,165.7 L1697.2,165.0 L1697.7,164.0 L1698.2,164.2 L1698.7,162.0 L1699.2,164.1 L1699.7,161.5 L1700.2,164.2 L1700.7,160.8 L1701.2,160.3 L1701.7,161.9 L1702.2,160.6 L1702.7,157.8 L1703.2,159.1 L1703.7,157.5 L1704.2,156.8 L1704.7,156.9 L1705.2,156.2 L1705.7,156.0 L1706.2,154.6 L1706.7,153.6 L1707.2,152.3 L1707.7,153.7 L1708.2,149.9 L1708.7,152.7 L1709.2,152.2 L1709.7,151.4 L1710.2,147.6 L1710.7,149.6 L1711.2,147.5 L1711.7,146.5 L1712.2,148.5 L1712.7,143.5 L1713.2,142.9 L1713.7,139.4 L1714.2,136.9 L1714.7,138.8 L1715.2,137.6 L1715.7,136.6 L1716.2,134.6 L1716.7,130.3 L1717.2,132.0 L1717.7,131.6 L1718.2,131.0 L1718.7,126.6 L1719.2,125.7 L1719.7,125.1 L1720.2,124.5 L1720.7,122.6 L1721.2,123.2 L1721.7,125.6 L1722.2,121.6 L1722.7,120.1 L1723.2,121.7 L1723.7,121.1 L1724.2,122.5 L1724.7,120.5 L1725.2,121.4 L1725.7,120.7 L1726.2,121.0 L1726.7,123.3 L1727.2,123.6 L1727.7,124.1 L1728.2,125.7 L1728.7,124.8 L1729.2,126.8 L1729.7,128.0 L1730.2,130.2 L1730.7,127.1 L1731.2,130.1 L1731.7,132.4 L1732.2,132.4 L1732.7,134.7 L1733.2,136.9 L1733.7,138.1 L1734.2,136.7 L1734.7,138.8 L1735.2,138.0 L1735.7,143.7 L1736.2,144.3 L1736.7,146.9 L1737.2,146.4 L1737.7,146.0 L1738.2,150.0 L1738.7,147.9 L1739.2,150.6 L1739.7,151.3 L1740.2,153.4 L1740.7,154.4 L1741.2,153.3 L1741.7,153.5 L1742.2,155.0 L1742.7,154.9 L1743.2,157.5 L1743.7,157.3 L1744.2,159.1 L1744.7,161.2 L1745.2,157.2 L1745.7,158.0 L1746.2,159.8 L1746.7,160.1 L1747.2,159.5 L1747.7,158.1 L1748.2,164.0 L1748.7,161.0 L1749.2,159.6 L1749.7,158.2 L1750.2,163.3 L1750.7,162.0 L1751.2,161.6 L1751.7,160.4 L1752.2,161.7 L1752.7,161.4 L1753.2,158.7 L1753.7,165.5 L1754.2,162.6 L1754.7,161.7 L1755.2,160.9 L1755.7,161.4 L1756.2,165.4 L1756.7,162.8 L1757.2,160.5 L1757.7,163.5 L1758.2,162.9 L1758.7,162.9 L1759.2,162.0 L1759.7,161.8 L1760.2,162.1 L1760.7,161.3 L1761.2,159.5 L1761.7,159.8 L1762.2,160.8 L1762.7,158.4 L1763.2,160.0 L1763.7,159.4 L1764.2,160.4 L1764.7,159.4 L1765.2,158.4 L1765.7,158.1 L1766.2,158.7 L1766.7,159.1 L1767.2,156.2 L1767.7,155.3 L1768.2,156.1 L1768.7,153.9 L1769.2,155.7 L1769.7,157.6 L1770.2,157.7 L1770.7,158.2 L1771.2,156.1 L1771.7,156.1 L1772.2,155.0 L1772.7,154.9 L1773.2,155.8 L1773.7,156.5 L1774.2,155.7 L1774.7,152.3 L1775.2,155.5 L1775.7,154.7 L1776.2,153.8 L1776.7,154.6 L1777.2,155.5 L1777.7,154.3 L1778.2,153.0 L1778.7,158.2 L1779.2,152.8 L1779.7,154.1 L1780.2,155.0 L1780.7,152.0 L1781.2,153.7 L1781.7,151.7 L1782.2,152.3 L1782.7,151.5 L1783.2,154.6 L1783.7,150.3 L1784.2,152.6 L1784.7,151.8 L1785.2,149.0 L1785.7,153.7 L1786.2,150.5 L1786.7,150.7 L1787.2,151.1 L1787.7,149.4 L1788.2,149.3 L1788.7,150.0 L1789.2,148.6 L1789.7,149.5 L1790.2,150.7 L1790.7,147.3 L1791.2,146.0 L1791.7,147.4 L1792.2,147.5 L1792.7,147.2 L1793.2,144.2 L1793.7,141.9 L1794.2,145.4 L1794.7,144.4 L1795.2,144.7 L1795.7,140.6 L1796.2,141.8 L1796.7,141.5 L1797.2,136.9 L1797.7,139.7 L1798.2,139.1 L1798.7,137.0 L1799.2,135.8 L1799.7,134.8 L1800.2,132.2 L1800.7,129.3 L1801.2,128.6 L1801.7,128.0 L1802.2,125.5 L1802.7,126.1 L1803.2,122.1 L1803.7,120.2 L1804.2,115.7 L1804.7,116.0 L1805.2,111.9 L1805.7,112.0 L1806.2,105.0 L1806.7,104.8 L1807.2,101.0 L1807.7,98.2 L1808.2,97.9 L1808.7,93.9 L1809.2,88.3 L1809.7,87.9 L1810.2,81.9 L1810.7,80.3 L1811.2,73.4 L1811.7,71.7 L1812.2,68.2 L1812.7,64.5 L1813.2,58.8 L1813.7,54.3 L1814.2,52.8 L1814.7,49.9 L1815.2,45.9 L1815.7,42.6 L1816.2,38.3 L1816.7,37.3 L1817.2,34.4 L1817.7,31.8 L1818.2,30.8 L1818.7,28.9 L1819.2,27.6 L1819.7,25.5 L1820.2,23.8 L1820.7,23.7 L1821.2,22.8 L1821.7,20.6 L1822.2,22.1 L1822.7,20.6 L1823.2,20.7 L1823.7,22.9 L1824.2,24.0 L1824.7,26.8 L1825.2,26.6 L1825.7,28.9 L1826.2,31.4 L1826.7,31.4 L1827.2,33.9 L1827.7,35.1 L1828.2,39.9 L1828.7,41.9 L1829.2,45.1 L1829.7,46.8 L1830.2,50.3 L1830.7,53.9 L1831.2,58.6 L1831.7,63.8 L1832.2,64.4 L1832.7,69.9 L1833.2,73.7 L1833.7,80.4 L1834.2,80.4 L1834.7,83.1 L1835.2,87.8 L1835.7,88.4 L1836.2,93.4 L1836.7,93.5 L1837.2,101.2 L1837.7,101.4 L1838.2,103.9 L1838.7,105.8 L1839.2,110.5 L1839.7,113.9 L1840.2,115.9 L1840.7,121.5 L1841.2,122.4 L1841.7,125.8 L1842.2,128.7 L1842.7,132.5 L1843.2,132.6 L1843.7,135.6 L1844.2,138.2 L1844.7,140.8 L1845.2,139.7 L1845.7,145.5 L1846.2,145.5 L1846.7,146.2 L1847.2,148.3 L1847.7,146.9 L1848.2,149.4 L1848.7,151.6 L1849.2,154.0 L1849.7,153.0 L1850.2,154.4 L1850.7,154.2 L1851.2,156.4 L1851.7,155.3 L1852.2,156.9 L1852.7,156.3 L1853.2,155.9 L1853.7,156.2 L1854.2,157.0 L1854.7,159.6 L1855.2,162.6 L1855.7,158.5 L1856.2,158.1 L1856.7,160.0 L1857.2,160.3 L1857.7,159.2 L1858.2,162.6 L1858.7,161.5 L1859.2,161.8 L1859.7,160.8 L1860.2,161.1 L1860.7,162.3 L1861.2,159.4 L1861.7,160.3 L1862.2,161.5 L1862.7,159.5 L1863.2,163.6 L1863.7,160.7 L1864.2,160.9 L1864.7,161.9 L1865.2,163.4 L1865.7,161.4 L1866.2,160.4 L1866.7,160.2 L1867.2,161.7 L1867.7,160.6 L1868.2,164.4 L1868.7,162.9 L1869.2,157.1 L1869.7,159.9 L1870.2,161.5 L1870.7,164.0 L1871.2,158.3 L1871.7,160.3 L1872.2,162.4 L1872.7,159.9 L1873.2,160.8 L1873.7,160.0 L1874.2,161.5 L1874.7,159.1 L1875.2,160.5 L1875.7,158.5 L1876.2,161.6 L1876.7,161.0 L1877.2,160.1 L1877.7,160.2 L1878.2,160.1 L1878.7,159.5 L1879.2,160.1 L1879.7,160.4 L1880.2,159.7 L1880.7,159.0 L1881.2,159.2 L1881.7,159.1 L1882.2,160.2 L1882.7,159.7 L1883.2,162.0 L1883.7,159.2 L1884.2,159.5 L1884.7,158.5 L1885.2,159.4 L1885.7,158.6 L1886.2,158.0 L1886.7,159.3 L1887.2,161.1 L1887.7,157.8 L1888.2,158.0 L1888.7,158.7 L1889.2,159.0 L1889.7,160.3 L1890.2,157.7 L1890.7,158.3 L1891.2,157.4 L1891.7,157.2 L1892.2,157.6 L1892.7,156.7 L1893.2,158.7 L1893.7,159.4 L1894.2,157.2 L1894.7,156.9 L1895.2,159.4 L1895.7,157.3 L1896.2,159.4 L1896.7,153.6 L1897.2,157.0 L1897.7,155.8 L1898.2,156.3 L1898.7,157.8 L1899.2,158.0 L1899.7,156.1 L1900.2,157.4 L1900.7,154.5 L1901.2,156.1 L1901.7,155.3 L1902.2,153.0 L1902.7,156.1 L1903.2,153.8 L1903.7,155.0 L1904.2,153.2 L1904.7,154.1 L1905.2,154.4 L1905.7,153.4 L1906.2,152.5 L1906.7,153.7 L1907.2,152.9 L1907.7,151.9 L1908.2,152.2 L1908.7,151.8 L1909.2,151.3 L1909.7,152.7 L1910.2,153.6 L1910.7,150.5 L1911.2,150.9 L1911.7,149.7 L1912.2,149.0 L1912.7,152.1 L1913.2,149.7 L1913.7,151.0 L1914.2,148.7 L1914.7,149.6 L1915.2,151.1 L1915.7,151.1 L1916.2,150.8 L1916.7,151.0 L1917.2,150.8 L1917.7,151.8 L1918.2,152.7 L1918.7,151.3 L1919.2,150.4 L1919.7,149.2 L1920.2,149.9 L1920.7,150.2 L1921.2,152.5 L1921.7,148.6 L1922.2,149.6 L1922.7,149.3 L1923.2,151.8 L1923.7,149.8 L1924.2,148.3 L1924.7,148.1 L1925.2,151.2 L1925.7,148.7 L1926.2,152.2 L1926.7,152.2 L1927.2,149.4 L1927.7,150.5 L1928.2,150.9 L1928.7,149.0 L1929.2,149.4 L1929.7,150.2 L1930.2,151.0 L1930.7,151.4 L1931.2,148.7 L1931.7,151.5 L1932.2,151.1 L1932.7,151.0 L1933.2,150.8 L1933.7,152.8 L1934.2,153.6 L1934.7,151.1 L1935.2,151.5 L1935.7,149.8 L1936.2,151.4 L1936.7,152.9 L1937.2,152.0 L1937.7,152.7 L1938.2,152.2 L1938.7,152.6 L1939.2,153.5 L1939.7,153.8 L1940.2,150.4 L1940.7,152.7 L1941.2,149.4 L1941.7,153.3 L1942.2,152.7 L1942.7,152.8 L1943.2,155.8 L1943.7,154.3 L1944.2,155.5 L1944.7,155.0 L1945.2,156.5 L1945.7,154.2 L1946.2,154.3 L1946.7,154.7 L1947.2,158.2 L1947.7,154.7 L1948.2,155.5 L1948.7,157.5 L1949.2,157.2 L1949.7,155.6 L1950.2,158.8 L1950.7,157.4 L1951.2,159.0 L1951.7,158.2 L1952.2,158.7 L1952.7,157.0 L1953.2,160.1 L1953.7,157.7 L1954.2,159.0 L1954.7,160.6 L1955.2,159.1 L1955.7,160.0 L1956.2,160.2 L1956.7,160.6 L1957.2,161.5 L1957.7,159.1 L1958.2,160.6 L1958.7,164.3 L1959.2,159.4 L1959.7,161.3 L1960.2,163.5 L1960.7,160.3 L1961.2,161.8 L1961.7,162.1 L1962.2,165.4 L1962.7,162.4 L1963.2,164.6 L1963.7,163.2 L1964.2,164.2 L1964.7,162.9 L1965.2,162.7 L1965.7,164.2 L1966.2,163.2 L1966.7,165.0 L1967.2,165.5 L1967.7,166.1 L1968.2,167.7 L1968.7,167.8 L1969.2,164.7 L1969.7,165.3 L1970.2,168.7 L1970.7,166.6 L1971.2,166.4 L1971.7,168.4 L1972.2,166.4 L1972.7,168.6 L1973.2,167.2 L1973.7,169.5 L1974.2,167.8 L1974.7,169.3 L1975.2,169.8 L1975.7,170.7 L1976.2,167.8 L1976.7,168.6 L1977.2,167.4 L1977.7,167.3 L1978.2,169.1 L1978.7,170.2 L1979.2,171.8 L1979.7,169.9 L1980.2,173.2 L1980.7,171.2 L1981.2,172.4 L1981.7,171.2 L1982.2,170.2 L1982.7,174.2 L1983.2,172.0 L1983.7,174.1 L1984.2,172.5 L1984.7,174.0 L1985.2,173.4 L1985.7,173.4 L1986.2,174.0 L1986.7,175.3 L1987.2,173.2 L1987.7,173.7 L1988.2,176.6 L1988.7,174.6 L1989.2,176.1 L1989.7,174.4 L1990.2,176.1 L1990.7,178.1 L1991.2,177.0 L1991.7,177.4 L1992.2,176.9 L1992.7,177.8 L1993.2,175.5 L1993.7,175.9 L1994.2,178.8 L1994.7,176.2 L1995.2,180.4 L1995.7,179.9 L1996.2,177.5 L1996.7,176.4 L1997.2,176.2 L1997.7,180.0 L1998.2,179.6 L1998.7,181.7 L1999.2,180.7 L1999.7,182.3 L2000.2,181.5 L2000.7,179.3 L2001.2,180.5 L2001.7,179.8 L2002.2,180.6 L2002.7,180.5 L2003.2,181.0 L2003.7,183.3 L2004.2,180.9 L2004.7,180.3 L2005.2,181.1 L2005.7,181.5 L2006.2,181.5 L2006.7,182.2 L2007.2,182.0 L2007.7,184.2 L2008.2,184.1 L2008.7,182.1 L2009.2,184.5 L2009.7,185.2 L2010.2,183.5 L2010.7,182.6 L2011.2,184.4 L2011.7,183.9 L2012.2,184.6 L2012.7,183.0 L2013.2,187.3 L2013.7,184.4 L2014.2,185.5 L2014.7,184.2 L2015.2,185.4 L2015.7,182.4 L2016.2,183.8 L2016.7,182.5 L2017.2,187.1 L2017.7,184.2 L2018.2,184.1 L2018.7,187.8 L2019.2,185.8 L2019.7,186.4 L2020.2,188.2 L2020.7,187.6 L2021.2,187.6 L2021.7,188.2 L2022.2,185.0 L2022.7,189.3 L2023.2,189.6 L2023.7,190.4 L2024.2,185.4 L2024.7,187.2 L2025.2,187.8 L2025.7,190.9 L2026.2,189.6 L2026.7,191.4 L2027.2,189.8 L2027.7,188.6 L2028.2,188.0 L2028.7,189.1 L2029.2,191.9 L2029.7,189.2 L2030.2,188.2 L2030.7,191.1 L2031.2,192.7 L2031.7,194.3 L2032.2,193.0 L2032.7,192.9 L2033.2,189.6 L2033.7,191.6 L2034.2,191.8 L2034.7,192.7 L2035.2,191.6 L2035.7,194.0 L2036.2,194.9 L2036.7,193.6 L2037.2,193.3 L2037.7,194.1 L2038.2,194.6 L2038.7,195.3 L2039.2,193.3 L2039.7,196.5 L2040.2,194.8 L2040.7,194.7 L2041.2,196.0 L2041.7,194.3 L2042.2,196.5 L2042.7,198.3 L2043.2,196.2 L2043.7,196.0 L2044.2,195.2 L2044.7,197.8 L2045.2,197.5 L2045.7,194.1 L2046.2,197.5 L2046.7,195.4 L2047.2,194.9 L2047.7,196.4 L2048.2,195.7 L2048.7,198.2 L2049.2,195.2 L2049.7,195.2 L2050.2,195.8 L2050.7,196.9 L2051.2,197.9 L2051.7,195.8 L2052.2,196.4 L2052.7,195.4 L2053.2,197.2 L2053.7,196.2 L2054.2,200.5 L2054.7,200.2 L2055.2,196.6 L2055.7,198.0 L2056.2,198.4 L2056.7,197.2 L2057.2,197.5 L2057.7,198.9 L2058.2,197.7 L2058.7,197.7 L2059.2,198.1 L2059.7,199.8 L2060.2,197.9 L2060.7,198.8 L2061.2,198.6 L2061.7,199.2 L2062.2,198.0 L2062.4,197.6" stroke="#0000dc"/>
<path d="M30.3,809.9 L30.8,809.2 L31.3,809.5 L31.8,807.1 L32.3,812.8 L32.8,812.1 L33.3,810.3 L33.8,811.9 L34.3,811.3 L34.8,810.4 L35.3,812.5 L35.8,810.9 L36.3,810.9 L36.8,810.4 L37.3,812.1 L37.8,811.4 L38.3,812.3 L38.8,810.8 L39.3,811.8 L39.8,810.4 L40.3,812.7 L40.8,811.8 L41.3,811.9 L41.8,811.9 L42.3,810.0 L42.8,812.2 L43.3,813.7 L43.8,808.7 L44.3,808.5 L44.8,808.6 L45.3,811.4 L45.8,810.3 L46.3,811.3 L46.8,810.6 L47.3,809.7 L47.8,809.5 L48.3,808.7 L48.8,809.8 L49.3,806.9 L49.8,807.6 L50.3,808.2 L50.8,809.9 L51.3,806.3 L51.8,805.7 L52.3,806.1 L52.8,807.8 L53.3,806.0 L53.8,807.8 L54.3,803.5 L54.8,807.2 L55.3,806.9 L55.8,803.5 L56.3,805.4 L56.8,806.6 L57.3,805.0 L57.8,806.1 L58.3,807.7 L58.8,804.9 L59.3,804.0 L59.8,803.3 L60.3,805.0 L60.8,803.8 L61.3,803.7 L61.8,803.7 L62.3,804.6 L62.8,802.3 L63.3,801.5 L63.8,800.3 L64.3,804.9 L64.8,803.3 L65.3,805.1 L65.8,803.0 L66.3,802.0 L66.8,803.5 L67.3,802.7 L67.8,801.1 L68.3,801.5 L68.8,804.8 L69.3,802.9 L69.8,802.9 L70.3,801.9 L70.8,801.3 L71.3,803.2 L71.8,801.8 L72.3,800.9 L72.8,801.6 L73.3,800.5 L73.8,801.9 L74.3,803.0 L74.8,800.3 L75.3,803.2 L75.8,800.4 L76.3,801.3 L76.8,799.9 L77.3,800.6 L77.8,800.8 L78.3,800.1 L78.8,799.6 L79.3,799.5 L79.8,799.2 L80.3,798.1 L80.8,799.7 L81.3,800.4 L81.8,800.9 L82.3,800.5 L82.8,802.7 L83.3,799.8 L83.8,798.6 L84.3,801.5 L84.8,797.6 L85.3,800.1 L85.8,797.5 L86.3,799.1 L86.8,795.9 L87.3,799.5 L87.8,798.0 L88.3,796.9 L88.8,800.2 L89.3,798.9 L89.8,797.9 L90.3,796.8 L90.8,797.6 L91.3,797.4 L91.8,798.5 L92.3,798.6 L92.8,796.6 L93.3,796.7 L93.8,796.7 L94.3,795.7 L94.8,796.6 L95.3,797.3 L95.8,798.3 L96.3,799.1 L96.8,796.3 L97.3,798.1 L97.8,796.8 L98.3,800.1 L98.8,797.3 L99.3,798.1 L99.8,796.2 L100.3,796.3 L100.8,797.7 L101.3,796.9 L101.8,797.9 L102.3,795.4 L102.8,798.3 L103.3,796.2 L103.8,799.6 L104.3,797.0 L104.8,798.8 L105.3,795.6 L105.8,798.0 L106.3,796.2 L106.8,796.8 L107.3,797.4 L107.8,797.0 L108.3,797.7 L108.8,798.4 L109.3,798.2 L109.8,797.3 L110.3,795.6 L110.8,796.4 L111.3,797.1 L111.8,794.6 L112.3,798.4 L112.8,797.1 L113.3,797.1 L113.8,798.6 L114.3,798.3 L114.8,797.7 L115.3,796.1 L115.8,797.8 L116.3,797.9 L116.8,796.2 L117.3,798.8 L117.8,798.1 L118.3,794.8 L118.8,797.6 L119.3,795.8 L119.8,798.9 L120.3,798.4 L120.8,796.0 L121.3,796.2 L121.8,797.5 L122.3,797.1 L122.8,799.4 L123.3,798.4 L123.8,797.0 L124.3,798.2 L124.8,794.8 L125.3,797.8 L125.8,798.5 L126.3,797.2 L126.8,796.5 L127.3,798.1 L127.8,799.9 L128.3,797.7 L128.8,795.9 L129.3,799.3 L129.8,795.0 L130.3,798.1 L130.8,796.6 L131.3,798.6 L131.8,796.3 L132.3,799.1 L132.8,797.8 L133.3,795.2 L133.8,794.9 L134.3,797.1 L134.8,799.2 L135.3,797.8 L135.8,797.6 L136.3,796.1 L136.8,795.5 L137.3,792.8 L137.8,790.6 L138.3,787.3 L138.8,789.5 L139.3,790.4 L139.8,788.5 L140.3,795.2 L140.8,795.4 L141.3,795.7 L141.8,795.1 L142.3,798.8 L142.8,798.9 L143.3,797.7 L143.8,796.3 L144.3,800.3 L144.8,798.2 L145.3,798.5 L145.8,803.0 L146.3,802.2 L146.8,800.7 L147.3,799.0 L147.8,800.5 L148.3,796.8 L148.8,800.0 L149.3,798.9 L149.8,798.3 L150.3,798.0 L150.8,800.8 L151.3,800.3 L151.8,800.5 L152.3,801.5 L152.8,799.4 L153.3,799.0 L153.8,798.3 L154.3,800.3 L154.8,801.8 L155.3,800.7 L155.8,801.8 L156.3,799.5 L156.8,800.5 L157.3,800.2 L157.8,799.6 L158.3,803.7 L158.8,802.5 L159.3,800.5 L159.8,800.5 L160.3,801.5 L160.8,799.8 L161.3,802.3 L161.8,800.1 L162.3,801.4 L162.8,800.6 L163.3,801.3 L163.8,800.3 L164.3,800.0 L164.8,800.9 L165.3,801.3 L165.8,801.8 L166.3,802.4 L166.8,804.3 L167.3,803.4 L167.8,802.1 L168.3,803.4 L168.8,801.6 L169.3,804.5 L169.8,803.3 L170.3,800.9 L170.8,803.7 L171.3,803.8 L171.8,799.3 L172.3,801.9 L172.8,802.3 L173.3,800.4 L173.8,801.6 L174.3,801.8 L174.8,803.7 L175.3,803.5 L175.8,806.5 L176.3,802.6 L176.8,804.7 L177.3,803.3 L177.8,803.6 L178.3,801.8 L178.8,800.8 L179.3,802.4 L179.8,804.4 L180.3,805.5 L180.8,804.2 L181.3,804.1 L181.8,802.4 L182.3,805.5 L182.8,805.3 L183.3,802.9 L183.8,803.6 L184.3,802.4 L184.8,805.6 L185.3,804.3 L185.8,803.6 L186.3,804.3 L186.8,804.4 L187.3,803.3 L187.8,802.3 L188.3,802.2 L188.8,801.7 L189.3,804.6 L189.8,806.9 L190.3,801.8 L190.8,804.2 L191.3,804.6 L191.8,802.9 L192.3,804.4 L192.8,802.8 L193.3,805.8 L193.8,803.5 L194.3,804.4 L194.8,805.2 L195.3,803.8 L195.8,802.1 L196.3,803.8 L196.8,805.5 L197.3,804.4 L197.8,804.9 L198.3,803.2 L198.8,804.8 L199.3,805.6 L199.8,804.7 L200.3,807.2 L200.8,804.5 L201.3,803.4 L201.8,802.7 L202.3,806.3 L202.8,804.8 L203.3,806.2 L203.8,805.5 L204.3,807.0 L204.8,806.6 L205.3,804.5 L205.8,805.3 L206.3,806.4 L206.8,803.4 L207.3,806.9 L207.8,806.6 L208.3,806.3 L208.8,804.7 L209.3,805.4 L209.8,803.5 L210.3,805.1 L210.8,804.2 L211.3,805.1 L211.8,804.4 L212.3,805.4 L212.8,806.5 L213.3,803.3 L213.8,806.2 L214.3,802.4 L214.8,802.2 L215.3,804.8 L215.8,805.0 L216.3,805.6 L216.8,802.9 L217.3,804.9 L217.8,805.2 L218.3,806.6 L218.8,804.9 L219.3,805.7 L219.8,803.7 L220.3,804.8 L220.8,804.4 L221.3,805.9 L221.8,803.7 L222.3,803.9 L222.8,805.7 L223.3,807.3 L223.8,805.5 L224.3,805.4 L224.8,804.6 L225.3,806.4 L225.8,805.7 L226.3,807.3 L226.8,805.4 L227.3,803.8 L227.8,804.3 L228.3,803.7 L228.8,803.4 L229.3,806.6 L229.8,806.0 L230.3,803.4 L230.8,807.3 L231.3,805.3 L231.8,803.7 L232.3,805.4 L232.8,804.8 L233.3,803.9 L233.8,802.3 L234.3,804.9 L234.8,805.2 L235.3,801.4 L235.8,805.5 L236.3,805.5 L236.8,804.1 L237.3,804.8 L237.8,804.3 L238.3,803.5 L238.8,804.1 L239.3,806.3 L239.8,802.6 L240.3,804.8 L240.8,804.7 L241.3,803.5 L241.8,803.8 L242.3,802.5 L242.8,803.2 L243.3,804.3 L243.8,804.6 L244.3,803.0 L244.8,808.1 L245.3,803.3 L245.8,804.2 L246.3,803.7 L246.8,803.5 L247.3,805.6 L247.8,803.3 L248.3,805.6 L248.8,805.3 L249.3,802.4 L249.8,805.1 L250.3,802.9 L250.8,807.2 L251.3,803.1 L251.8,802.4 L252.3,801.1 L252.8,801.8 L253.3,802.7 L253.8,802.1 L254.3,801.8 L254.8,802.4 L255.3,803.0 L255.8,805.1 L256.3,801.0 L256.8,802.4 L257.3,801.9 L257.8,801.1 L258.3,801.3 L258.8,801.8 L259.3,803.8 L259.8,802.6 L260.3,802.1 L260.8,803.5 L261.3,803.0 L261.8,802.3 L262.3,803.1 L262.8,801.4 L263.3,803.3 L263.8,803.0 L264.3,801.8 L264.8,800.7 L265.3,804.2 L265.8,802.3 L266.3,806.1 L266.8,801.2 L267.3,803.1 L267.8,801.3 L268.3,802.2 L268.8,802.9 L269.3,800.7 L269.8,801.5 L270.3,801.8 L270.8,801.6 L271.3,802.2 L271.8,802.7 L272.3,802.3 L272.8,801.5 L273.3,800.6 L273.8,799.6 L274.3,800.0 L274.8,800.2 L275.3,801.7 L275.8,800.2 L276.3,799.0 L276.8,801.3 L277.3,799.4 L277.8,799.4 L278.3,800.0 L278.8,800.8 L279.3,797.0 L279.8,798.6 L280.3,800.2 L280.8,799.4 L281.3,798.7 L281.8,799.0 L282.3,801.4 L282.8,799.0 L283.3,800.4 L283.8,800.4 L284.3,798.7 L284.8,799.8 L285.3,798.6 L285.8,798.3 L286.3,797.6 L286.8,800.1 L287.3,798.4 L287.8,798.1 L288.3,797.3 L288.8,801.0 L289.3,799.6 L289.8,798.4 L290.3,797.6 L290.8,796.4 L291.3,798.7 L291.8,798.7 L292.3,796.4 L292.8,799.7 L293.3,799.1 L293.8,796.8 L294.3,797.2 L294.8,797.3 L295.3,798.0 L295.8,797.5 L296.3,795.5 L296.8,799.5 L297.3,797.9 L297.8,799.1 L298.3,799.0 L298.8,797.0 L299.3,797.7 L299.8,798.1 L300.3,798.1 L300.8,796.8 L301.3,796.1 L301.8,796.9 L302.3,795.7 L302.8,795.9 L303.3,793.9 L303.8,796.6 L304.3,795.0 L304.8,795.5 L305.3,796.1 L305.8,796.4 L306.3,798.4 L306.8,796.1 L307.3,793.8 L307.8,795.7 L308.3,794.7 L308.8,795.8 L309.3,794.3 L309.8,794.1 L310.3,794.2 L310.8,794.0 L311.3,792.3 L311.8,793.6 L312.3,794.3 L312.8,795.8 L313.3,793.7 L313.8,793.5 L314.3,794.6 L314.8,794.4 L315.3,795.6 L315.8,794.1 L316.3,793.2 L316.8,794.8 L317.3,795.0 L317.8,792.2 L318.3,792.9 L318.8,790.4 L319.3,792.0 L319.8,791.2 L320.3,791.9 L320.8,791.4 L321.3,791.7 L321.8,791.7 L322.3,792.4 L322.8,791.9 L323.3,790.8 L323.8,789.7 L324.3,792.9 L324.8,793.0 L325.3,790.5 L325.8,791.7 L326.3,788.9 L326.8,788.8 L327.3,790.3 L327.8,792.5 L328.3,789.2 L328.8,789.3 L329.3,792.4 L329.8,787.8 L330.3,791.0 L330.8,790.7 L331.3,789.7 L331.8,790.1 L332.3,793.2 L332.8,788.2 L333.3,789.2 L333.8,789.2 L334.3,788.5 L334.8,787.6 L335.3,791.3 L335.8,789.4 L336.3,786.8 L336.8,788.0 L337.3,789.4 L337.8,789.3 L338.3,786.8 L338.8,788.4 L339.3,788.8 L339.8,788.9 L340.3,788.8 L340.8,785.8 L341.3,790.4 L341.8,788.2 L342.3,790.2 L342.8,791.4 L343.3,787.4 L343.8,785.9 L344.3,788.5 L344.8,787.0 L345.3,786.6 L345.8,785.7 L346.3,789.1 L346.8,786.2 L347.3,784.9 L347.8,786.0 L348.3,785.0 L348.8,786.6 L349.3,785.7 L349.8,784.8 L350.3,786.8 L350.8,785.1 L351.3,786.7 L351.8,787.3 L352.3,785.1 L352.8,784.6 L353.3,785.5 L353.8,786.3 L354.3,785.0 L354.8,785.1 L355.3,784.7 L355.8,785.0 L356.3,785.3 L356.8,783.4 L357.3,783.5 L357.8,784.1 L358.3,783.0 L358.8,783.9 L359.3,784.3 L359.8,783.4 L360.3,782.4 L360.8,782.1 L361.3,785.2 L361.8,783.8 L362.3,781.0 L362.8,781.2 L363.3,784.5 L363.8,783.8 L364.3,781.8 L364.8,782.9 L365.3,779.2 L365.8,780.9 L366.3,781.6 L366.8,778.0 L367.3,779.1 L367.8,780.9 L368.3,781.1 L368.8,778.6 L369.3,779.4 L369.8,780.9 L370.3,778.0 L370.8,776.5 L371.3,777.9 L371.8,777.2 L372.3,779.1 L372.8,777.3 L373.3,775.8 L373.8,779.7 L374.3,775.6 L374.8,776.6 L375.3,776.6 L375.8,776.5 L376.3,775.5 L376.8,775.7 L377.3,774.6 L377.8,772.6 L378.3,774.0 L378.8,773.8 L379.3,773.6 L379.8,773.8 L380.3,772.6 L380.8,774.9 L381.3,775.0 L381.8,769.9 L382.3,772.6 L382.8,771.5 L383.3,768.8 L383.8,772.5 L384.3,771.0 L384.8,771.2 L385.3,770.6 L385.8,772.7 L386.3,772.7 L386.8,771.3 L387.3,771.7 L387.8,770.4 L388.3,770.6 L388.8,769.3 L389.3,770.1 L389.8,769.0 L390.3,770.2 L390.8,770.7 L391.3,769.8 L391.8,770.8 L392.3,772.6 L392.8,766.2 L393.3,768.8 L393.8,767.9 L394.3,767.8 L394.8,766.5 L395.3,768.2 L395.8,767.6 L396.3,767.0 L396.8,767.3 L397.3,766.7 L397.8,764.2 L398.3,768.5 L398.8,766.5 L399.3,765.5 L399.8,767.0 L400.3,765.5 L400.8,763.4 L401.3,767.2 L401.8,763.7 L402.3,765.4 L402.8,765.6 L403.3,767.0 L403.8,766.6 L404.3,765.1 L404.8,763.7 L405.3,763.9 L405.8,765.7 L406.3,766.4 L406.8,764.5 L407.3,762.7 L407.8,764.7 L408.3,762.6 L408.8,762.4 L409.3,762.3 L409.8,763.2 L410.3,762.5 L410.8,763.2 L411.3,763.3 L411.8,762.1 L412.3,758.1 L412.8,758.7 L413.3,760.8 L413.8,760.3 L414.3,762.9 L414.8,759.8 L415.3,759.4 L415.8,760.5 L416.3,760.4 L416.8,758.4 L417.3,759.1 L417.8,756.7 L418.3,756.7 L418.8,759.3 L419.3,755.6 L419.8,758.3 L420.3,757.8 L420.8,757.6 L421.3,757.5 L421.8,756.8 L422.3,753.0 L422.8,754.2 L423.3,754.5 L423.8,756.2 L424.3,753.3 L424.8,753.6 L425.3,753.8 L425.8,755.7 L426.3,751.9 L426.8,751.8 L427.3,754.1 L427.8,750.3 L428.3,753.3 L428.8,752.1 L429.3,750.4 L429.8,751.7 L430.3,750.7 L430.8,752.0 L431.3,752.1 L431.8,753.3 L432.3,751.2 L432.8,751.1 L433.3,750.1 L433.8,750.6 L434.3,751.8 L434.8,747.8 L435.3,750.9 L435.8,749.2 L436.3,749.8 L436.8,750.0 L437.3,750.5 L437.8,749.5 L438.3,748.5 L438.8,749.3 L439.3,748.7 L439.8,748.3 L440.3,748.7 L440.8,749.4 L441.3,748.2 L441.8,748.1 L442.3,746.1 L442.8,747.4 L443.3,745.0 L443.8,748.2 L444.3,745.9 L444.8,748.6 L445.3,750.7 L445.8,746.1 L446.3,748.2 L446.8,746.8 L447.3,745.4 L447.8,744.9 L448.3,746.5 L448.8,747.4 L449.3,745.9 L449.8,743.3 L450.3,743.7 L450.8,744.6 L451.3,746.5 L451.8,744.9 L452.3,744.8 L452.8,745.7 L453.3,743.7 L453.8,743.7 L454.3,743.3 L454.8,741.1 L455.3,743.8 L455.8,743.5 L456.3,744.0 L456.8,741.0 L457.3,741.3 L457.8,743.3 L458.3,742.3 L458.8,743.5 L459.3,740.4 L459.8,741.5 L460.3,740.2 L460.8,741.2 L461.3,740.0 L461.8,741.1 L462.3,741.6 L462.8,740.8 L463.3,737.3 L463.8,740.7 L464.3,739.8 L464.8,737.6 L465.3,737.6 L465.8,738.5 L466.3,739.0 L466.8,737.5 L467.3,735.7 L467.8,737.9 L468.3,737.5 L468.8,740.2 L469.3,735.1 L469.8,739.8 L470.3,738.6 L470.8,736.4 L471.3,737.9 L471.8,735.7 L472.3,736.5 L472.8,734.0 L473.3,734.8 L473.8,733.1 L474.3,732.1 L474.8,733.6 L475.3,732.8 L475.8,734.1 L476.3,734.7 L476.8,732.6 L477.3,732.6 L477.8,732.5 L478.3,729.8 L478.8,732.0 L479.3,731.4 L479.8,731.0 L480.3,729.3 L480.8,727.9 L481.3,729.9 L481.8,730.3 L482.3,731.3 L482.8,730.7 L483.3,730.8 L483.8,729.1 L484.3,729.7 L484.8,727.6 L485.3,728.4 L485.8,728.4 L486.3,730.4 L486.8,726.8 L487.3,724.5 L487.8,727.6 L488.3,724.4 L488.8,725.0 L489.3,724.3 L489.8,723.1 L490.3,725.7 L490.8,724.3 L491.3,722.4 L491.8,722.9 L492.3,721.8 L492.8,722.8 L493.3,721.1 L493.8,720.2 L494.3,720.0 L494.8,719.9 L495.3,720.4 L495.8,718.5 L496.3,719.1 L496.8,719.4 L497.3,721.5 L497.8,719.2 L498.3,713.8 L498.8,716.6 L499.3,716.3 L499.8,716.9 L500.3,718.1 L500.8,716.6 L501.3,712.3 L501.8,715.2 L502.3,714.6 L502.8,714.6 L503.3,715.4 L503.8,711.8 L504.3,714.3 L504.8,710.3 L505.3,712.2 L505.8,712.2 L506.3,714.3 L506.8,710.0 L507.3,708.3 L507.8,711.0 L508.3,708.9 L508.8,711.4 L509.3,708.0 L509.8,707.4 L510.3,709.7 L510.8,707.8 L511.3,708.6 L511.8,705.0 L512.3,708.6 L512.8,705.3 L513.3,706.7 L513.8,703.9 L514.3,702.8 L514.8,704.0 L515.3,704.2 L515.8,705.6 L516.3,703.5 L516.8,703.6 L517.3,703.1 L517.8,705.9 L518.3,700.3 L518.8,702.6 L519.3,700.4 L519.8,700.5 L520.3,699.0 L520.8,700.8 L521.3,697.3 L521.8,696.8 L522.3,697.8 L522.8,696.2 L523.3,698.2 L523.8,698.1 L524.3,695.5 L524.8,697.1 L525.3,694.9 L525.8,695.3 L526.3,695.0 L526.8,697.0 L527.3,694.2 L527.8,692.6 L528.3,692.3 L528.8,694.6 L529.3,690.6 L529.8,691.8 L530.3,691.5 L530.8,688.5 L531.3,690.7 L531.8,692.3 L532.3,691.0 L532.8,689.2 L533.3,690.9 L533.8,690.4 L534.3,692.0 L534.8,688.1 L535.3,688.3 L535.8,688.6 L536.3,688.0 L536.8,688.0 L537.3,687.5 L537.8,686.5 L538.3,685.0 L538.8,686.1 L539.3,684.7 L539.8,684.9 L540.3,685.3 L540.8,686.4 L541.3,686.5 L541.8,683.8 L542.3,685.3 L542.8,685.7 L543.3,684.3 L543.8,681.9 L544.3,681.0 L544.8,684.6 L545.3,684.4 L545.8,683.3 L546.3,681.3 L546.8,684.3 L547.3,683.7 L547.8,681.8 L548.3,681.3 L548.8,678.7 L549.3,681.9 L549.8,678.6 L550.3,681.3 L550.8,681.0 L551.3,679.9 L551.8,681.5 L552.3,678.7 L552.8,679.6 L553.3,679.5 L553.8,678.4 L554.3,677.2 L554.8,679.0 L555.3,677.6 L555.8,676.4 L556.3,676.1 L556.8,676.1 L557.3,678.5 L557.8,675.3 L558.3,674.5 L558.8,673.0 L559.3,672.4 L559.8,671.1 L560.3,673.4 L560.8,672.7 L561.3,670.9 L561.8,669.9 L562.3,671.0 L562.8,670.3 L563.3,668.7 L563.8,670.4 L564.3,669.7 L564.8,669.0 L565.3,669.6 L565.8,667.3 L566.3,669.4 L566.8,665.9 L567.3,667.4 L567.8,667.0 L568.3,665.3 L568.8,665.6 L569.3,663.0 L569.8,662.2 L570.3,663.4 L570.8,662.2 L571.3,663.4 L571.8,662.1 L572.3,662.3 L572.8,661.4 L573.3,660.7 L573.8,660.0 L574.3,658.9 L574.8,658.2 L575.3,660.9 L575.8,655.4 L576.3,656.9 L576.8,657.8 L577.3,656.5 L577.8,657.2 L578.3,655.5 L578.8,652.6 L579.3,653.2 L579.8,651.2 L580.3,653.7 L580.8,653.7 L581.3,650.7 L581.8,651.4 L582.3,649.5 L582.8,647.5 L583.3,648.2 L583.8,646.1 L584.3,646.7 L584.8,647.1 L585.3,647.1 L585.8,647.1 L586.3,644.3 L586.8,644.3 L587.3,643.9 L587.8,643.3 L588.3,638.2 L588.8,640.1 L589.3,641.5 L589.8,638.2 L590.3,639.3 L590.8,639.3 L591.3,635.0 L591.8,636.4 L592.3,636.2 L592.8,635.1 L593.3,632.3 L593.8,634.0 L594.3,632.0 L594.8,633.0 L595.3,631.7 L595.8,629.7 L596.3,629.8 L596.8,627.9 L597.3,627.1 L597.8,625.1 L598.3,626.1 L598.8,626.6 L599.3,624.9 L599.8,623.9 L600.3,622.3 L600.8,621.7 L601.3,622.5 L601.8,618.8 L602.3,622.6 L602.8,619.1 L603.3,621.2 L603.8,619.1 L604.3,616.2 L604.8,616.9 L605.3,615.5 L605.8,615.0 L606.3,614.7 L606.8,612.1 L607.3,611.3 L607.8,610.7 L608.3,608.7 L608.8,609.4 L609.3,609.2 L609.8,608.5 L610.3,607.6 L610.8,606.0 L611.3,606.8 L611.8,602.3 L612.3,603.6 L612.8,602.9 L613.3,603.7 L613.8,602.6 L614.3,601.9 L614.8,600.1 L615.3,600.5 L615.8,597.2 L616.3,597.7 L616.8,594.1 L617.3,598.3 L617.8,597.3 L618.3,593.6 L618.8,592.5 L619.3,590.0 L619.8,590.0 L620.3,591.3 L620.8,590.1 L621.3,587.6 L621.8,588.1 L622.3,587.0 L622.8,587.7 L623.3,587.2 L623.8,585.2 L624.3,584.8 L624.8,583.9 L625.3,580.3 L625.8,582.5 L626.3,581.4 L626.8,581.6 L627.3,577.5 L627.8,580.1 L628.3,577.5 L628.8,577.8 L629.3,578.3 L629.8,574.0 L630.3,573.4 L630.8,575.7 L631.3,572.1 L631.8,571.6 L632.3,572.8 L632.8,571.0 L633.3,571.5 L633.8,570.2 L634.3,569.0 L634.8,569.6 L635.3,570.4 L635.8,566.7 L636.3,568.0 L636.8,566.8 L637.3,564.8 L637.8,564.5 L638.3,562.0 L638.8,561.7 L639.3,562.1 L639.8,561.0 L640.3,562.0 L640.8,557.9 L641.3,558.5 L641.8,557.4 L642.3,557.3 L642.8,558.3 L643.3,554.5 L643.8,556.4 L644.3,553.8 L644.8,553.5 L645.3,554.5 L645.8,552.1 L646.3,552.6 L646.8,551.1 L647.3,550.0 L647.8,549.1 L648.3,546.5 L648.8,547.1 L649.3,547.5 L649.8,546.8 L650.3,543.8 L650.8,546.3 L651.3,545.0 L651.8,541.8 L652.3,541.3 L652.8,542.6 L653.3,538.8 L653.8,539.3 L654.3,539.4 L654.8,538.5 L655.3,537.7 L655.8,537.5 L656.3,535.1 L656.8,534.6 L657.3,537.1 L657.8,531.7 L658.3,532.1 L658.8,531.9 L659.3,530.1 L659.8,531.6 L660.3,529.2 L660.8,529.2 L661.3,523.9 L661.8,528.0 L662.3,527.0 L662.8,523.6 L663.3,525.4 L663.8,523.1 L664.3,523.0 L664.8,523.2 L665.3,520.0 L665.8,517.6 L666.3,518.0 L666.8,515.4 L667.3,515.0 L667.8,514.1 L668.3,513.2 L668.8,514.6 L669.3,513.2 L669.8,509.9 L670.3,511.6 L670.8,506.9 L671.3,507.2 L671.8,506.8 L672.3,507.5 L672.8,505.9 L673.3,504.5 L673.8,504.5 L674.3,502.7 L674.8,502.5 L675.3,498.6 L675.8,496.3 L676.3,496.9 L676.8,497.4 L677.3,495.5 L677.8,495.2 L678.3,493.9 L678.8,492.5 L679.3,491.7 L679.8,488.6 L680.3,489.8 L680.8,485.9 L681.3,485.8 L681.8,483.0 L682.3,484.3 L682.8,480.4 L683.3,483.0 L683.8,478.1 L684.3,478.9 L684.8,477.0 L685.3,474.7 L685.8,476.1 L686.3,472.5 L686.8,473.6 L687.3,468.9 L687.8,467.7 L688.3,464.7 L688.8,466.6 L689.3,465.6 L689.8,463.2 L690.3,461.3 L690.8,458.8 L691.3,461.6 L691.8,458.1 L692.3,453.3 L692.8,453.8 L693.3,449.4 L693.8,453.5 L694.3,452.6 L694.8,450.5 L695.3,447.1 L695.8,445.0 L696.3,442.5 L696.8,443.6 L697.3,440.5 L697.8,439.6 L698.3,437.8 L698.8,436.8 L699.3,437.0 L699.8,436.6 L700.3,433.3 L700.8,431.7 L701.3,428.9 L701.8,427.5 L702.3,426.4 L702.8,427.7 L703.3,425.6 L703.8,425.4 L704.3,423.5 L704.8,421.2 L705.3,419.0 L705.8,419.0 L706.3,416.5 L706.8,419.9 L707.3,416.6 L707.8,414.7 L708.3,416.7 L708.8,412.5 L709.3,412.7 L709.8,410.7 L710.3,410.4 L710.8,408.4 L711.3,408.4 L711.8,408.6 L712.3,404.0 L712.8,401.6 L713.3,405.2 L713.8,402.5 L714.3,402.3 L714.8,399.7 L715.3,400.9 L715.8,400.1 L716.3,395.0 L716.8,396.3 L717.3,393.4 L717.8,390.9 L718.3,391.5 L718.8,391.4 L719.3,387.7 L719.8,386.6 L720.3,388.7 L720.8,385.9 L721.3,385.2 L721.8,382.0 L722.3,381.4 L722.8,381.2 L723.3,380.0 L723.8,378.7 L724.3,379.4 L724.8,376.3 L725.3,372.8 L725.8,372.4 L726.3,372.3 L726.8,372.8 L727.3,368.9 L727.8,368.0 L728.3,367.2 L728.8,365.1 L729.3,363.6 L729.8,363.1 L730.3,363.4 L730.8,361.5 L731.3,359.2 L731.8,358.8 L732.3,355.3 L732.8,356.9 L733.3,355.3 L733.8,353.4 L734.3,349.5 L734.8,353.0 L735.3,345.2 L735.8,346.4 L736.3,345.2 L736.8,345.9 L737.3,341.7 L737.8,342.6 L738.3,340.8 L738.8,339.3 L739.3,339.4 L739.8,338.8 L740.3,336.1 L740.8,333.9 L741.3,329.9 L741.8,333.5 L742.3,329.8 L742.8,326.4 L743.3,327.6 L743.8,328.0 L744.3,324.5 L744.8,321.7 L745.3,324.8 L745.8,321.2 L746.3,319.4 L746.8,318.9 L747.3,313.2 L747.8,314.5 L748.3,312.9 L748.8,314.6 L749.3,309.3 L749.8,307.7 L750.3,305.0 L750.8,304.1 L751.3,303.2 L751.8,302.1 L752.3,299.7 L752.8,300.9 L753.3,297.1 L753.8,295.5 L754.3,294.7 L754.8,291.9 L755.3,288.6 L755.8,285.4 L756.3,286.2 L756.8,282.9 L757.3,283.9 L757.8,279.5 L758.3,275.9 L758.8,277.2 L759.3,277.0 L759.8,273.7 L760.3,272.7 L760.8,271.2 L761.3,271.8 L761.8,268.5 L762.3,266.7 L762.8,264.6 L763.3,261.8 L763.8,264.5 L764.3,262.9 L764.8,258.8 L765.3,259.6 L765.8,257.9 L766.3,255.7 L766.8,254.5 L767.3,254.7 L767.8,250.9 L768.3,250.5 L768.8,249.9 L769.3,248.7 L769.8,247.2 L770.3,246.5 L770.8,245.7 L771.3,242.6 L771.8,242.6 L772.3,240.5 L772.8,241.9 L773.3,236.8 L773.8,237.0 L774.3,236.9 L774.8,234.3 L775.3,232.9 L775.8,231.4 L776.3,231.2 L776.8,228.0 L777.3,228.1 L777.8,226.8 L778.3,223.8 L778.8,224.8 L779.3,222.7 L779.8,222.5 L780.3,222.1 L780.8,220.3 L781.3,217.2 L781.8,218.1 L782.3,214.5 L782.8,214.5 L783.3,216.6 L783.8,213.3 L784.3,214.3 L784.8,210.9 L785.3,210.1 L785.8,207.6 L786.3,209.3 L786.8,206.9 L787.3,207.0 L787.8,205.9 L788.3,205.2 L788.8,204.2 L789.3,203.1 L789.8,202.5 L790.3,201.0 L790.8,198.6 L791.3,201.6 L791.8,203.2 L792.3,201.4 L792.8,202.6 L793.3,199.7 L793.8,197.3 L794.3,196.9 L794.8,198.7 L795.3,197.8 L795.8,196.8 L796.3,197.6 L796.8,195.2 L797.3,196.7 L797.8,195.4 L798.3,195.7 L798.8,196.9 L799.3,195.0 L799.8,196.9 L800.3,196.8 L800.8,194.0 L801.3,198.1 L801.8,193.5 L802.3,195.2 L802.8,196.5 L803.3,192.8 L803.8,197.6 L804.3,198.1 L804.8,196.9 L805.3,197.9 L805.8,198.3 L806.3,198.4 L806.8,200.7 L807.3,199.4 L807.8,200.5 L808.3,201.7 L808.8,203.0 L809.3,204.1 L809.8,201.4 L810.3,201.4 L810.8,204.7 L811.3,205.6 L811.8,205.1 L812.3,207.9 L812.8,209.5 L813.3,210.3 L813.8,213.3 L814.3,211.2 L814.8,214.0 L815.3,218.0 L815.8,217.9 L816.3,217.0 L816.8,220.3 L817.3,223.2 L817.8,225.9 L818.3,225.5 L818.8,227.8 L819.3,226.5 L819.8,229.4 L820.3,233.1 L820.8,232.1 L821.3,235.1 L821.8,234.6 L822.3,240.8 L822.8,240.4 L823.3,243.0 L823.8,241.8 L824.3,243.5 L824.8,248.9 L825.3,247.2 L825.8,248.0 L826.3,250.3 L826.8,251.3 L827.3,248.9 L827.8,251.0 L828.3,253.2 L828.8,253.9 L829.3,255.1 L829.8,254.9 L830.3,255.8 L830.8,257.2 L831.3,256.8 L831.8,257.4 L832.3,258.6 L832.8,260.3 L833.3,261.0 L833.8,261.5 L834.3,262.9 L834.8,264.3 L835.3,265.9 L835.8,267.2 L836.3,266.3 L836.8,270.6 L837.3,268.5 L837.8,272.7 L838.3,272.4 L838.8,275.5 L839.3,277.6 L839.8,275.2 L840.3,279.9 L840.8,281.0 L841.3,281.5 L841.8,284.1 L842.3,284.6 L842.8,287.0 L843.3,287.2 L843.8,291.3 L844.3,292.8 L844.8,294.7 L845.3,294.6 L845.8,299.6 L846.3,301.5 L846.8,300.5 L847.3,301.7 L847.8,303.3 L848.3,306.3 L848.8,308.3 L849.3,307.5 L849.8,307.3 L850.3,312.0 L850.8,312.8 L851.3,314.5 L851.8,316.4 L852.3,315.7 L852.8,318.7 L853.3,319.8 L853.8,322.2 L854.3,324.8 L854.8,324.9 L855.3,325.5 L855.8,330.0 L856.3,331.2 L856.8,332.0 L857.3,331.9 L857.8,335.1 L858.3,338.5 L858.8,341.0 L859.3,341.5 L859.8,344.7 L860.3,345.0 L860.8,347.0 L861.3,349.7 L861.8,350.1 L862.3,351.8 L862.8,354.0 L863.3,355.4 L863.8,354.2 L864.3,355.7 L864.8,355.2 L865.3,356.2 L865.8,359.2 L866.3,359.0 L866.8,358.1 L867.3,362.1 L867.8,361.2 L868.3,362.8 L868.8,364.7 L869.3,365.6 L869.8,366.1 L870.3,364.6 L870.8,369.0 L871.3,368.7 L871.8,368.8 L872.3,369.1 L872.8,375.0 L873.3,374.8 L873.8,376.1 L874.3,378.2 L874.8,378.7 L875.3,378.3 L875.8,382.6 L876.3,384.5 L876.8,385.3 L877.3,388.1 L877.8,390.0 L878.3,387.9 L878.8,389.7 L879.3,392.9 L879.8,393.3 L880.3,394.6 L880.8,396.9 L881.3,398.0 L881.8,397.8 L882.3,399.9 L882.8,400.2 L883.3,402.2 L883.8,402.4 L884.3,402.6 L884.8,405.9 L885.3,407.1 L885.8,410.3 L886.3,412.4 L886.8,411.6 L887.3,413.3 L887.8,413.0 L888.3,413.7 L888.8,415.5 L889.3,416.5 L889.8,418.1 L890.3,418.8 L890.8,421.6 L891.3,420.0 L891.8,418.9 L892.3,422.0 L892.8,421.7 L893.3,423.5 L893.8,425.4 L894.3,423.8 L894.8,425.2 L895.3,426.7 L895.8,425.4 L896.3,427.6 L896.8,428.6 L897.3,429.6 L897.8,430.6 L898.3,430.5 L898.8,430.9 L899.3,429.2 L899.8,428.2 L900.3,431.1 L900.8,434.8 L901.3,433.8 L901.8,431.3 L902.3,434.4 L902.8,436.0 L903.3,433.8 L903.8,437.6 L904.3,435.9 L904.8,439.4 L905.3,438.7 L905.8,443.3 L906.3,438.2 L906.8,440.9 L907.3,439.2 L907.8,443.2 L908.3,442.5 L908.8,444.1 L909.3,443.6 L909.8,442.6 L910.3,443.8 L910.8,443.6 L911.3,444.4 L911.8,446.5 L912.3,448.3 L912.8,448.5 L913.3,448.6 L913.8,447.7 L914.3,449.6 L914.8,448.3 L915.3,450.2 L915.8,451.5 L916.3,450.6 L916.8,450.7 L917.3,451.2 L917.8,453.0 L918.3,452.3 L918.8,451.3 L919.3,453.0 L919.8,452.6 L920.3,456.4 L920.8,454.9 L921.3,453.5 L921.8,456.2 L922.3,457.3 L922.8,457.4 L923.3,457.0 L923.8,458.2 L924.3,458.9 L924.8,460.4 L925.3,460.2 L925.8,463.2 L926.3,460.7 L926.8,463.6 L927.3,462.4 L927.8,460.9 L928.3,462.4 L928.8,462.4 L929.3,463.4 L929.8,468.0 L930.3,466.5 L930.8,469.1 L931.3,468.1 L931.8,470.1 L932.3,469.7 L932.8,473.1 L933.3,472.6 L933.8,473.3 L934.3,474.6 L934.8,478.5 L935.3,477.2 L935.8,478.6 L936.3,476.8 L936.8,478.4 L937.3,480.5 L937.8,478.6 L938.3,483.5 L938.8,483.0 L939.3,483.5 L939.8,484.1 L940.3,484.9 L940.8,485.5 L941.3,488.8 L941.8,488.8 L942.3,490.4 L942.8,489.3 L943.3,489.4 L943.8,493.2 L944.3,490.8 L944.8,492.6 L945.3,495.2 L945.8,496.7 L946.3,494.6 L946.8,496.9 L947.3,498.4 L947.8,499.2 L948.3,499.4 L948.8,502.5 L949.3,502.1 L949.8,503.6 L950.3,502.2 L950.8,506.2 L951.3,505.1 L951.8,509.7 L952.3,510.7 L952.8,510.7 L953.3,512.8 L953.8,514.1 L954.3,515.0 L954.8,517.0 L955.3,517.6 L955.8,518.5 L956.3,519.3 L956.8,523.8 L957.3,523.2 L957.8,524.1 L958.3,526.4 L958.8,526.1 L959.3,527.4 L959.8,529.9 L960.3,531.6 L960.8,532.3 L961.3,530.6 L961.8,533.7 L962.3,534.7 L962.8,536.3 L963.3,535.6 L963.8,536.4 L964.3,538.7 L964.8,538.7 L965.3,539.4 L965.8,541.7 L966.3,543.9 L966.8,543.9 L967.3,546.1 L967.8,544.3 L968.3,547.5 L968.8,547.5 L969.3,547.4 L969.8,549.0 L970.3,549.4 L970.8,551.2 L971.3,551.6 L971.8,555.2 L972.3,554.1 L972.8,553.9 L973.3,556.6 L973.8,558.5 L974.3,558.7 L974.8,561.4 L975.3,560.4 L975.8,561.7 L976.3,566.1 L976.8,565.2 L977.3,567.1 L977.8,568.2 L978.3,569.5 L978.8,570.0 L979.3,570.8 L979.8,573.5 L980.3,572.6 L980.8,574.3 L981.3,576.0 L981.8,575.5 L982.3,574.9 L982.8,578.2 L983.3,579.8 L983.8,579.4 L984.3,577.6 L984.8,581.2 L985.3,583.5 L985.8,579.6 L986.3,578.7 L986.8,582.4 L987.3,583.4 L987.8,584.8 L988.3,585.4 L988.8,585.0 L989.3,586.1 L989.8,586.4 L990.3,586.7 L990.8,587.0 L991.3,587.4 L991.8,589.1 L992.3,589.3 L992.8,588.9 L993.3,591.5 L993.8,589.8 L994.3,591.2 L994.8,592.4 L995.3,590.5 L995.8,593.2 L996.3,595.5 L996.8,596.2 L997.3,594.5 L997.8,595.7 L998.3,596.1 L998.8,598.0 L999.3,598.9 L999.8,597.7 L1000.3,600.9 L1000.8,601.2 L1001.3,601.7 L1001.8,601.6 L1002.3,602.9 L1002.8,601.4 L1003.3,604.5 L1003.8,605.0 L1004.3,605.0 L1004.8,604.1 L1005.3,607.7 L1005.8,607.9 L1006.3,604.5 L1006.8,607.8 L1007.3,607.9 L1007.8,604.8 L1008.3,609.1 L1008.8,609.6 L1009.3,610.0 L1009.8,609.7 L1010.3,609.0 L1010.8,609.6 L1011.3,611.2 L1011.8,612.4 L1012.3,610.7 L1012.8,611.4 L1013.3,613.1 L1013.8,609.9 L1014.3,613.6 L1014.8,613.2 L1015.3,611.2 L1015.8,615.5 L1016.3,613.8 L1016.8,616.5 L1017.3,617.7 L1017.8,614.9 L1018.3,615.5 L1018.8,617.5 L1019.3,615.8 L1019.8,619.5 L1020.3,619.3 L1020.8,620.9 L1021.3,617.8 L1021.8,620.9 L1022.3,621.7 L1022.8,619.4 L1023.3,623.3 L1023.8,620.9 L1024.3,623.3 L1024.8,621.9 L1025.3,625.0 L1025.8,626.7 L1026.3,625.0 L1026.8,625.5 L1027.3,627.5 L1027.8,625.8 L1028.3,626.8 L1028.8,628.3 L1029.3,628.2 L1029.8,630.1 L1030.3,630.1 L1030.8,631.4 L1031.3,629.4 L1031.8,631.3 L1032.3,629.3 L1032.8,631.9 L1033.3,633.5 L1033.8,634.7 L1034.3,630.6 L1034.8,632.4 L1035.3,634.0 L1035.8,632.4 L1036.3,634.7 L1036.8,635.1 L1037.3,634.3 L1037.8,634.7 L1038.3,634.7 L1038.8,636.7 L1039.3,638.4 L1039.8,637.7 L1040.3,641.3 L1040.8,636.3 L1041.3,638.0 L1041.8,640.0 L1042.3,638.1 L1042.8,640.5 L1043.3,641.5 L1043.8,641.1 L1044.3,641.0 L1044.8,642.9 L1045.3,642.6 L1045.8,643.4 L1046.3,643.5 L1046.8,642.4 L1047.3,642.2 L1047.8,643.5 L1048.3,644.5 L1048.8,644.4 L1049.3,646.2 L1049.8,645.7 L1050.3,646.9 L1050.8,646.2 L1051.3,645.5 L1051.8,647.8 L1052.3,647.7 L1052.8,646.3 L1053.3,647.2 L1053.8,651.6 L1054.3,644.0 L1054.8,650.1 L1055.3,649.1 L1055.8,649.2 L1056.3,649.2 L1056.8,649.3 L1057.3,653.2 L1057.8,650.0 L1058.3,650.4 L1058.8,652.2 L1059.3,651.9 L1059.8,651.5 L1060.3,651.7 L1060.8,650.6 L1061.3,654.0 L1061.8,651.6 L1062.3,650.1 L1062.8,654.9 L1063.3,654.8 L1063.8,654.5 L1064.3,653.7 L1064.8,656.2 L1065.3,653.6 L1065.8,652.5 L1066.3,655.8 L1066.8,656.9 L1067.3,657.0 L1067.8,659.1 L1068.3,657.8 L1068.8,656.8 L1069.3,657.1 L1069.8,658.8 L1070.3,657.8 L1070.8,658.0 L1071.3,656.2 L1071.8,658.4 L1072.3,657.4 L1072.8,659.7 L1073.3,659.8 L1073.8,660.8 L1074.3,662.5 L1074.8,660.2 L1075.3,662.6 L1075.8,659.6 L1076.3,661.5 L1076.8,662.8 L1077.3,664.4 L1077.8,660.7 L1078.3,662.1 L1078.8,662.9 L1079.3,662.8 L1079.8,662.0 L1080.3,661.4 L1080.8,662.2 L1081.3,663.9 L1081.8,662.5 L1082.3,666.8 L1082.8,666.4 L1083.3,662.6 L1083.8,664.7 L1084.3,667.3 L1084.8,667.7 L1085.3,667.5 L1085.8,664.5 L1086.3,666.1 L1086.8,668.5 L1087.3,667.2 L1087.8,666.7 L1088.3,668.2 L1088.8,669.1 L1089.3,668.2 L1089.8,668.6 L1090.3,669.9 L1090.8,668.0 L1091.3,667.8 L1091.8,670.2 L1092.3,667.9 L1092.8,670.3 L1093.3,669.0 L1093.8,671.3 L1094.3,668.9 L1094.8,672.1 L1095.3,671.2 L1095.8,670.7 L1096.3,670.2 L1096.8,671.3 L1097.3,670.6 L1097.8,670.4 L1098.3,673.6 L1098.8,673.2 L1099.3,674.2 L1099.8,671.1 L1100.3,670.5 L1100.8,671.2 L1101.3,674.4 L1101.8,674.8 L1102.3,671.5 L1102.8,675.5 L1103.3,673.8 L1103.8,673.0 L1104.3,674.7 L1104.8,675.8 L1105.3,675.0 L1105.8,675.2 L1106.3,674.6 L1106.8,674.0 L1107.3,675.6 L1107.8,674.2 L1108.3,677.3 L1108.8,675.6 L1109.3,678.6 L1109.8,675.1 L1110.3,679.2 L1110.8,676.4 L1111.3,676.6 L1111.8,678.3 L1112.3,679.3 L1112.8,678.3 L1113.3,678.1 L1113.8,681.3 L1114.3,679.6 L1114.8,677.6 L1115.3,679.0 L1115.8,681.7 L1116.3,680.2 L1116.8,681.0 L1117.3,682.8 L1117.8,679.5 L1118.3,681.0 L1118.8,679.8 L1119.3,680.9 L1119.8,681.8 L1120.3,679.5 L1120.8,681.7 L1121.3,681.9 L1121.8,683.2 L1122.3,681.3 L1122.8,680.6 L1123.3,683.0 L1123.8,681.2 L1124.3,683.1 L1124.8,683.8 L1125.3,682.1 L1125.8,683.3 L1126.3,682.3 L1126.8,680.1 L1127.3,682.1 L1127.8,681.5 L1128.3,684.4 L1128.8,683.2 L1129.3,684.6 L1129.8,684.9 L1130.3,686.6 L1130.8,685.0 L1131.3,685.1 L1131.8,686.5 L1132.3,688.1 L1132.8,686.1 L1133.3,686.9 L1133.8,686.4 L1134.3,685.9 L1134.8,685.0 L1135.3,687.2 L1135.8,687.1 L1136.3,687.4 L1136.8,690.5 L1137.3,687.7 L1137.8,688.7 L1138.3,688.0 L1138.8,690.2 L1139.3,688.5 L1139.8,691.5 L1140.3,689.0 L1140.8,690.5 L1141.3,691.1 L1141.8,689.6 L1142.3,691.3 L1142.8,690.4 L1143.3,689.6 L1143.8,689.9 L1144.3,691.4 L1144.8,693.5 L1145.3,690.7 L1145.8,692.3 L1146.3,690.7 L1146.8,692.3 L1147.3,690.4 L1147.8,691.3 L1148.3,692.5 L1148.8,691.7 L1149.3,692.5 L1149.8,694.4 L1150.3,693.1 L1150.8,692.5 L1151.3,692.0 L1151.8,693.1 L1152.3,695.5 L1152.8,694.1 L1153.3,694.2 L1153.8,695.5 L1154.3,695.8 L1154.8,696.2 L1155.3,694.6 L1155.8,694.1 L1156.3,693.3 L1156.8,694.7 L1157.3,695.3 L1157.8,696.9 L1158.3,696.6 L1158.8,695.6 L1159.3,697.7 L1159.8,695.1 L1160.3,695.5 L1160.8,695.5 L1161.3,695.8 L1161.8,697.1 L1162.3,696.5 L1162.8,696.7 L1163.3,699.6 L1163.8,696.2 L1164.3,696.9 L1164.8,698.1 L1165.3,699.2 L1165.8,699.4 L1166.3,698.6 L1166.8,698.6 L1167.3,698.9 L1167.8,700.4 L1168.3,698.4 L1168.8,696.7 L1169.3,700.1 L1169.8,698.5 L1170.3,700.1 L1170.8,702.2 L1171.3,700.7 L1171.8,703.1 L1172.3,698.8 L1172.8,701.3 L1173.3,701.7 L1173.8,702.4 L1174.3,700.5 L1174.8,701.9 L1175.3,702.0 L1175.8,702.1 L1176.3,700.3 L1176.8,700.0 L1177.3,703.1 L1177.8,703.0 L1178.3,702.8 L1178.8,703.7 L1179.3,704.4 L1179.8,701.7 L1180.3,704.4 L1180.8,705.4 L1181.3,705.0 L1181.8,704.6 L1182.3,704.9 L1182.8,702.2 L1183.3,703.6 L1183.8,705.7 L1184.3,706.5 L1184.8,705.3 L1185.3,704.2 L1185.8,704.8 L1186.3,706.2 L1186.8,707.9 L1187.3,706.4 L1187.8,704.9 L1188.3,706.5 L1188.8,706.4 L1189.3,709.1 L1189.8,706.9 L1190.3,706.3 L1190.8,706.3 L1191.3,704.9 L1191.8,705.3 L1192.3,706.2 L1192.8,705.9 L1193.3,707.3 L1193.8,707.3 L1194.3,708.6 L1194.8,709.5 L1195.3,707.8 L1195.8,707.5 L1196.3,705.5 L1196.8,708.5 L1197.3,709.0 L1197.8,707.3 L1198.3,707.9 L1198.8,707.6 L1199.3,710.0 L1199.8,709.6 L1200.3,710.5 L1200.8,707.5 L1201.3,712.6 L1201.8,708.2 L1202.3,708.1 L1202.8,709.8 L1203.3,708.9 L1203.8,712.1 L1204.3,709.4 L1204.8,709.1 L1205.3,711.4 L1205.8,711.8 L1206.3,709.3 L1206.8,709.9 L1207.3,710.1 L1207.8,710.5 L1208.3,713.1 L1208.8,712.6 L1209.3,712.5 L1209.8,712.8 L1210.3,711.3 L1210.8,712.5 L1211.3,711.4 L1211.8,710.7 L1212.3,713.9 L1212.8,709.6 L1213.3,712.0 L1213.8,711.3 L1214.3,710.0 L1214.8,711.8 L1215.3,712.5 L1215.8,713.1 L1216.3,711.5 L1216.8,713.7 L1217.3,713.2 L1217.8,713.9 L1218.3,710.5 L1218.8,712.5 L1219.3,712.4 L1219.8,714.0 L1220.3,712.4 L1220.8,712.8 L1221.3,712.1 L1221.8,712.1 L1222.3,712.5 L1222.8,715.1 L1223.3,712.5 L1223.8,710.9 L1224.3,714.5 L1224.8,713.6 L1225.3,715.0 L1225.8,715.1 L1226.3,714.1 L1226.8,714.0 L1227.3,714.0 L1227.8,714.8 L1228.3,713.9 L1228.8,715.2 L1229.3,716.9 L1229.8,714.3 L1230.3,714.5 L1230.8,714.6 L1231.3,716.3 L1231.8,716.4 L1232.3,717.6 L1232.8,716.7 L1233.3,716.1 L1233.8,716.6 L1234.3,714.4 L1234.8,717.0 L1235.3,716.6 L1235.8,719.1 L1236.3,718.3 L1236.8,715.6 L1237.3,716.0 L1237.8,718.0 L1238.3,714.3 L1238.8,715.9 L1239.3,717.7 L1239.8,718.2 L1240.3,717.7 L1240.8,719.1 L1241.3,717.3 L1241.8,717.9 L1242.3,717.6 L1242.8,716.6 L1243.3,718.2 L1243.8,717.5 L1244.3,718.4 L1244.8,715.0 L1245.3,718.7 L1245.8,718.0 L1246.3,718.0 L1246.8,718.9 L1247.3,718.4 L1247.8,720.3 L1248.3,720.8 L1248.8,720.5 L1249.3,720.7 L1249.8,720.0 L1250.3,719.7 L1250.8,718.1 L1251.3,719.4 L1251.8,721.6 L1252.3,721.1 L1252.8,719.6 L1253.3,720.5 L1253.8,721.9 L1254.3,720.4 L1254.8,722.8 L1255.3,719.8 L1255.8,722.0 L1256.3,722.0 L1256.8,721.4 L1257.3,721.7 L1257.8,722.1 L1258.3,718.6 L1258.8,722.3 L1259.3,723.2 L1259.8,722.4 L1260.3,723.5 L1260.8,720.6 L1261.3,722.2 L1261.8,722.8 L1262.3,722.1 L1262.8,724.1 L1263.3,723.3 L1263.8,722.2 L1264.3,724.0 L1264.8,724.1 L1265.3,722.6 L1265.8,724.1 L1266.3,723.9 L1266.8,724.0 L1267.3,722.1 L1267.8,725.5 L1268.3,724.8 L1268.8,724.0 L1269.3,724.6 L1269.8,724.7 L1270.3,724.0 L1270.8,723.8 L1271.3,724.8 L1271.8,724.0 L1272.3,724.3 L1272.8,723.5 L1273.3,724.8 L1273.8,726.6 L1274.3,725.7 L1274.8,725.6 L1275.3,725.3 L1275.8,725.3 L1276.3,724.0 L1276.8,728.2 L1277.3,725.2 L1277.8,724.4 L1278.3,726.9 L1278.8,726.9 L1279.3,726.0 L1279.8,724.9 L1280.3,725.1 L1280.8,729.1 L1281.3,727.0 L1281.8,726.5 L1282.3,729.8 L1282.8,726.9 L1283.3,726.5 L1283.8,728.5 L1284.3,728.4 L1284.8,730.1 L1285.3,726.2 L1285.8,728.7 L1286.3,726.3 L1286.8,729.2 L1287.3,727.9 L1287.8,728.3 L1288.3,728.0 L1288.8,730.2 L1289.3,731.4 L1289.8,729.3 L1290.3,729.2 L1290.8,729.0 L1291.3,730.4 L1291.8,728.6 L1292.3,734.6 L1292.8,729.8 L1293.3,732.5 L1293.8,730.6 L1294.3,728.7 L1294.8,728.6 L1295.3,730.2 L1295.8,730.0 L1296.3,730.7 L1296.8,729.6 L1297.3,734.3 L1297.8,734.1 L1298.3,729.1 L1298.8,732.2 L1299.3,733.3 L1299.8,731.4 L1300.3,731.6 L1300.8,733.4 L1301.3,732.8 L1301.8,730.7 L1302.3,733.9 L1302.8,731.8 L1303.3,735.0 L1303.8,731.4 L1304.3,729.8 L1304.8,733.0 L1305.3,734.6 L1305.8,733.8 L1306.3,733.4 L1306.8,732.1 L1307.3,734.6 L1307.8,731.1 L1308.3,734.6 L1308.8,732.1 L1309.3,733.0 L1309.8,732.2 L1310.3,732.8 L1310.8,736.0 L1311.3,732.6 L1311.8,734.5 L1312.3,733.3 L1312.8,735.8 L1313.3,732.8 L1313.8,734.7 L1314.3,735.9 L1314.8,737.8 L1315.3,733.4 L1315.8,733.9 L1316.3,735.1 L1316.8,737.2 L1317.3,734.0 L1317.8,736.5 L1318.3,734.7 L1318.8,734.2 L1319.3,733.6 L1319.8,735.9 L1320.3,737.1 L1320.8,735.8 L1321.3,733.2 L1321.8,735.3 L1322.3,737.4 L1322.8,737.4 L1323.3,736.7 L1323.8,738.3 L1324.3,734.8 L1324.8,734.9 L1325.3,739.8 L1325.8,737.6 L1326.3,736.5 L1326.8,736.2 L1327.3,733.6 L1327.8,738.1 L1328.3,734.4 L1328.8,734.6 L1329.3,737.2 L1329.8,739.3 L1330.3,736.9 L1330.8,738.0 L1331.3,737.0 L1331.8,738.2 L1332.3,735.5 L1332.8,740.6 L1333.3,736.6 L1333.8,738.7 L1334.3,735.3 L1334.8,740.4 L1335.3,738.7 L1335.8,740.9 L1336.3,737.4 L1336.8,739.7 L1337.3,738.2 L1337.8,738.4 L1338.3,740.3 L1338.8,737.4 L1339.3,739.7 L1339.8,741.3 L1340.3,741.1 L1340.8,740.3 L1341.3,739.4 L1341.8,737.7 L1342.3,740.9 L1342.8,738.2 L1343.3,740.7 L1343.8,738.8 L1344.3,739.3 L1344.8,739.3 L1345.3,740.2 L1345.8,738.8 L1346.3,739.7 L1346.8,738.8 L1347.3,740.3 L1347.8,740.0 L1348.3,740.2 L1348.8,738.6 L1349.3,740.2 L1349.8,739.9 L1350.3,740.6 L1350.8,740.0 L1351.3,738.7 L1351.8,741.0 L1352.3,739.2 L1352.8,740.5 L1353.3,737.4 L1353.8,740.9 L1354.3,741.1 L1354.8,739.1 L1355.3,741.1 L1355.8,739.9 L1356.3,742.2 L1356.8,741.3 L1357.3,738.9 L1357.8,740.3 L1358.3,738.3 L1358.8,740.2 L1359.3,741.4 L1359.8,741.9 L1360.3,740.7 L1360.8,740.6 L1361.3,741.1 L1361.8,740.2 L1362.3,741.5 L1362.8,742.6 L1363.3,741.4 L1363.8,742.3 L1364.3,740.2 L1364.8,740.6 L1365.3,741.8 L1365.8,744.1 L1366.3,742.8 L1366.8,743.8 L1367.3,741.6 L1367.8,743.2 L1368.3,739.4 L1368.8,742.4 L1369.3,739.0 L1369.8,743.4 L1370.3,742.5 L1370.8,743.5 L1371.3,742.5 L1371.8,741.4 L1372.3,741.1 L1372.8,742.4 L1373.3,744.2 L1373.8,743.1 L1374.3,741.6 L1374.8,741.6 L1375.3,741.5 L1375.8,742.2 L1376.3,742.4 L1376.8,741.9 L1377.3,742.6 L1377.8,740.6 L1378.3,744.8 L1378.8,743.1 L1379.3,744.8 L1379.8,743.2 L1380.3,742.6 L1380.8,743.1 L1381.3,743.3 L1381.8,742.2 L1382.3,742.6 L1382.8,745.7 L1383.3,744.4 L1383.8,742.6 L1384.3,744.0 L1384.8,742.3 L1385.3,745.3 L1385.8,742.1 L1386.3,744.7 L1386.8,743.6 L1387.3,743.7 L1387.8,742.6 L1388.3,743.4 L1388.8,742.8 L1389.3,742.7 L1389.8,744.5 L1390.3,747.2 L1390.8,743.5 L1391.3,745.3 L1391.8,744.1 L1392.3,743.2 L1392.8,745.9 L1393.3,745.1 L1393.8,745.8 L1394.3,744.5 L1394.8,744.6 L1395.3,743.4 L1395.8,744.1 L1396.3,746.7 L1396.8,741.6 L1397.3,745.1 L1397.8,746.6 L1398.3,745.8 L1398.8,745.9 L1399.3,744.5 L1399.8,746.4 L1400.3,746.5 L1400.8,745.0 L1401.3,747.3 L1401.8,744.5 L1402.3,741.9 L1402.8,745.2 L1403.3,745.2 L1403.8,744.3 L1404.3,744.8 L1404.8,744.8 L1405.3,743.2 L1405.8,747.3 L1406.3,745.7 L1406.8,749.3 L1407.3,745.8 L1407.8,746.4 L1408.3,744.0 L1408.8,747.4 L1409.3,744.7 L1409.8,746.9 L1410.3,747.4 L1410.8,747.3 L1411.3,745.2 L1411.8,745.3 L1412.3,747.4 L1412.8,748.0 L1413.3,748.4 L1413.8,746.5 L1414.3,746.5 L1414.8,749.0 L1415.3,745.9 L1415.8,747.7 L1416.3,746.4 L1416.8,744.9 L1417.3,745.3 L1417.8,747.4 L1418.3,747.1 L1418.8,747.5 L1419.3,746.4 L1419.8,746.2 L1420.3,747.2 L1420.8,746.6 L1421.3,744.7 L1421.8,746.3 L1422.3,749.0 L1422.8,745.8 L1423.3,747.5 L1423.8,746.7 L1424.3,747.8 L1424.8,745.7 L1425.3,745.2 L1425.8,747.4 L1426.3,745.9 L1426.8,746.8 L1427.3,746.4 L1427.8,748.1 L1428.3,747.2 L1428.8,747.0 L1429.3,745.5 L1429.8,744.8 L1430.3,745.7 L1430.8,747.9 L1431.3,747.7 L1431.8,747.6 L1432.3,746.3 L1432.8,745.5 L1433.3,748.3 L1433.8,747.0 L1434.3,747.5 L1434.8,745.6 L1435.3,745.9 L1435.8,747.6 L1436.3,747.8 L1436.8,745.5 L1437.3,747.2 L1437.8,745.3 L1438.3,748.4 L1438.8,747.7 L1439.3,749.8 L1439.8,748.8 L1440.3,745.9 L1440.8,747.1 L1441.3,746.2 L1441.8,747.0 L1442.3,747.8 L1442.8,746.8 L1443.3,746.9 L1443.8,745.1 L1444.3,747.6 L1444.8,746.8 L1445.3,747.6 L1445.8,748.2 L1446.3,746.8 L1446.8,747.7 L1447.3,746.0 L1447.8,748.0 L1448.3,746.8 L1448.8,746.0 L1449.3,746.5 L1449.8,745.0 L1450.3,746.0 L1450.8,746.2 L1451.3,746.8 L1451.8,746.7 L1452.3,746.0 L1452.8,746.6 L1453.3,744.0 L1453.8,746.9 L1454.3,747.5 L1454.8,747.8 L1455.3,748.2 L1455.8,746.5 L1456.3,746.7 L1456.8,746.2 L1457.3,746.2 L1457.8,746.9 L1458.3,748.5 L1458.8,744.6 L1459.3,746.1 L1459.8,747.1 L1460.3,745.5 L1460.8,747.3 L1461.3,745.0 L1461.8,746.3 L1462.3,744.6 L1462.8,747.0 L1463.3,745.6 L1463.8,747.4 L1464.3,746.2 L1464.8,745.3 L1465.3,745.9 L1465.8,746.6 L1466.3,746.4 L1466.8,746.0 L1467.3,745.8 L1467.8,746.2 L1468.3,747.2 L1468.8,745.3 L1469.3,746.6 L1469.8,744.3 L1470.3,747.1 L1470.8,746.3 L1471.3,745.3 L1471.8,745.3 L1472.3,743.5 L1472.8,745.7 L1473.3,745.2 L1473.8,743.6 L1474.3,744.8 L1474.8,746.0 L1475.3,745.5 L1475.8,745.5 L1476.3,744.4 L1476.8,746.1 L1477.3,744.9 L1477.8,746.0 L1478.3,747.7 L1478.8,742.2 L1479.3,744.1 L1479.8,744.7 L1480.3,743.7 L1480.8,745.9 L1481.3,744.0 L1481.8,746.6 L1482.3,745.3 L1482.8,744.8 L1483.3,744.2 L1483.8,745.2 L1484.3,744.7 L1484.8,745.9 L1485.3,744.5 L1485.8,745.2 L1486.3,744.3 L1486.8,744.1 L1487.3,741.6 L1487.8,743.6 L1488.3,744.0 L1488.8,741.9 L1489.3,741.5 L1489.8,742.8 L1490.3,743.5 L1490.8,740.9 L1491.3,743.4 L1491.8,744.2 L1492.3,742.5 L1492.8,743.1 L1493.3,743.3 L1493.8,741.7 L1494.3,743.3 L1494.8,743.0 L1495.3,740.8 L1495.8,742.9 L1496.3,743.3 L1496.8,740.7 L1497.3,743.2 L1497.8,741.6 L1498.3,740.2 L1498.8,740.5 L1499.3,740.6 L1499.8,742.4 L1500.3,741.0 L1500.8,741.0 L1501.3,739.8 L1501.8,741.3 L1502.3,739.6 L1502.8,740.3 L1503.3,741.8 L1503.8,741.8 L1504.3,740.1 L1504.8,740.7 L1505.3,741.3 L1505.8,740.5 L1506.3,742.0 L1506.8,742.1 L1507.3,740.1 L1507.8,738.5 L1508.3,739.8 L1508.8,741.7 L1509.3,741.3 L1509.8,741.3 L1510.3,741.1 L1510.8,738.9 L1511.3,739.9 L1511.8,740.8 L1512.3,739.7 L1512.8,740.4 L1513.3,737.9 L1513.8,737.6 L1514.3,741.7 L1514.8,740.0 L1515.3,739.8 L1515.8,740.8 L1516.3,741.8 L1516.8,742.6 L1517.3,735.7 L1517.8,739.3 L1518.3,740.2 L1518.8,736.3 L1519.3,736.5 L1519.8,738.6 L1520.3,741.3 L1520.8,740.0 L1521.3,741.6 L1521.8,739.2 L1522.3,740.2 L1522.8,740.8 L1523.3,739.4 L1523.8,738.8 L1524.3,739.0 L1524.8,734.0 L1525.3,739.2 L1525.8,736.4 L1526.3,737.7 L1526.8,739.7 L1527.3,739.3 L1527.8,736.2 L1528.3,739.5 L1528.8,739.8 L1529.3,739.1 L1529.8,739.7 L1530.3,739.5 L1530.8,736.6 L1531.3,738.5 L1531.8,738.4 L1532.3,737.2 L1532.8,738.7 L1533.3,737.7 L1533.8,738.7 L1534.3,737.7 L1534.8,740.2 L1535.3,741.7 L1535.8,738.0 L1536.3,738.8 L1536.8,738.9 L1537.3,739.4 L1537.8,738.6 L1538.3,735.9 L1538.8,739.2 L1539.3,738.6 L1539.8,737.3 L1540.3,738.4 L1540.8,737.9 L1541.3,738.7 L1541.8,737.9 L1542.3,737.8 L1542.8,738.2 L1543.3,738.2 L1543.8,737.8 L1544.3,739.1 L1544.8,737.8 L1545.3,736.3 L1545.8,739.4 L1546.3,737.2 L1546.8,739.0 L1547.3,735.5 L1547.8,737.6 L1548.3,739.0 L1548.8,738.4 L1549.3,736.9 L1549.8,736.0 L1550.3,736.0 L1550.8,736.6 L1551.3,735.6 L1551.8,735.9 L1552.3,735.6 L1552.8,735.6 L1553.3,737.3 L1553.8,734.7 L1554.3,737.2 L1554.8,738.0 L1555.3,735.9 L1555.8,736.0 L1556.3,737.2 L1556.8,737.2 L1557.3,738.6 L1557.8,734.8 L1558.3,737.3 L1558.8,739.3 L1559.3,737.7 L1559.8,739.9 L1560.3,740.5 L1560.8,737.0 L1561.3,739.8 L1561.8,738.6 L1562.3,737.9 L1562.8,737.6 L1563.3,737.8 L1563.8,737.0 L1564.3,738.0 L1564.8,739.5 L1565.3,740.0 L1565.8,737.9 L1566.3,739.2 L1566.8,739.2 L1567.3,735.5 L1567.8,739.6 L1568.3,737.1 L1568.8,737.3 L1569.3,740.0 L1569.8,741.1 L1570.3,737.6 L1570.8,737.9 L1571.3,737.9 L1571.8,738.5 L1572.3,738.8 L1572.8,738.3 L1573.3,737.3 L1573.8,741.9 L1574.3,739.0 L1574.8,738.7 L1575.3,741.0 L1575.8,739.4 L1576.3,741.4 L1576.8,741.1 L1577.3,741.4 L1577.8,739.7 L1578.3,741.2 L1578.8,738.4 L1579.3,738.7 L1579.8,740.7 L1580.3,740.3 L1580.8,742.5 L1581.3,740.5 L1581.8,738.6 L1582.3,741.1 L1582.8,740.7 L1583.3,741.4 L1583.8,739.7 L1584.3,740.3 L1584.8,741.5 L1585.3,742.4 L1585.8,742.0 L1586.3,742.6 L1586.8,739.7 L1587.3,741.4 L1587.8,742.0 L1588.3,743.0 L1588.8,742.2 L1589.3,741.5 L1589.8,741.7 L1590.3,741.8 L1590.8,740.1 L1591.3,742.0 L1591.8,743.1 L1592.3,743.0 L1592.8,739.7 L1593.3,742.1 L1593.8,740.2 L1594.3,743.6 L1594.8,742.9 L1595.3,743.1 L1595.8,741.4 L1596.3,739.7 L1596.8,740.9 L1597.3,741.8 L1597.8,740.4 L1598.3,741.0 L1598.8,744.7 L1599.3,740.7 L1599.8,743.1 L1600.3,740.0 L1600.8,742.8 L1601.3,743.6 L1601.8,743.1 L1602.3,744.1 L1602.8,744.9 L1603.3,740.8 L1603.8,742.9 L1604.3,743.3 L1604.8,743.2 L1605.3,744.7 L1605.8,743.0 L1606.3,744.3 L1606.8,744.2 L1607.3,743.0 L1607.8,743.5 L1608.3,741.8 L1608.8,743.3 L1609.3,743.1 L1609.8,742.7 L1610.3,742.3 L1610.8,744.2 L1611.3,742.8 L1611.8,746.0 L1612.3,744.8 L1612.8,744.1 L1613.3,742.4 L1613.8,744.3 L1614.3,743.4 L1614.8,743.3 L1615.3,741.8 L1615.8,744.0 L1616.3,743.6 L1616.8,742.7 L1617.3,742.5 L1617.8,743.0 L1618.3,741.7 L1618.8,742.7 L1619.3,745.3 L1619.8,742.7 L1620.3,746.6 L1620.8,741.8 L1621.3,745.0 L1621.8,745.0 L1622.3,745.2 L1622.8,744.4 L1623.3,741.6 L1623.8,745.2 L1624.3,745.1 L1624.8,743.8 L1625.3,740.7 L1625.8,745.2 L1626.3,742.6 L1626.8,743.5 L1627.3,745.5 L1627.8,745.6 L1628.3,744.4 L1628.8,743.2 L1629.3,746.1 L1629.8,745.4 L1630.3,743.7 L1630.8,742.7 L1631.3,744.3 L1631.8,742.2 L1632.3,746.2 L1632.8,744.6 L1633.3,743.5 L1633.8,744.5 L1634.3,741.8 L1634.8,743.9 L1635.3,743.1 L1635.8,741.9 L1636.3,743.1 L1636.8,744.4 L1637.3,742.1 L1637.8,743.7 L1638.3,742.1 L1638.8,744.3 L1639.3,741.7 L1639.8,744.9 L1640.3,744.9 L1640.8,745.1 L1641.3,746.4 L1641.8,744.2 L1642.3,744.2 L1642.8,744.8 L1643.3,743.4 L1643.8,741.6 L1644.3,742.4 L1644.8,742.4 L1645.3,744.3 L1645.8,743.2 L1646.3,743.5 L1646.8,744.8 L1647.3,744.3 L1647.8,746.7 L1648.3,744.0 L1648.8,742.8 L1649.3,745.7 L1649.8,743.5 L1650.3,744.0 L1650.8,745.4 L1651.3,744.3 L1651.8,745.0 L1652.3,743.3 L1652.8,743.7 L1653.3,745.0 L1653.8,743.5 L1654.3,743.6 L1654.8,744.1 L1655.3,746.3 L1655.8,746.1 L1656.3,744.5 L1656.8,744.3 L1657.3,743.3 L1657.8,746.0 L1658.3,744.8 L1658.8,745.5 L1659.3,742.5 L1659.8,745.4 L1660.3,744.5 L1660.8,745.3 L1661.3,745.7 L1661.8,744.4 L1662.3,743.9 L1662.8,745.3 L1663.3,742.9 L1663.8,746.3 L1664.3,744.9 L1664.8,743.1 L1665.3,746.2 L1665.8,745.8 L1666.3,746.6 L1666.8,745.9 L1667.3,745.3 L1667.8,744.6 L1668.3,743.3 L1668.8,745.7 L1669.3,745.5 L1669.8,744.2 L1670.3,745.5 L1670.8,743.6 L1671.3,746.2 L1671.8,745.0 L1672.3,745.2 L1672.8,743.9 L1673.3,746.2 L1673.8,745.2 L1674.3,744.2 L1674.8,745.5 L1675.3,744.7 L1675.8,746.4 L1676.3,743.1 L1676.8,743.6 L1677.3,747.7 L1677.8,744.5 L1678.3,745.8 L1678.8,744.7 L1679.3,745.5 L1679.8,748.6 L1680.3,742.7 L1680.8,746.0 L1681.3,745.4 L1681.8,745.4 L1682.3,744.3 L1682.8,744.1 L1683.3,747.2 L1683.8,746.1 L1684.3,743.9 L1684.8,745.5 L1685.3,743.7 L1685.8,749.2 L1686.3,746.0 L1686.8,743.2 L1687.3,746.8 L1687.8,746.4 L1688.3,746.0 L1688.8,745.9 L1689.3,744.9 L1689.8,745.4 L1690.3,743.1 L1690.8,747.4 L1691.3,748.3 L1691.8,746.4 L1692.3,746.6 L1692.8,744.0 L1693.3,745.2 L1693.8,744.0 L1694.3,744.1 L1694.8,746.5 L1695.3,747.7 L1695.8,745.8 L1696.3,749.1 L1696.8,747.0 L1697.3,743.0 L1697.8,745.4 L1698.3,747.6 L1698.8,746.2 L1699.3,747.3 L1699.8,743.8 L1700.3,747.7 L1700.8,744.5 L1701.3,746.5 L1701.8,748.8 L1702.3,746.1 L1702.8,745.7 L1703.3,747.1 L1703.8,745.0 L1704.3,744.8 L1704.8,747.4 L1705.3,744.2 L1705.8,744.5 L1706.3,748.4 L1706.8,744.5 L1707.3,746.7 L1707.8,747.6 L1708.3,746.1 L1708.8,744.8 L1709.3,747.3 L1709.8,745.0 L1710.3,749.0 L1710.8,749.1 L1711.3,744.9 L1711.8,747.0 L1712.3,745.4 L1712.8,746.8 L1713.3,746.0 L1713.8,745.0 L1714.3,747.0 L1714.8,744.2 L1715.3,746.7 L1715.8,746.2 L1716.3,745.3 L1716.8,747.6 L1717.3,746.4 L1717.8,745.9 L1718.3,746.2 L1718.8,746.1 L1719.3,747.6 L1719.8,746.1 L1720.3,742.7 L1720.8,742.4 L1721.3,745.1 L1721.8,744.8 L1722.3,746.1 L1722.8,744.7 L1723.3,745.5 L1723.8,748.2 L1724.3,744.8 L1724.8,747.7 L1725.3,746.4 L1725.8,748.3 L1726.3,747.8 L1726.8,746.7 L1727.3,748.0 L1727.8,746.9 L1728.3,745.2 L1728.8,747.3 L1729.3,747.3 L1729.8,746.5 L1730.3,747.0 L1730.8,746.2 L1731.3,747.2 L1731.8,746.4 L1732.3,744.8 L1732.8,746.4 L1733.3,748.9 L1733.8,747.9 L1734.3,748.8 L1734.8,746.8 L1735.3,746.3 L1735.8,745.5 L1736.3,747.1 L1736.8,748.2 L1737.3,748.0 L1737.8,747.9 L1738.3,746.3 L1738.8,747.1 L1739.3,745.9 L1739.8,748.0 L1740.3,747.8 L1740.8,746.1 L1741.3,747.2 L1741.8,744.0 L1742.3,747.9 L1742.8,746.0 L1743.3,746.6 L1743.8,747.8 L1744.3,747.9 L1744.8,746.2 L1745.3,749.2 L1745.8,749.7 L1746.3,749.0 L1746.8,748.8 L1747.3,747.2 L1747.8,748.9 L1748.3,746.0 L1748.8,745.7 L1749.3,747.4 L1749.8,747.5 L1750.3,746.1 L1750.8,749.5 L1751.3,745.3 L1751.8,744.5 L1752.3,746.7 L1752.8,749.4 L1753.3,748.2 L1753.8,747.7 L1754.3,747.4 L1754.8,748.0 L1755.3,747.7 L1755.8,747.4 L1756.3,747.1 L1756.8,745.2 L1757.3,748.6 L1757.8,746.8 L1758.3,747.8 L1758.8,748.0 L1759.3,748.7 L1759.8,746.4 L1760.3,748.5 L1760.8,748.5 L1761.3,747.3 L1761.8,747.4 L1762.3,747.6 L1762.8,746.1 L1763.3,746.9 L1763.8,746.0 L1764.3,749.0 L1764.8,746.5 L1765.3,746.1 L1765.8,747.7 L1766.3,748.2 L1766.8,747.1 L1767.3,746.3 L1767.8,748.1 L1768.3,748.7 L1768.8,745.5 L1769.3,748.8 L1769.8,745.3 L1770.3,748.5 L1770.8,747.1 L1771.3,747.3 L1771.8,748.6 L1772.3,749.6 L1772.8,750.4 L1773.3,749.5 L1773.8,748.6 L1774.3,746.0 L1774.8,747.2 L1775.3,747.9 L1775.8,747.0 L1776.3,748.6 L1776.8,747.5 L1777.3,750.2 L1777.8,747.6 L1778.3,746.2 L1778.8,747.2 L1779.3,747.0 L1779.8,748.8 L1780.3,749.7 L1780.8,749.3 L1781.3,749.3 L1781.8,747.1 L1782.3,746.6 L1782.8,747.0 L1783.3,748.1 L1783.8,747.6 L1784.3,748.4 L1784.8,749.4 L1785.3,748.2 L1785.8,750.4 L1786.3,747.2 L1786.8,749.0 L1787.3,748.1 L1787.8,749.5 L1788.3,748.2 L1788.8,747.6 L1789.3,748.1 L1789.8,747.2 L1790.3,746.9 L1790.8,749.4 L1791.3,747.6 L1791.8,750.0 L1792.3,751.7 L1792.8,747.9 L1793.3,749.6 L1793.8,748.4 L1794.3,746.0 L1794.8,748.4 L1795.3,750.5 L1795.8,747.0 L1796.3,748.4 L1796.8,748.4 L1797.3,746.7 L1797.8,749.1 L1798.3,748.5 L1798.8,749.5 L1799.3,748.8 L1799.8,746.9 L1800.3,748.9 L1800.8,749.6 L1801.3,748.5 L1801.8,749.6 L1802.3,749.6 L1802.8,746.1 L1803.3,749.7 L1803.8,746.3 L1804.3,747.3 L1804.8,748.8 L1805.3,747.7 L1805.8,748.0 L1806.3,750.5 L1806.8,747.7 L1807.3,750.6 L1807.8,751.5 L1808.3,751.0 L1808.8,747.7 L1809.3,747.2 L1809.8,749.3 L1810.3,752.0 L1810.8,749.0 L1811.3,748.6 L1811.8,749.2 L1812.3,750.3 L1812.8,750.9 L1813.3,749.4 L1813.8,749.3 L1814.3,750.1 L1814.8,749.6 L1815.3,749.0 L1815.8,747.3 L1816.3,749.7 L1816.8,748.8 L1817.3,749.3 L1817.8,749.3 L1818.3,748.6 L1818.8,750.5 L1819.3,751.2 L1819.8,750.5 L1820.3,749.0 L1820.8,750.1 L1821.3,750.8 L1821.8,749.8 L1822.3,750.9 L1822.8,748.1 L1823.3,749.7 L1823.8,751.9 L1824.3,751.4 L1824.8,749.9 L1825.3,750.3 L1825.8,753.0 L1826.3,751.6 L1826.8,749.3 L1827.3,750.7 L1827.8,749.7 L1828.3,749.6 L1828.8,748.8 L1829.3,751.3 L1829.8,753.3 L1830.3,751.6 L1830.8,748.8 L1831.3,751.2 L1831.8,748.7 L1832.3,750.9 L1832.8,752.0 L1833.3,752.6 L1833.8,750.9 L1834.3,751.2 L1834.8,750.8 L1835.3,750.6 L1835.8,752.9 L1836.3,749.6 L1836.8,748.8 L1837.3,753.2 L1837.8,753.9 L1838.3,748.9 L1838.8,752.3 L1839.3,752.1 L1839.8,750.6 L1840.3,749.9 L1840.8,751.4 L1841.3,750.8 L1841.8,752.3 L1842.3,750.5 L1842.8,752.9 L1843.3,750.6 L1843.8,753.5 L1844.3,752.6 L1844.8,753.0 L1845.3,751.0 L1845.8,751.3 L1846.3,751.5 L1846.8,753.2 L1847.3,750.8 L1847.8,750.7 L1848.3,751.5 L1848.8,752.3 L1849.3,751.7 L1849.8,751.8 L1850.3,750.2 L1850.8,751.1 L1851.3,750.6 L1851.8,753.4 L1852.3,752.0 L1852.8,753.0 L1853.3,750.4 L1853.8,752.1 L1854.3,752.7 L1854.8,750.9 L1855.3,751.4 L1855.8,751.7 L1856.3,752.6 L1856.8,752.8 L1857.3,750.6 L1857.8,752.9 L1858.3,752.8 L1858.8,752.9 L1859.3,751.5 L1859.8,752.6 L1860.3,754.4 L1860.8,754.2 L1861.3,752.0 L1861.8,754.9 L1862.3,752.3 L1862.8,751.7 L1863.3,754.4 L1863.8,753.4 L1864.3,756.0 L1864.8,752.8 L1865.3,753.3 L1865.8,754.1 L1866.3,753.5 L1866.8,752.7 L1867.3,753.3 L1867.8,753.3 L1868.3,753.3 L1868.8,753.4 L1869.3,751.4 L1869.8,754.6 L1870.3,752.7 L1870.8,753.3 L1871.3,752.6 L1871.8,753.4 L1872.3,755.0 L1872.8,755.4 L1873.3,754.2 L1873.8,754.1 L1874.3,753.2 L1874.8,753.6 L1875.3,754.3 L1875.8,753.8 L1876.3,752.8 L1876.8,754.2 L1877.3,752.8 L1877.8,756.9 L1878.3,754.7 L1878.8,753.6 L1879.3,755.0 L1879.8,753.4 L1880.3,754.1 L1880.8,756.5 L1881.3,756.2 L1881.8,753.1 L1882.3,753.2 L1882.8,754.0 L1883.3,757.7 L1883.8,754.9 L1884.3,755.2 L1884.8,754.2 L1885.3,756.7 L1885.8,756.2 L1886.3,752.8 L1886.8,754.0 L1887.3,752.8 L1887.8,753.7 L1888.3,754.2 L1888.8,753.6 L1889.3,754.5 L1889.8,756.3 L1890.3,756.9 L1890.8,755.6 L1891.3,756.5 L1891.8,753.8 L1892.3,757.6 L1892.8,758.7 L1893.3,755.6 L1893.8,756.6 L1894.3,756.3 L1894.8,753.1 L1895.3,757.3 L1895.8,756.6 L1896.3,754.0 L1896.8,755.6 L1897.3,757.7 L1897.8,757.0 L1898.3,754.5 L1898.8,755.6 L1899.3,755.5 L1899.8,756.6 L1900.3,755.6 L1900.8,756.6 L1901.3,756.4 L1901.8,754.7 L1902.3,757.2 L1902.8,757.1 L1903.3,755.9 L1903.8,757.8 L1904.3,759.9 L1904.8,754.9 L1905.3,757.3 L1905.8,758.2 L1906.3,757.2 L1906.8,756.4 L1907.3,760.1 L1907.8,756.7 L1908.3,757.2 L1908.8,756.6 L1909.3,759.1 L1909.8,754.7 L1910.3,756.4 L1910.8,757.1 L1911.3,758.1 L1911.8,758.2 L1912.3,759.1 L1912.8,757.7 L1913.3,757.0 L1913.8,757.9 L1914.3,756.9 L1914.8,757.4 L1915.3,757.5 L1915.8,758.6 L1916.3,759.4 L1916.8,756.9 L1917.3,757.6 L1917.8,758.4 L1918.3,758.5 L1918.8,758.2 L1919.3,759.4 L1919.8,758.4 L1920.3,756.5 L1920.8,760.5 L1921.3,757.2 L1921.8,761.0 L1922.3,759.3 L1922.8,759.5 L1923.3,757.2 L1923.8,759.5 L1924.3,758.9 L1924.8,758.2 L1925.3,760.0 L1925.8,760.4 L1926.3,761.0 L1926.8,757.9 L1927.3,758.5 L1927.8,761.4 L1928.3,760.4 L1928.8,760.8 L1929.3,759.1 L1929.8,760.3 L1930.3,761.0 L1930.8,758.4 L1931.3,759.2 L1931.8,760.5 L1932.3,762.0 L1932.8,759.7 L1933.3,761.2 L1933.8,759.3 L1934.3,758.9 L1934.8,761.3 L1935.3,759.3 L1935.8,760.7 L1936.3,760.0 L1936.8,761.4 L1937.3,759.2 L1937.8,759.1 L1938.3,759.1 L1938.8,760.8 L1939.3,762.7 L1939.8,762.2 L1940.3,761.5 L1940.8,761.1 L1941.3,762.9 L1941.8,761.3 L1942.3,762.8 L1942.8,763.3 L1943.3,762.5 L1943.8,762.2 L1944.3,762.2 L1944.8,761.7 L1945.3,762.2 L1945.8,760.8 L1946.3,760.9 L1946.8,764.1 L1947.3,762.0 L1947.8,760.0 L1948.3,764.0 L1948.8,764.0 L1949.3,763.0 L1949.8,760.9 L1950.3,765.0 L1950.8,764.0 L1951.3,764.2 L1951.8,762.4 L1952.3,763.3 L1952.8,762.5 L1953.3,762.6 L1953.8,761.5 L1954.3,762.0 L1954.8,762.5 L1955.3,763.2 L1955.8,764.5 L1956.3,764.0 L1956.8,761.1 L1957.3,764.8 L1957.8,761.6 L1958.3,764.2 L1958.8,763.4 L1959.3,763.8 L1959.8,763.2 L1960.3,762.5 L1960.8,766.0 L1961.3,760.9 L1961.8,763.0 L1962.3,765.9 L1962.8,764.3 L1963.3,764.4 L1963.8,763.3 L1964.3,763.1 L1964.8,765.4 L1965.3,764.5 L1965.8,765.2 L1966.3,765.8 L1966.8,762.7 L1967.3,763.7 L1967.8,764.2 L1968.3,765.4 L1968.8,766.1 L1969.3,764.0 L1969.8,765.1 L1970.3,765.3 L1970.8,765.4 L1971.3,767.7 L1971.8,764.8 L1972.3,766.0 L1972.8,762.9 L1973.3,765.8 L1973.8,766.2 L1974.3,767.1 L1974.8,765.6 L1975.3,765.6 L1975.8,764.8 L1976.3,765.8 L1976.8,769.6 L1977.3,764.4 L1977.8,764.5 L1978.3,766.9 L1978.8,765.7 L1979.3,768.6 L1979.8,765.1 L1980.3,769.3 L1980.8,766.6 L1981.3,765.2 L1981.8,764.5 L1982.3,766.3 L1982.8,766.7 L1983.3,768.1 L1983.8,766.0 L1984.3,771.7 L1984.8,768.9 L1985.3,767.7 L1985.8,767.3 L1986.3,771.6 L1986.8,767.2 L1987.3,769.2 L1987.8,770.2 L1988.3,767.2 L1988.8,769.2 L1989.3,767.9 L1989.8,770.4 L1990.3,770.5 L1990.8,769.4 L1991.3,769.0 L1991.8,767.3 L1992.3,772.1 L1992.8,770.9 L1993.3,770.0 L1993.8,771.1 L1994.3,769.2 L1994.8,767.8 L1995.3,770.5 L1995.8,768.1 L1996.3,768.7 L1996.8,770.4 L1997.3,767.5 L1997.8,769.6 L1998.3,769.2 L1998.8,768.2 L1999.3,768.1 L1999.8,769.5 L2000.3,769.4 L2000.8,770.1 L2001.3,768.0 L2001.8,770.1 L2002.3,768.4 L2002.8,769.0 L2003.3,771.3 L2003.8,769.2 L2004.3,769.5 L2004.8,769.2 L2005.3,770.2 L2005.8,771.4 L2006.3,769.9 L2006.8,771.2 L2007.3,768.7 L2007.8,771.1 L2008.3,770.3 L2008.8,770.6 L2009.3,769.4 L2009.8,769.8 L2010.3,771.0 L2010.8,769.1 L2011.3,771.7 L2011.8,770.2 L2012.3,771.4 L2012.8,769.4 L2013.3,768.8 L2013.8,771.7 L2014.3,771.8 L2014.8,770.9 L2015.3,771.9 L2015.8,771.0 L2016.3,771.9 L2016.8,771.3 L2017.3,769.9 L2017.8,772.6 L2018.3,770.0 L2018.8,774.2 L2019.3,771.1 L2019.8,770.1 L2020.3,771.1 L2020.8,771.5 L2021.3,771.6 L2021.8,772.2 L2022.3,770.7 L2022.8,768.8 L2023.3,770.4 L2023.8,772.2 L2024.3,773.1 L2024.8,769.1 L2025.3,771.8 L2025.8,773.2 L2026.3,769.9 L2026.8,774.0 L2027.3,770.8 L2027.8,771.7 L2028.3,771.3 L2028.8,774.3 L2029.3,773.1 L2029.8,772.2 L2030.3,771.6 L2030.8,769.9 L2031.3,771.7 L2031.8,771.4 L2032.3,772.0 L2032.8,769.7 L2033.3,773.9 L2033.8,773.5 L2034.3,774.4 L2034.8,771.6 L2035.3,772.4 L2035.8,770.8 L2036.3,773.6 L2036.8,772.2 L2037.3,774.7 L2037.8,773.6 L2038.3,773.6 L2038.8,773.4 L2039.3,770.8 L2039.8,773.7 L2040.3,770.7 L2040.8,773.2 L2041.3,773.7 L2041.8,771.4 L2042.3,772.2 L2042.8,772.8 L2043.3,773.4 L2043.8,773.5 L2044.3,773.2 L2044.8,772.1 L2045.3,773.6 L2045.8,776.5 L2046.3,772.6 L2046.8,775.5 L2047.3,771.9 L2047.8,772.6 L2048.3,775.3 L2048.8,774.7 L2049.3,775.7 L2049.8,774.5 L2050.3,772.9 L2050.8,773.9 L2051.3,773.2 L2051.8,775.2 L2052.3,774.7 L2052.8,775.6 L2053.3,773.1 L2053.8,773.7 L2054.3,773.6 L2054.8,773.7 L2055.3,774.0 L2055.8,776.0 L2056.3,774.5 L2056.8,775.9 L2057.3,774.7 L2057.8,772.2 L2058.3,772.7 L2058.8,774.4 L2059.3,776.2 L2059.8,774.7 L2060.3,772.8 L2060.8,775.0 L2061.3,774.5 L2061.8,775.7 L2062.3,776.1 L2062.8,775.4 L2063.3,774.2 L2063.5,773.8" stroke="#ff0000"/>
<path d="M30.9,988.3 L31.4,982.5 L31.9,986.5 L32.4,985.4 L32.9,985.8 L33.4,986.2 L33.9,984.1 L34.4,986.6 L34.9,986.0 L35.4,991.6 L35.9,987.7 L36.4,987.2 L36.9,987.4 L37.4,987.1 L37.9,986.8 L38.4,987.8 L38.9,989.1 L39.4,988.3 L39.9,990.1 L40.4,988.7 L40.9,989.2 L41.4,991.3 L41.9,990.2 L42.4,989.0 L42.9,989.5 L43.4,990.6 L43.9,992.6 L44.4,989.9 L44.9,990.0 L45.4,991.8 L45.9,989.5 L46.4,990.4 L46.9,992.0 L47.4,991.8 L47.9,991.3 L48.4,992.1 L48.9,987.7 L49.4,992.8 L49.9,990.4 L50.4,989.6 L50.9,992.2 L51.4,992.9 L51.9,991.5 L52.4,990.8 L52.9,992.3 L53.4,992.3 L53.9,994.3 L54.4,993.6 L54.9,992.9 L55.4,994.2 L55.9,992.6 L56.4,991.8 L56.9,993.8 L57.4,993.9 L57.9,993.0 L58.4,992.3 L58.9,993.7 L59.4,990.3 L59.9,994.5 L60.4,994.4 L60.9,991.7 L61.4,994.0 L61.9,992.7 L62.4,995.1 L62.9,991.5 L63.4,993.1 L63.9,995.2 L64.4,995.9 L64.9,991.7 L65.4,993.9 L65.9,995.1 L66.4,993.9 L66.9,996.9 L67.4,993.3 L67.9,995.4 L68.4,993.7 L68.9,996.9 L69.4,995.2 L69.9,994.8 L70.4,993.1 L70.9,997.6 L71.4,996.5 L71.9,996.5 L72.4,997.1 L72.9,996.1 L73.4,994.9 L73.9,994.8 L74.4,994.9 L74.9,997.8 L75.4,994.1 L75.9,995.3 L76.4,995.8 L76.9,996.5 L77.4,997.1 L77.9,994.7 L78.4,994.2 L78.9,996.5 L79.4,998.1 L79.9,997.6 L80.4,997.0 L80.9,996.3 L81.4,997.2 L81.9,996.6 L82.4,998.0 L82.9,996.0 L83.4,997.2 L83.9,997.0 L84.4,997.9 L84.9,997.5 L85.4,1000.6 L85.9,999.3 L86.4,999.3 L86.9,994.8 L87.4,997.1 L87.9,996.8 L88.4,998.3 L88.9,994.7 L89.4,999.2 L89.9,999.1 L90.4,996.1 L90.9,996.6 L91.4,996.9 L91.9,998.0 L92.4,998.8 L92.9,1000.7 L93.4,997.8 L93.9,999.1 L94.4,998.4 L94.9,1000.5 L95.4,999.3 L95.9,1000.1 L96.4,997.0 L96.9,998.2 L97.4,997.4 L97.9,1000.5 L98.4,999.4 L98.9,998.2 L99.4,998.1 L99.9,999.3 L100.4,997.8 L100.9,997.6 L101.4,999.5 L101.9,1002.1 L102.4,998.6 L102.9,998.3 L103.4,997.5 L103.9,997.3 L104.4,999.8 L104.9,1000.3 L105.4,999.2 L105.9,999.7 L106.4,999.4 L106.9,999.5 L107.4,997.4 L107.9,998.8 L108.4,999.6 L108.9,998.5 L109.4,999.0 L109.9,998.6 L110.4,999.2 L110.9,1000.8 L111.4,999.2 L111.9,999.6 L112.4,1000.9 L112.9,1000.7 L113.4,1002.2 L113.9,997.3 L114.4,1001.2 L114.9,999.5 L115.4,1000.3 L115.9,1001.3 L116.4,1001.7 L116.9,1001.7 L117.4,1000.6 L117.9,1002.5 L118.4,1000.1 L118.9,1000.4 L119.4,1001.6 L119.9,999.9 L120.4,1003.5 L120.9,1002.1 L121.4,1003.6 L121.9,1000.8 L122.4,1000.4 L122.9,1001.2 L123.4,1002.0 L123.9,1000.3 L124.4,1001.7 L124.9,1001.2 L125.4,1003.4 L125.9,1000.5 L126.4,1002.8 L126.9,1000.6 L127.4,1000.3 L127.9,1000.7 L128.4,1000.1 L128.9,1001.9 L129.4,1003.1 L129.9,1002.0 L130.4,1002.7 L130.9,1004.1 L131.4,1002.4 L131.9,1002.3 L132.4,1001.8 L132.9,1000.1 L133.4,1003.3 L133.9,1000.0 L134.4,1003.2 L134.9,1002.4 L135.4,1004.0 L135.9,1002.5 L136.4,1001.6 L136.9,1003.2 L137.4,1002.1 L137.9,1002.6 L138.4,1003.0 L138.9,1002.8 L139.4,1002.8 L139.9,1002.0 L140.4,1002.9 L140.9,1000.5 L141.4,1003.1 L141.9,1001.8 L142.4,1004.9 L142.9,1005.1 L143.4,1001.0 L143.9,1003.8 L144.4,1003.5 L144.9,1002.4 L145.4,1004.5 L145.9,1003.3 L146.4,1001.7 L146.9,1003.7 L147.4,1003.9 L147.9,1004.3 L148.4,1002.6 L148.9,1005.1 L149.4,1005.3 L149.9,1002.9 L150.4,1003.6 L150.9,1004.4 L151.4,1003.9 L151.9,1006.9 L152.4,1005.0 L152.9,1003.5 L153.4,1003.8 L153.9,1004.8 L154.4,1008.0 L154.9,1004.8 L155.4,1005.3 L155.9,1005.8 L156.4,1005.2 L156.9,1008.3 L157.4,1004.7 L157.9,1006.4 L158.4,1005.7 L158.9,1006.4 L159.4,1004.1 L159.9,1008.0 L160.4,1005.6 L160.9,1005.8 L161.4,1004.6 L161.9,1005.0 L162.4,1006.7 L162.9,1007.3 L163.4,1007.1 L163.9,1007.7 L164.4,1007.2 L164.9,1006.3 L165.4,1007.5 L165.9,1007.2 L166.4,1006.4 L166.9,1007.5 L167.4,1008.3 L167.9,1007.0 L168.4,1006.3 L168.9,1007.7 L169.4,1009.3 L169.9,1006.7 L170.4,1006.9 L170.9,1006.9 L171.4,1008.7 L171.9,1004.8 L172.4,1007.7 L172.9,1008.9 L173.4,1006.3 L173.9,1009.4 L174.4,1008.2 L174.9,1006.9 L175.4,1007.9 L175.9,1005.7 L176.4,1007.0 L176.9,1010.2 L177.4,1006.7 L177.9,1010.3 L178.4,1007.9 L178.9,1009.4 L179.4,1008.2 L179.9,1005.3 L180.4,1007.5 L180.9,1008.6 L181.4,1006.9 L181.9,1006.7 L182.4,1009.0 L182.9,1007.7 L183.4,1006.4 L183.9,1007.8 L184.4,1009.9 L184.9,1008.2 L185.4,1010.1 L185.9,1010.9 L186.4,1009.0 L186.9,1007.6 L187.4,1007.4 L187.9,1009.2 L188.4,1010.4 L188.9,1009.7 L189.4,1010.1 L189.9,1008.9 L190.4,1009.9 L190.9,1008.9 L191.4,1009.2 L191.9,1008.0 L192.4,1007.7 L192.9,1009.2 L193.4,1008.4 L193.9,1008.7 L194.4,1010.8 L194.9,1009.9 L195.4,1013.9 L195.9,1011.3 L196.4,1009.4 L196.9,1011.3 L197.4,1010.8 L197.9,1009.5 L198.4,1011.8 L198.9,1009.5 L199.4,1006.5 L199.9,1011.6 L200.4,1009.8 L200.9,1012.6 L201.4,1009.9 L201.9,1009.3 L202.4,1012.9 L202.9,1009.5 L203.4,1011.2 L203.9,1012.9 L204.4,1011.2 L204.9,1011.1 L205.4,1011.3 L205.9,1012.4 L206.4,1010.3 L206.9,1012.2 L207.4,1012.2 L207.9,1014.5 L208.4,1011.1 L208.9,1010.4 L209.4,1012.7 L209.9,1011.2 L210.4,1012.2 L210.9,1012.1 L211.4,1013.5 L211.9,1011.1 L212.4,1011.9 L212.9,1008.8 L213.4,1011.0 L213.9,1014.2 L214.4,1011.4 L214.9,1011.4 L215.4,1010.8 L215.9,1013.2 L216.4,1012.8 L216.9,1011.1 L217.4,1013.5 L217.9,1013.1 L218.4,1013.8 L218.9,1012.0 L219.4,1015.1 L219.9,1013.5 L220.4,1012.8 L220.9,1012.4 L221.4,1012.8 L221.9,1014.3 L222.4,1012.9 L222.9,1014.7 L223.4,1014.1 L223.9,1015.1 L224.4,1014.5 L224.9,1013.4 L225.4,1011.0 L225.9,1014.0 L226.4,1014.6 L226.9,1013.9 L227.4,1014.4 L227.9,1013.1 L228.4,1013.3 L228.9,1012.6 L229.4,1015.7 L229.9,1014.1 L230.4,1013.3 L230.9,1012.3 L231.4,1013.8 L231.9,1016.0 L232.4,1014.7 L232.9,1013.2 L233.4,1016.1 L233.9,1016.1 L234.4,1015.5 L234.9,1015.3 L235.4,1015.8 L235.9,1015.1 L236.4,1015.4 L236.9,1013.4 L237.4,1016.4 L237.9,1014.8 L238.4,1017.1 L238.9,1011.8 L239.4,1015.4 L239.9,1015.8 L240.4,1014.1 L240.9,1015.2 L241.4,1015.6 L241.9,1015.4 L242.4,1013.9 L242.9,1014.5 L243.4,1016.0 L243.9,1016.4 L244.4,1014.8 L244.9,1014.8 L245.4,1015.0 L245.9,1016.1 L246.4,1013.4 L246.9,1013.1 L247.4,1015.0 L247.9,1013.4 L248.4,1014.1 L248.9,1015.0 L249.4,1015.5 L249.9,1013.5 L250.4,1016.0 L250.9,1012.6 L251.4,1015.7 L251.9,1012.9 L252.4,1013.3 L252.9,1015.9 L253.4,1014.5 L253.9,1014.0 L254.4,1014.5 L254.9,1015.7 L255.4,1015.0 L255.9,1015.1 L256.4,1016.5 L256.9,1014.2 L257.4,1014.5 L257.9,1014.5 L258.4,1016.7 L258.9,1016.5 L259.4,1016.9 L259.9,1015.2 L260.4,1015.0 L260.9,1016.4 L261.4,1014.8 L261.9,1016.4 L262.4,1016.2 L262.9,1014.4 L263.4,1015.2 L263.9,1015.2 L264.4,1017.6 L264.9,1018.7 L265.4,1015.2 L265.9,1015.4 L266.4,1012.4 L266.9,1015.7 L267.4,1015.4 L267.9,1014.0 L268.4,1016.4 L268.9,1013.4 L269.4,1015.1 L269.9,1015.6 L270.4,1013.8 L270.9,1016.6 L271.4,1016.8 L271.9,1013.7 L272.4,1013.6 L272.9,1016.3 L273.4,1015.4 L273.9,1013.9 L274.4,1015.1 L274.9,1015.3 L275.4,1015.3 L275.9,1016.6 L276.4,1016.0 L276.9,1017.8 L277.4,1017.3 L277.9,1016.4 L278.4,1016.9 L278.9,1017.2 L279.4,1016.4 L279.9,1013.9 L280.4,1016.6 L280.9,1015.6 L281.4,1017.6 L281.9,1015.6 L282.4,1016.2 L282.9,1015.9 L283.4,1017.7 L283.9,1015.7 L284.4,1015.1 L284.9,1015.9 L285.4,1014.9 L285.9,1015.7 L286.4,1015.5 L286.9,1015.9 L287.4,1018.0 L287.9,1015.0 L288.4,1015.5 L288.9,1015.2 L289.4,1016.4 L289.9,1014.0 L290.4,1014.6 L290.9,1015.4 L291.4,1016.2 L291.9,1015.4 L292.4,1014.8 L292.9,1014.4 L293.4,1016.2 L293.9,1017.4 L294.4,1015.9 L294.9,1015.7 L295.4,1016.1 L295.9,1014.3 L296.4,1015.1 L296.9,1015.2 L297.4,1015.9 L297.9,1015.5 L298.4,1013.9 L298.9,1017.0 L299.4,1017.7 L299.9,1015.1 L300.4,1016.0 L300.9,1015.8 L301.4,1016.4 L301.9,1013.4 L302.4,1017.4 L302.9,1014.6 L303.4,1016.8 L303.9,1015.2 L304.4,1014.5 L304.9,1014.8 L305.4,1016.1 L305.9,1013.7 L306.4,1014.2 L306.9,1014.0 L307.4,1012.3 L307.9,1016.1 L308.4,1015.1 L308.9,1014.2 L309.4,1015.7 L309.9,1012.8 L310.4,1013.9 L310.9,1016.1 L311.4,1015.0 L311.9,1010.8 L312.4,1009.2 L312.9,1012.1 L313.4,1014.7 L313.9,1012.7 L314.4,1012.9 L314.9,1013.9 L315.4,1011.8 L315.9,1013.2 L316.4,1013.9 L316.9,1013.4 L317.4,1013.2 L317.9,1011.8 L318.4,1013.2 L318.9,1011.9 L319.4,1014.1 L319.9,1015.7 L320.4,1011.3 L320.9,1009.4 L321.4,1011.6 L321.9,1012.6 L322.4,1013.5 L322.9,1013.5 L323.4,1011.0 L323.9,1010.9 L324.4,1013.6 L324.9,1010.5 L325.4,1013.2 L325.9,1011.5 L326.4,1012.7 L326.9,1012.6 L327.4,1012.7 L327.9,1012.7 L328.4,1010.3 L328.9,1011.9 L329.4,1011.5 L329.9,1011.8 L330.4,1013.0 L330.9,1011.0 L331.4,1010.4 L331.9,1010.3 L332.4,1010.8 L332.9,1012.2 L333.4,1010.1 L333.9,1012.6 L334.4,1011.4 L334.9,1010.7 L335.4,1009.2 L335.9,1011.2 L336.4,1011.7 L336.9,1008.4 L337.4,1012.2 L337.9,1012.7 L338.4,1011.0 L338.9,1011.1 L339.4,1013.5 L339.9,1011.9 L340.4,1009.0 L340.9,1010.1 L341.4,1009.8 L341.9,1009.7 L342.4,1006.8 L342.9,1010.7 L343.4,1008.8 L343.9,1009.7 L344.4,1009.2 L344.9,1010.4 L345.4,1008.8 L345.9,1008.0 L346.4,1009.6 L346.9,1010.6 L347.4,1008.3 L347.9,1010.3 L348.4,1008.7 L348.9,1007.6 L349.4,1010.1 L349.9,1006.9 L350.4,1009.2 L350.9,1007.1 L351.4,1008.2 L351.9,1005.8 L352.4,1006.2 L352.9,1008.6 L353.4,1007.3 L353.9,1006.9 L354.4,1006.2 L354.9,1007.2 L355.4,1004.6 L355.9,1004.9 L356.4,1006.0 L356.9,1005.0 L357.4,1005.0 L357.9,1005.7 L358.4,1005.4 L358.9,1005.2 L359.4,1007.5 L359.9,1006.5 L360.4,1006.7 L360.9,1004.9 L361.4,1004.1 L361.9,1002.8 L362.4,1004.1 L362.9,1001.7 L363.4,1003.5 L363.9,1005.1 L364.4,1006.0 L364.9,1005.0 L365.4,1002.5 L365.9,1004.1 L366.4,1002.3 L366.9,1004.3 L367.4,1002.9 L367.9,1004.0 L368.4,1006.1 L368.9,1003.8 L369.4,1005.5 L369.9,1002.5 L370.4,1001.7 L370.9,1003.7 L371.4,1004.1 L371.9,1001.0 L372.4,1001.6 L372.9,999.5 L373.4,1000.9 L373.9,1002.2 L374.4,1000.8 L374.9,1000.0 L375.4,998.7 L375.9,1000.9 L376.4,1001.3 L376.9,1000.9 L377.4,1000.3 L377.9,998.1 L378.4,1001.9 L378.9,999.4 L379.4,999.1 L379.9,1000.1 L380.4,996.1 L380.9,998.7 L381.4,998.4 L381.9,998.9 L382.4,1000.0 L382.9,998.7 L383.4,995.6 L383.9,997.3 L384.4,997.9 L384.9,997.6 L385.4,995.6 L385.9,995.0 L386.4,997.7 L386.9,997.2 L387.4,996.6 L387.9,994.2 L388.4,998.6 L388.9,992.3 L389.4,995.4 L389.9,998.4 L390.4,995.3 L390.9,995.7 L391.4,993.7 L391.9,996.8 L392.4,993.1 L392.9,995.0 L393.4,994.6 L393.9,992.9 L394.4,995.2 L394.9,992.1 L395.4,992.8 L395.9,993.5 L396.4,992.8 L396.9,993.8 L397.4,994.2 L397.9,992.4 L398.4,991.9 L398.9,991.7 L399.4,991.7 L399.9,993.0 L400.4,991.5 L400.9,992.1 L401.4,991.2 L401.9,990.0 L402.4,992.0 L402.9,989.3 L403.4,990.5 L403.9,992.2 L404.4,988.6 L404.9,989.7 L405.4,987.5 L405.9,988.7 L406.4,987.2 L406.9,988.4 L407.4,988.0 L407.9,988.6 L408.4,990.3 L408.9,988.4 L409.4,988.6 L409.9,987.5 L410.4,987.0 L410.9,986.0 L411.4,984.5 L411.9,986.8 L412.4,988.6 L412.9,986.9 L413.4,985.3 L413.9,988.0 L414.4,985.0 L414.9,984.6 L415.4,983.6 L415.9,983.7 L416.4,984.4 L416.9,987.1 L417.4,984.1 L417.9,982.8 L418.4,983.1 L418.9,983.4 L419.4,981.2 L419.9,983.4 L420.4,983.9 L420.9,983.2 L421.4,983.3 L421.9,980.6 L422.4,979.9 L422.9,983.5 L423.4,983.0 L423.9,979.4 L424.4,981.4 L424.9,980.9 L425.4,981.3 L425.9,980.6 L426.4,979.5 L426.9,980.1 L427.4,979.8 L427.9,979.2 L428.4,976.6 L428.9,974.8 L429.4,977.4 L429.9,976.0 L430.4,978.2 L430.9,978.5 L431.4,977.6 L431.9,976.4 L432.4,976.7 L432.9,977.8 L433.4,975.0 L433.9,976.8 L434.4,976.2 L434.9,975.3 L435.4,976.5 L435.9,973.3 L436.4,975.2 L436.9,972.4 L437.4,972.3 L437.9,971.5 L438.4,973.2 L438.9,971.0 L439.4,972.0 L439.9,970.1 L440.4,972.6 L440.9,973.2 L441.4,970.8 L441.9,972.3 L442.4,970.6 L442.9,972.3 L443.4,969.3 L443.9,966.8 L444.4,970.4 L444.9,968.0 L445.4,966.5 L445.9,966.6 L446.4,965.0 L446.9,966.6 L447.4,965.1 L447.9,968.0 L448.4,966.6 L448.9,963.3 L449.4,963.1 L449.9,964.0 L450.4,961.9 L450.9,963.9 L451.4,963.6 L451.9,962.3 L452.4,962.3 L452.9,963.3 L453.4,964.1 L453.9,963.9 L454.4,961.6 L454.9,962.3 L455.4,959.9 L455.9,961.0 L456.4,958.9 L456.9,960.7 L457.4,957.8 L457.9,957.8 L458.4,958.6 L458.9,959.0 L459.4,956.0 L459.9,956.8 L460.4,957.3 L460.9,957.1 L461.4,955.3 L461.9,956.2 L462.4,955.3 L462.9,957.1 L463.4,955.7 L463.9,952.8 L464.4,951.3 L464.9,953.9 L465.4,954.9 L465.9,953.2 L466.4,953.7 L466.9,951.5 L467.4,949.9 L467.9,952.2 L468.4,950.8 L468.9,951.1 L469.4,947.9 L469.9,949.4 L470.4,947.8 L470.9,949.1 L471.4,946.7 L471.9,946.0 L472.4,945.5 L472.9,947.2 L473.4,945.0 L473.9,943.3 L474.4,942.4 L474.9,941.7 L475.4,944.3 L475.9,939.4 L476.4,940.0 L476.9,941.3 L477.4,941.3 L477.9,938.9 L478.4,939.4 L478.9,938.7 L479.4,938.3 L479.9,936.4 L480.4,937.7 L480.9,935.1 L481.4,936.2 L481.9,932.0 L482.4,933.9 L482.9,930.4 L483.4,929.3 L483.9,931.2 L484.4,928.8 L484.9,929.7 L485.4,927.1 L485.9,929.9 L486.4,927.1 L486.9,924.9 L487.4,925.9 L487.9,926.1 L488.4,923.3 L488.9,924.3 L489.4,925.5 L489.9,923.3 L490.4,921.5 L490.9,920.1 L491.4,920.9 L491.9,917.4 L492.4,914.8 L492.9,917.1 L493.4,915.9 L493.9,918.9 L494.4,916.1 L494.9,914.0 L495.4,913.1 L495.9,914.5 L496.4,912.1 L496.9,911.8 L497.4,911.7 L497.9,911.3 L498.4,910.6 L498.9,909.9 L499.4,910.7 L499.9,910.5 L500.4,905.5 L500.9,910.2 L501.4,906.3 L501.9,907.0 L502.4,903.6 L502.9,904.2 L503.4,903.2 L503.9,902.3 L504.4,902.4 L504.9,901.3 L505.4,898.3 L505.9,898.6 L506.4,898.9 L506.9,898.0 L507.4,895.9 L507.9,895.1 L508.4,894.5 L508.9,892.6 L509.4,891.6 L509.9,894.6 L510.4,891.4 L510.9,891.4 L511.4,889.6 L511.9,891.6 L512.4,891.5 L512.9,888.3 L513.4,888.6 L513.9,886.4 L514.4,889.1 L514.9,887.4 L515.4,884.5 L515.9,886.7 L516.4,885.0 L516.9,884.6 L517.4,884.0 L517.9,882.2 L518.4,882.0 L518.9,883.1 L519.4,881.8 L519.9,880.2 L520.4,883.7 L520.9,880.5 L521.4,879.7 L521.9,879.1 L522.4,880.6 L522.9,880.7 L523.4,879.4 L523.9,879.9 L524.4,876.5 L524.9,877.6 L525.4,877.2 L525.9,877.5 L526.4,877.8 L526.9,874.2 L527.4,880.5 L527.9,874.9 L528.4,876.1 L528.9,876.3 L529.4,875.9 L529.9,874.8 L530.4,870.3 L530.9,872.3 L531.4,874.4 L531.9,871.9 L532.4,871.4 L532.9,869.5 L533.4,874.0 L533.9,873.0 L534.4,871.1 L534.9,872.1 L535.4,872.3 L535.9,871.1 L536.4,872.5 L536.9,873.5 L537.4,874.2 L537.9,875.5 L538.4,874.3 L538.9,874.2 L539.4,875.7 L539.9,874.9 L540.4,874.5 L540.9,878.1 L541.4,876.5 L541.9,877.6 L542.4,878.6 L542.9,876.6 L543.4,879.2 L543.9,879.3 L544.4,878.9 L544.9,879.9 L545.4,878.7 L545.9,877.1 L546.4,880.0 L546.9,879.5 L547.4,882.1 L547.9,881.6 L548.4,880.9 L548.9,881.9 L549.4,883.9 L549.9,883.9 L550.4,883.2 L550.9,883.5 L551.4,882.8 L551.9,883.1 L552.4,884.2 L552.9,883.4 L553.4,884.1 L553.9,882.3 L554.4,881.7 L554.9,881.6 L555.4,883.3 L555.9,885.6 L556.4,885.4 L556.9,882.6 L557.4,881.9 L557.9,885.0 L558.4,884.6 L558.9,882.2 L559.4,885.4 L559.9,884.2 L560.4,885.7 L560.9,884.5 L561.4,885.2 L561.9,884.4 L562.4,881.5 L562.9,880.1 L563.4,876.8 L563.9,876.4 L564.4,872.8 L564.9,872.6 L565.4,877.4 L565.9,880.5 L566.4,883.4 L566.9,884.6 L567.4,881.6 L567.9,882.6 L568.4,882.7 L568.9,883.3 L569.4,880.3 L569.9,883.0 L570.4,883.1 L570.9,881.3 L571.4,882.4 L571.9,883.6 L572.4,881.8 L572.9,882.9 L573.4,882.5 L573.9,881.4 L574.4,881.1 L574.9,879.8 L575.4,881.7 L575.9,879.2 L576.4,878.6 L576.9,880.2 L577.4,878.0 L577.9,879.2 L578.4,879.8 L578.9,878.2 L579.4,877.9 L579.9,878.7 L580.4,878.2 L580.9,874.9 L581.4,874.8 L581.9,877.9 L582.4,876.3 L582.9,872.8 L583.4,873.3 L583.9,874.7 L584.4,873.0 L584.9,874.5 L585.4,873.6 L585.9,873.7 L586.4,871.0 L586.9,872.8 L587.4,874.0 L587.9,869.9 L588.4,872.0 L588.9,870.9 L589.4,869.8 L589.9,868.2 L590.4,866.1 L590.9,865.8 L591.4,867.2 L591.9,866.8 L592.4,866.5 L592.9,865.5 L593.4,864.7 L593.9,862.3 L594.4,860.6 L594.9,861.8 L595.4,861.5 L595.9,860.3 L596.4,857.5 L596.9,858.1 L597.4,856.2 L597.9,857.6 L598.4,855.3 L598.9,855.8 L599.4,855.7 L599.9,854.7 L600.4,855.5 L600.9,851.5 L601.4,849.3 L601.9,852.6 L602.4,852.3 L602.9,851.4 L603.4,849.0 L603.9,848.4 L604.4,847.0 L604.9,844.2 L605.4,844.2 L605.9,844.8 L606.4,842.5 L606.9,844.9 L607.4,839.7 L607.9,840.4 L608.4,841.6 L608.9,838.7 L609.4,837.2 L609.9,836.2 L610.4,836.3 L610.9,838.5 L611.4,836.4 L611.9,835.9 L612.4,834.0 L612.9,835.3 L613.4,833.9 L613.9,832.2 L614.4,832.5 L614.9,833.0 L615.4,834.0 L615.9,832.2 L616.4,832.7 L616.9,834.4 L617.4,830.5 L617.9,829.7 L618.4,832.4 L618.9,831.5 L619.4,830.6 L619.9,830.9 L620.4,830.0 L620.9,830.9 L621.4,829.7 L621.9,831.0 L622.4,828.3 L622.9,828.6 L623.4,829.7 L623.9,828.8 L624.4,830.2 L624.9,829.2 L625.4,828.4 L625.9,829.3 L626.4,828.2 L626.9,826.8 L627.4,827.2 L627.9,827.6 L628.4,827.9 L628.9,828.5 L629.4,829.5 L629.9,828.9 L630.4,830.5 L630.9,829.7 L631.4,827.7 L631.9,830.1 L632.4,829.4 L632.9,827.2 L633.4,828.1 L633.9,829.1 L634.4,827.9 L634.9,828.9 L635.4,828.0 L635.9,828.4 L636.4,827.1 L636.9,828.0 L637.4,827.0 L637.9,828.4 L638.4,825.3 L638.9,828.1 L639.4,829.4 L639.9,828.6 L640.4,828.0 L640.9,828.9 L641.4,827.3 L641.9,827.5 L642.4,828.3 L642.9,828.8 L643.4,830.5 L643.9,828.3 L644.4,830.9 L644.9,827.8 L645.4,829.0 L645.9,830.2 L646.4,832.0 L646.9,829.8 L647.4,828.0 L647.9,831.5 L648.4,831.1 L648.9,829.9 L649.4,830.1 L649.9,830.8 L650.4,832.0 L650.9,832.9 L651.4,830.3 L651.9,835.4 L652.4,832.6 L652.9,832.3 L653.4,833.8 L653.9,833.3 L654.4,836.3 L654.9,834.9 L655.4,833.1 L655.9,833.2 L656.4,833.1 L656.9,833.4 L657.4,834.8 L657.9,833.2 L658.4,836.1 L658.9,834.0 L659.4,833.9 L659.9,835.3 L660.4,831.5 L660.9,832.8 L661.4,834.7 L661.9,833.9 L662.4,833.9 L662.9,834.4 L663.4,833.0 L663.9,833.5 L664.4,831.9 L664.9,831.2 L665.4,835.2 L665.9,832.2 L666.4,832.4 L666.9,835.1 L667.4,834.6 L667.9,832.4 L668.4,832.3 L668.9,832.7 L669.4,831.3 L669.9,833.0 L670.4,832.2 L670.9,831.9 L671.4,832.4 L671.9,832.1 L672.4,833.3 L672.9,832.5 L673.4,828.0 L673.9,831.1 L674.4,828.2 L674.9,827.5 L675.4,830.0 L675.9,827.9 L676.4,828.2 L676.9,829.8 L677.4,827.3 L677.9,826.7 L678.4,828.1 L678.9,829.0 L679.4,827.9 L679.9,825.0 L680.4,825.9 L680.9,826.3 L681.4,828.8 L681.9,827.2 L682.4,826.9 L682.9,827.1 L683.4,824.9 L683.9,825.7 L684.4,825.4 L684.9,823.2 L685.4,824.2 L685.9,824.6 L686.4,822.2 L686.9,824.3 L687.4,823.9 L687.9,823.9 L688.4,821.2 L688.9,822.0 L689.4,823.4 L689.9,822.1 L690.4,819.7 L690.9,820.6 L691.4,821.8 L691.9,819.4 L692.4,819.6 L692.9,822.1 L693.4,818.3 L693.9,817.7 L694.4,816.2 L694.9,816.2 L695.4,818.6 L695.9,816.0 L696.4,814.3 L696.9,814.2 L697.4,814.9 L697.9,815.5 L698.4,813.1 L698.9,814.5 L699.4,812.5 L699.9,813.1 L700.4,812.9 L700.9,812.5 L701.4,810.7 L701.9,810.6 L702.4,811.0 L702.9,808.2 L703.4,809.6 L703.9,809.6 L704.4,809.8 L704.9,807.9 L705.4,807.2 L705.9,807.1 L706.4,805.5 L706.9,805.6 L707.4,805.9 L707.9,805.3 L708.4,803.0 L708.9,803.5 L709.4,800.7 L709.9,804.1 L710.4,801.9 L710.9,802.5 L711.4,800.4 L711.9,801.4 L712.4,801.8 L712.9,802.1 L713.4,798.8 L713.9,801.4 L714.4,799.8 L714.9,798.7 L715.4,800.1 L715.9,798.8 L716.4,798.5 L716.9,797.7 L717.4,798.7 L717.9,798.1 L718.4,797.6 L718.9,796.3 L719.4,796.6 L719.9,797.5 L720.4,798.3 L720.9,796.3 L721.4,797.8 L721.9,795.7 L722.4,793.9 L722.9,795.7 L723.4,793.3 L723.9,794.7 L724.4,795.1 L724.9,792.9 L725.4,792.8 L725.9,795.6 L726.4,792.3 L726.9,791.9 L727.4,792.1 L727.9,790.6 L728.4,790.1 L728.9,790.3 L729.4,786.3 L729.9,790.8 L730.4,787.2 L730.9,786.8 L731.4,788.5 L731.9,787.5 L732.4,785.5 L732.9,787.0 L733.4,785.0 L733.9,785.2 L734.4,783.9 L734.9,784.4 L735.4,785.7 L735.9,785.1 L736.4,785.0 L736.9,785.5 L737.4,784.0 L737.9,782.9 L738.4,783.1 L738.9,785.3 L739.4,782.9 L739.9,783.0 L740.4,782.2 L740.9,782.4 L741.4,782.3 L741.9,781.5 L742.4,781.0 L742.9,779.9 L743.4,779.5 L743.9,780.8 L744.4,781.0 L744.9,780.9 L745.4,779.4 L745.9,778.0 L746.4,779.5 L746.9,779.2 L747.4,776.1 L747.9,778.8 L748.4,778.2 L748.9,779.3 L749.4,775.3 L749.9,774.8 L750.4,777.2 L750.9,773.6 L751.4,774.7 L751.9,773.9 L752.4,773.7 L752.9,772.3 L753.4,774.2 L753.9,775.5 L754.4,774.6 L754.9,774.4 L755.4,773.1 L755.9,775.3 L756.4,773.9 L756.9,774.4 L757.4,770.8 L757.9,773.1 L758.4,771.0 L758.9,772.7 L759.4,772.4 L759.9,770.5 L760.4,772.0 L760.9,773.1 L761.4,772.0 L761.9,772.0 L762.4,769.9 L762.9,769.9 L763.4,769.1 L763.9,770.5 L764.4,771.7 L764.9,770.5 L765.4,769.6 L765.9,767.9 L766.4,769.7 L766.9,768.5 L767.4,766.0 L767.9,765.9 L768.4,767.4 L768.9,766.4 L769.4,769.4 L769.9,766.9 L770.4,765.2 L770.9,765.6 L771.4,768.0 L771.9,764.3 L772.4,766.3 L772.9,765.5 L773.4,766.5 L773.9,765.0 L774.4,763.5 L774.9,764.5 L775.4,763.6 L775.9,764.6 L776.4,763.0 L776.9,765.4 L777.4,762.5 L777.9,763.0 L778.4,761.4 L778.9,762.3 L779.4,761.9 L779.9,761.9 L780.4,762.7 L780.9,760.7 L781.4,760.1 L781.9,762.4 L782.4,760.5 L782.9,759.8 L783.4,761.9 L783.9,761.3 L784.4,756.6 L784.9,759.4 L785.4,760.7 L785.9,760.5 L786.4,758.5 L786.9,760.9 L787.4,757.6 L787.9,758.0 L788.4,758.1 L788.9,757.5 L789.4,758.2 L789.9,758.1 L790.4,756.3 L790.9,757.7 L791.4,754.6 L791.9,754.9 L792.4,757.0 L792.9,754.5 L793.4,755.4 L793.9,753.2 L794.4,753.1 L794.9,753.1 L795.4,753.3 L795.9,752.4 L796.4,752.8 L796.9,753.6 L797.4,754.3 L797.9,752.9 L798.4,753.6 L798.9,754.0 L799.4,751.5 L799.9,750.9 L800.4,755.1 L800.9,754.8 L801.4,753.2 L801.9,753.7 L802.4,752.1 L802.9,751.6 L803.4,753.9 L803.9,751.6 L804.4,754.8 L804.9,752.8 L805.4,754.1 L805.9,756.3 L806.4,756.2 L806.9,753.5 L807.4,755.2 L807.9,752.5 L808.4,753.0 L808.9,754.2 L809.4,755.4 L809.9,752.7 L810.4,754.0 L810.9,753.2 L811.4,751.2 L811.9,752.4 L812.4,754.3 L812.9,752.0 L813.4,752.5 L813.9,752.7 L814.4,750.5 L814.9,752.8 L815.4,753.0 L815.9,752.9 L816.4,752.4 L816.9,750.1 L817.4,749.9 L817.9,749.6 L818.4,749.5 L818.9,749.8 L819.4,752.3 L819.9,753.1 L820.4,750.7 L820.9,752.9 L821.4,750.5 L821.9,752.1 L822.4,751.6 L822.9,751.2 L823.4,753.8 L823.9,754.3 L824.4,754.1 L824.9,754.5 L825.4,754.3 L825.9,755.9 L826.4,755.8 L826.9,757.4 L827.4,756.0 L827.9,758.3 L828.4,759.1 L828.9,760.4 L829.4,760.6 L829.9,759.8 L830.4,759.1 L830.9,758.0 L831.4,760.8 L831.9,763.0 L832.4,763.8 L832.9,758.7 L833.4,761.5 L833.9,762.4 L834.4,761.9 L834.9,763.9 L835.4,764.2 L835.9,763.8 L836.4,764.9 L836.9,763.3 L837.4,764.5 L837.9,765.0 L838.4,767.7 L838.9,764.8 L839.4,767.0 L839.9,768.6 L840.4,767.9 L840.9,769.3 L841.4,767.8 L841.9,769.5 L842.4,770.4 L842.9,772.4 L843.4,770.8 L843.9,772.0 L844.4,770.4 L844.9,770.8 L845.4,773.0 L845.9,772.0 L846.4,773.4 L846.9,772.7 L847.4,774.8 L847.9,775.5 L848.4,771.6 L848.9,775.4 L849.4,773.8 L849.9,774.2 L850.4,773.8 L850.9,775.2 L851.4,773.2 L851.9,774.1 L852.4,774.5 L852.9,776.3 L853.4,777.6 L853.9,777.9 L854.4,778.0 L854.9,777.2 L855.4,776.3 L855.9,779.6 L856.4,779.8 L856.9,780.6 L857.4,782.5 L857.9,780.8 L858.4,781.2 L858.9,778.8 L859.4,782.9 L859.9,782.4 L860.4,781.7 L860.9,783.3 L861.4,781.6 L861.9,782.2 L862.4,785.5 L862.9,783.9 L863.4,784.1 L863.9,783.8 L864.4,783.6 L864.9,783.0 L865.4,785.6 L865.9,782.4 L866.4,783.4 L866.9,782.1 L867.4,781.8 L867.9,779.0 L868.4,779.5 L868.9,783.9 L869.4,783.7 L869.9,781.0 L870.4,781.4 L870.9,782.1 L871.4,779.9 L871.9,783.3 L872.4,779.5 L872.9,779.8 L873.4,776.9 L873.9,782.2 L874.4,780.1 L874.9,781.8 L875.4,778.1 L875.9,779.5 L876.4,778.8 L876.9,778.6 L877.4,780.6 L877.9,780.4 L878.4,778.8 L878.9,776.1 L879.4,777.3 L879.9,777.4 L880.4,775.9 L880.9,775.4 L881.4,774.8 L881.9,772.4 L882.4,773.4 L882.9,774.6 L883.4,770.7 L883.9,771.6 L884.4,771.9 L884.9,768.4 L885.4,769.4 L885.9,766.6 L886.4,767.3 L886.9,765.5 L887.4,765.4 L887.9,765.2 L888.4,764.6 L888.9,763.9 L889.4,760.2 L889.9,764.5 L890.4,761.2 L890.9,759.2 L891.4,758.9 L891.9,759.3 L892.4,756.7 L892.9,756.5 L893.4,755.5 L893.9,756.0 L894.4,753.4 L894.9,754.1 L895.4,753.1 L895.9,751.5 L896.4,752.4 L896.9,750.0 L897.4,747.5 L897.9,748.5 L898.4,747.3 L898.9,746.1 L899.4,745.5 L899.9,747.2 L900.4,743.4 L900.9,742.6 L901.4,740.5 L901.9,741.3 L902.4,738.3 L902.9,736.0 L903.4,734.0 L903.9,734.6 L904.4,733.1 L904.9,728.2 L905.4,727.3 L905.9,727.1 L906.4,725.6 L906.9,720.5 L907.4,719.7 L907.9,719.4 L908.4,715.8 L908.9,714.2 L909.4,712.6 L909.9,710.1 L910.4,710.4 L910.9,709.2 L911.4,705.5 L911.9,706.0 L912.4,705.9 L912.9,703.3 L913.4,702.9 L913.9,699.7 L914.4,700.9 L914.9,696.9 L915.4,699.2 L915.9,695.1 L916.4,693.7 L916.9,692.6 L917.4,692.4 L917.9,691.5 L918.4,690.5 L918.9,690.3 L919.4,690.8 L919.9,690.4 L920.4,688.1 L920.9,689.5 L921.4,685.9 L921.9,685.2 L922.4,684.5 L922.9,686.1 L923.4,682.8 L923.9,682.4 L924.4,685.4 L924.9,685.5 L925.4,684.6 L925.9,680.6 L926.4,682.2 L926.9,683.1 L927.4,681.9 L927.9,679.6 L928.4,681.2 L928.9,679.4 L929.4,680.0 L929.9,684.5 L930.4,682.7 L930.9,680.1 L931.4,680.2 L931.9,682.9 L932.4,681.8 L932.9,683.6 L933.4,682.3 L933.9,683.2 L934.4,684.0 L934.9,682.7 L935.4,681.9 L935.9,683.3 L936.4,684.3 L936.9,685.4 L937.4,686.0 L937.9,686.6 L938.4,688.0 L938.9,687.1 L939.4,691.0 L939.9,692.9 L940.4,692.0 L940.9,693.1 L941.4,695.8 L941.9,696.5 L942.4,697.3 L942.9,698.3 L943.4,699.1 L943.9,700.1 L944.4,704.1 L944.9,706.7 L945.4,705.7 L945.9,709.1 L946.4,711.7 L946.9,713.1 L947.4,715.0 L947.9,717.9 L948.4,718.2 L948.9,723.0 L949.4,725.0 L949.9,730.4 L950.4,731.1 L950.9,731.5 L951.4,734.1 L951.9,738.4 L952.4,740.4 L952.9,740.6 L953.4,742.3 L953.9,742.8 L954.4,746.4 L954.9,748.8 L955.4,750.3 L955.9,755.9 L956.4,753.6 L956.9,758.3 L957.4,761.6 L957.9,764.4 L958.4,768.9 L958.9,767.7 L959.4,771.5 L959.9,775.6 L960.4,778.6 L960.9,780.9 L961.4,783.4 L961.9,788.6 L962.4,788.6 L962.9,791.9 L963.4,797.1 L963.9,800.0 L964.4,801.3 L964.9,801.5 L965.4,804.0 L965.9,806.3 L966.4,808.3 L966.9,811.6 L967.4,816.0 L967.9,816.9 L968.4,817.8 L968.9,819.9 L969.4,821.5 L969.9,826.7 L970.4,824.5 L970.9,829.6 L971.4,829.4 L971.9,831.9 L972.4,833.3 L972.9,838.4 L973.4,838.9 L973.9,844.4 L974.4,841.2 L974.9,842.8 L975.4,846.6 L975.9,848.0 L976.4,848.3 L976.9,847.4 L977.4,853.2 L977.9,853.3 L978.4,854.2 L978.9,854.1 L979.4,856.8 L979.9,856.3 L980.4,858.2 L980.9,858.9 L981.4,861.8 L981.9,860.6 L982.4,861.8 L982.9,864.7 L983.4,864.5 L983.9,865.2 L984.4,866.0 L984.9,868.6 L985.4,867.6 L985.9,870.2 L986.4,873.3 L986.9,872.4 L987.4,872.0 L987.9,872.6 L988.4,875.5 L988.9,874.8 L989.4,875.5 L989.9,877.7 L990.4,878.4 L990.9,882.0 L991.4,880.0 L991.9,885.0 L992.4,882.9 L992.9,885.0 L993.4,886.5 L993.9,886.8 L994.4,888.2 L994.9,886.6 L995.4,885.6 L995.9,888.8 L996.4,887.4 L996.9,889.3 L997.4,891.8 L997.9,890.7 L998.4,890.6 L998.9,890.3 L999.4,891.8 L999.9,892.3 L1000.4,890.9 L1000.9,893.7 L1001.4,892.2 L1001.9,894.2 L1002.4,893.7 L1002.9,895.9 L1003.4,896.1 L1003.9,895.3 L1004.4,895.5 L1004.9,896.6 L1005.4,898.2 L1005.9,898.2 L1006.4,897.5 L1006.9,898.1 L1007.4,900.2 L1007.9,896.5 L1008.4,899.8 L1008.9,898.4 L1009.4,901.9 L1009.9,899.9 L1010.4,900.9 L1010.9,900.2 L1011.4,902.1 L1011.9,903.6 L1012.4,905.2 L1012.9,901.9 L1013.4,903.4 L1013.9,909.5 L1014.4,906.1 L1014.9,905.3 L1015.4,906.4 L1015.9,902.6 L1016.4,908.6 L1016.9,907.0 L1017.4,905.3 L1017.9,909.0 L1018.4,906.9 L1018.9,906.7 L1019.4,909.0 L1019.9,909.2 L1020.4,908.3 L1020.9,909.1 L1021.4,907.7 L1021.9,907.8 L1022.4,911.1 L1022.9,911.9 L1023.4,911.0 L1023.9,911.2 L1024.4,910.4 L1024.9,911.0 L1025.4,910.2 L1025.9,913.9 L1026.4,911.1 L1026.9,912.6 L1027.4,912.3 L1027.9,910.7 L1028.4,915.2 L1028.9,912.4 L1029.4,912.1 L1029.9,913.5 L1030.4,912.4 L1030.9,913.8 L1031.4,912.8 L1031.9,915.0 L1032.4,914.5 L1032.9,912.9 L1033.4,916.2 L1033.9,915.3 L1034.4,913.8 L1034.9,915.9 L1035.4,916.2 L1035.9,918.3 L1036.4,914.9 L1036.9,917.4 L1037.4,916.3 L1037.9,917.5 L1038.4,916.5 L1038.9,917.0 L1039.4,917.9 L1039.9,915.9 L1040.4,914.9 L1040.9,917.8 L1041.4,917.4 L1041.9,918.3 L1042.4,919.2 L1042.9,918.2 L1043.4,920.2 L1043.9,918.8 L1044.4,919.2 L1044.9,920.3 L1045.4,920.1 L1045.9,919.4 L1046.4,919.9 L1046.9,918.9 L1047.4,919.2 L1047.9,920.3 L1048.4,921.4 L1048.9,919.9 L1049.4,921.7 L1049.9,923.3 L1050.4,923.7 L1050.9,921.1 L1051.4,922.6 L1051.9,922.2 L1052.4,922.5 L1052.9,922.8 L1053.4,922.5 L1053.9,923.0 L1054.4,922.3 L1054.9,921.9 L1055.4,922.7 L1055.9,923.2 L1056.4,924.2 L1056.9,923.3 L1057.4,923.9 L1057.9,924.9 L1058.4,922.0 L1058.9,923.0 L1059.4,924.2 L1059.9,923.6 L1060.4,922.4 L1060.9,925.2 L1061.4,923.9 L1061.9,922.8 L1062.4,926.8 L1062.9,922.8 L1063.4,924.6 L1063.9,923.8 L1064.4,925.0 L1064.9,925.8 L1065.4,924.1 L1065.9,925.2 L1066.4,925.3 L1066.9,924.3 L1067.4,927.3 L1067.9,926.1 L1068.4,925.7 L1068.9,925.4 L1069.4,925.9 L1069.9,926.7 L1070.4,926.1 L1070.9,928.4 L1071.4,923.6 L1071.9,924.3 L1072.4,926.9 L1072.9,925.0 L1073.4,927.4 L1073.9,926.8 L1074.4,928.5 L1074.9,928.4 L1075.4,929.7 L1075.9,929.3 L1076.4,929.9 L1076.9,929.0 L1077.4,929.8 L1077.9,929.2 L1078.4,927.9 L1078.9,927.1 L1079.4,927.2 L1079.9,929.5 L1080.4,925.8 L1080.9,929.2 L1081.4,928.1 L1081.9,930.0 L1082.4,929.4 L1082.9,928.2 L1083.4,929.2 L1083.9,926.3 L1084.4,929.6 L1084.9,929.9 L1085.4,927.0 L1085.9,930.5 L1086.4,929.3 L1086.9,929.7 L1087.4,927.7 L1087.9,930.3 L1088.4,930.4 L1088.9,929.6 L1089.4,928.4 L1089.9,930.7 L1090.4,931.4 L1090.9,930.3 L1091.4,931.1 L1091.9,929.1 L1092.4,930.1 L1092.9,930.4 L1093.4,930.1 L1093.9,933.6 L1094.4,930.5 L1094.9,929.3 L1095.4,931.1 L1095.9,928.6 L1096.4,930.6 L1096.9,931.1 L1097.4,929.5 L1097.9,929.7 L1098.4,928.9 L1098.9,930.3 L1099.4,929.3 L1099.9,932.5 L1100.4,931.0 L1100.9,929.9 L1101.4,928.4 L1101.9,932.9 L1102.4,931.9 L1102.9,930.8 L1103.4,930.5 L1103.9,930.5 L1104.4,929.6 L1104.9,932.7 L1105.4,930.5 L1105.9,928.4 L1106.4,929.4 L1106.9,926.9 L1107.4,931.1 L1107.9,931.2 L1108.4,932.5 L1108.9,933.0 L1109.4,929.2 L1109.9,930.8 L1110.4,931.5 L1110.9,931.3 L1111.4,929.6 L1111.9,931.3 L1112.4,930.9 L1112.9,932.0 L1113.4,930.2 L1113.9,929.9 L1114.4,929.6 L1114.9,929.7 L1115.4,929.2 L1115.9,929.8 L1116.4,930.9 L1116.9,930.8 L1117.4,931.9 L1117.9,931.6 L1118.4,931.0 L1118.9,928.7 L1119.4,930.9 L1119.9,931.7 L1120.4,928.5 L1120.9,928.7 L1121.4,929.0 L1121.9,928.8 L1122.4,929.8 L1122.9,929.0 L1123.4,930.7 L1123.9,928.6 L1124.4,930.0 L1124.9,929.5 L1125.4,928.9 L1125.9,931.5 L1126.4,930.1 L1126.9,930.8 L1127.4,929.6 L1127.9,930.9 L1128.4,930.8 L1128.9,929.7 L1129.4,927.6 L1129.9,930.9 L1130.4,930.7 L1130.9,930.0 L1131.4,930.0 L1131.9,929.8 L1132.4,929.9 L1132.9,928.2 L1133.4,929.4 L1133.9,929.9 L1134.4,928.6 L1134.9,928.1 L1135.4,931.7 L1135.9,930.0 L1136.4,928.7 L1136.9,928.4 L1137.4,925.5 L1137.9,927.1 L1138.4,928.5 L1138.9,930.5 L1139.4,926.0 L1139.9,927.7 L1140.4,931.1 L1140.9,929.4 L1141.4,929.0 L1141.9,929.9 L1142.4,928.2 L1142.9,928.0 L1143.4,929.1 L1143.9,929.2 L1144.4,926.7 L1144.9,930.0 L1145.4,925.7 L1145.9,927.0 L1146.4,931.8 L1146.9,927.1 L1147.4,928.5 L1147.9,926.3 L1148.4,927.1 L1148.9,926.5 L1149.4,926.9 L1149.9,928.2 L1150.4,929.5 L1150.9,928.3 L1151.4,929.1 L1151.9,926.4 L1152.4,928.9 L1152.9,927.6 L1153.4,928.6 L1153.9,926.2 L1154.4,926.4 L1154.9,928.4 L1155.4,927.3 L1155.9,926.6 L1156.4,925.5 L1156.9,926.1 L1157.4,926.8 L1157.9,927.0 L1158.4,925.3 L1158.9,925.5 L1159.4,926.4 L1159.9,924.3 L1160.4,926.9 L1160.9,925.6 L1161.4,925.4 L1161.9,922.3 L1162.4,923.3 L1162.9,923.9 L1163.4,924.4 L1163.9,923.7 L1164.4,925.5 L1164.9,925.1 L1165.4,924.5 L1165.9,922.1 L1166.4,926.5 L1166.9,924.3 L1167.4,925.3 L1167.9,923.6 L1168.4,924.4 L1168.9,925.3 L1169.4,924.6 L1169.9,925.4 L1170.4,923.9 L1170.9,926.6 L1171.4,921.5 L1171.9,923.2 L1172.4,925.1 L1172.9,923.4 L1173.4,923.1 L1173.9,921.3 L1174.4,925.1 L1174.9,921.0 L1175.4,924.0 L1175.9,923.6 L1176.4,924.4 L1176.9,925.0 L1177.4,922.2 L1177.9,921.9 L1178.4,922.5 L1178.9,920.6 L1179.4,923.8 L1179.9,922.2 L1180.4,922.8 L1180.9,921.0 L1181.4,922.4 L1181.9,921.5 L1182.4,922.2 L1182.9,920.8 L1183.4,923.4 L1183.9,921.2 L1184.4,918.6 L1184.9,922.7 L1185.4,921.4 L1185.9,920.5 L1186.4,924.8 L1186.9,921.4 L1187.4,919.7 L1187.9,920.5 L1188.4,921.7 L1188.9,920.8 L1189.4,922.6 L1189.9,922.3 L1190.4,919.8 L1190.9,920.7 L1191.4,921.4 L1191.9,919.9 L1192.4,919.8 L1192.9,921.4 L1193.4,920.7 L1193.9,918.2 L1194.4,919.2 L1194.9,919.3 L1195.4,919.6 L1195.9,918.7 L1196.4,921.2 L1196.9,918.1 L1197.4,917.9 L1197.9,919.5 L1198.4,916.1 L1198.9,917.6 L1199.4,919.7 L1199.9,917.0 L1200.4,917.6 L1200.9,920.0 L1201.4,919.1 L1201.9,918.4 L1202.4,918.6 L1202.9,917.3 L1203.4,918.5 L1203.9,917.7 L1204.4,921.2 L1204.9,918.6 L1205.4,917.3 L1205.9,917.6 L1206.4,917.7 L1206.9,915.8 L1207.4,916.4 L1207.9,919.4 L1208.4,915.5 L1208.9,916.6 L1209.4,918.6 L1209.9,919.2 L1210.4,915.8 L1210.9,919.0 L1211.4,916.6 L1211.9,919.1 L1212.4,917.6 L1212.9,916.5 L1213.4,917.8 L1213.9,917.5 L1214.4,915.7 L1214.9,919.5 L1215.4,916.2 L1215.9,918.1 L1216.4,915.9 L1216.9,914.1 L1217.4,915.0 L1217.9,916.3 L1218.4,917.2 L1218.9,918.6 L1219.4,916.4 L1219.9,915.8 L1220.4,914.6 L1220.9,916.1 L1221.4,916.5 L1221.9,913.2 L1222.4,917.7 L1222.9,917.4 L1223.4,918.9 L1223.9,914.7 L1224.4,915.9 L1224.9,915.8 L1225.4,914.0 L1225.9,914.6 L1226.4,914.3 L1226.9,916.2 L1227.4,916.1 L1227.9,917.2 L1228.4,914.9 L1228.9,913.5 L1229.4,915.9 L1229.9,915.7 L1230.4,916.0 L1230.9,916.7 L1231.4,914.3 L1231.9,916.0 L1232.4,913.6 L1232.9,915.1 L1233.4,915.7 L1233.9,914.6 L1234.4,914.9 L1234.9,912.8 L1235.4,913.7 L1235.9,914.7 L1236.4,912.8 L1236.9,913.2 L1237.4,917.4 L1237.9,914.5 L1238.4,913.1 L1238.9,912.7 L1239.4,915.8 L1239.9,910.3 L1240.4,913.4 L1240.9,914.6 L1241.4,913.0 L1241.9,914.3 L1242.4,912.2 L1242.9,913.5 L1243.4,913.5 L1243.9,913.5 L1244.4,913.6 L1244.9,913.4 L1245.4,914.8 L1245.9,913.0 L1246.4,912.5 L1246.9,912.9 L1247.4,912.9 L1247.9,911.3 L1248.4,910.7 L1248.9,911.5 L1249.4,913.6 L1249.9,912.4 L1250.4,912.7 L1250.9,917.0 L1251.4,914.7 L1251.9,913.0 L1252.4,912.4 L1252.9,915.0 L1253.4,912.2 L1253.9,914.8 L1254.4,914.0 L1254.9,915.0 L1255.4,912.3 L1255.9,914.4 L1256.4,910.9 L1256.9,913.0 L1257.4,914.6 L1257.9,914.1 L1258.4,910.8 L1258.9,914.1 L1259.4,913.8 L1259.9,913.1 L1260.4,912.3 L1260.9,912.9 L1261.4,912.5 L1261.9,914.5 L1262.4,913.8 L1262.9,914.6 L1263.4,914.1 L1263.9,911.6 L1264.4,913.4 L1264.9,916.0 L1265.4,911.8 L1265.9,913.6 L1266.4,912.2 L1266.9,912.1 L1267.4,913.5 L1267.9,914.4 L1268.4,914.2 L1268.9,913.8 L1269.4,914.5 L1269.9,911.1 L1270.4,914.3 L1270.9,913.8 L1271.4,913.0 L1271.9,913.2 L1272.4,912.2 L1272.9,914.8 L1273.4,912.3 L1273.9,911.4 L1274.4,913.3 L1274.9,912.6 L1275.4,913.3 L1275.9,915.4 L1276.4,913.3 L1276.9,913.7 L1277.4,916.5 L1277.9,911.7 L1278.4,914.1 L1278.9,915.2 L1279.4,915.7 L1279.9,916.6 L1280.4,912.9 L1280.9,914.6 L1281.4,913.7 L1281.9,913.3 L1282.4,913.0 L1282.9,912.0 L1283.4,914.4 L1283.9,915.0 L1284.4,912.6 L1284.9,915.1 L1285.4,913.4 L1285.9,912.8 L1286.4,910.7 L1286.9,915.6 L1287.4,915.1 L1287.9,913.8 L1288.4,913.7 L1288.9,912.5 L1289.4,914.9 L1289.9,914.1 L1290.4,914.9 L1290.9,914.5 L1291.4,912.4 L1291.9,912.2 L1292.4,914.8 L1292.9,912.0 L1293.4,914.6 L1293.9,915.4 L1294.4,912.6 L1294.9,915.1 L1295.4,914.3 L1295.9,915.0 L1296.4,913.4 L1296.9,914.3 L1297.4,914.8 L1297.9,916.7 L1298.4,915.3 L1298.9,915.0 L1299.4,912.6 L1299.9,914.7 L1300.4,913.4 L1300.9,914.2 L1301.4,914.7 L1301.9,915.6 L1302.4,915.1 L1302.9,914.6 L1303.4,914.3 L1303.9,916.1 L1304.4,913.2 L1304.9,914.4 L1305.4,916.1 L1305.9,914.1 L1306.4,915.4 L1306.9,915.5 L1307.4,916.9 L1307.9,915.8 L1308.4,912.2 L1308.9,914.3 L1309.4,914.7 L1309.9,915.4 L1310.4,914.8 L1310.9,916.8 L1311.4,915.8 L1311.9,912.8 L1312.4,913.5 L1312.9,911.6 L1313.4,916.6 L1313.9,914.2 L1314.4,914.2 L1314.9,912.3 L1315.4,913.8 L1315.9,915.0 L1316.4,913.9 L1316.9,913.9 L1317.4,913.7 L1317.9,917.1 L1318.4,913.8 L1318.9,912.6 L1319.4,913.9 L1319.9,914.1 L1320.4,914.5 L1320.9,914.3 L1321.4,913.2 L1321.9,914.5 L1322.4,915.3 L1322.9,913.0 L1323.4,917.4 L1323.9,917.1 L1324.4,912.5 L1324.9,914.5 L1325.4,916.3 L1325.9,916.8 L1326.4,917.4 L1326.9,912.6 L1327.4,913.6 L1327.9,914.5 L1328.4,915.9 L1328.9,913.8 L1329.4,915.8 L1329.9,915.8 L1330.4,916.2 L1330.9,913.6 L1331.4,915.5 L1331.9,915.4 L1332.4,914.7 L1332.9,917.0 L1333.4,914.9 L1333.9,917.2 L1334.4,914.5 L1334.9,917.6 L1335.4,917.5 L1335.9,914.2 L1336.4,915.8 L1336.9,915.7 L1337.4,914.0 L1337.9,916.4 L1338.4,916.1 L1338.9,914.2 L1339.4,915.5 L1339.9,916.5 L1340.4,915.2 L1340.9,914.4 L1341.4,917.5 L1341.9,914.1 L1342.4,915.8 L1342.9,916.9 L1343.4,916.4 L1343.9,913.0 L1344.4,915.0 L1344.9,915.2 L1345.4,915.1 L1345.9,916.2 L1346.4,916.1 L1346.9,915.6 L1347.4,915.8 L1347.9,916.8 L1348.4,917.1 L1348.9,912.9 L1349.4,918.3 L1349.9,914.7 L1350.4,916.5 L1350.9,913.3 L1351.4,914.8 L1351.9,913.8 L1352.4,916.9 L1352.9,916.6 L1353.4,915.5 L1353.9,915.3 L1354.4,916.0 L1354.9,914.3 L1355.4,914.8 L1355.9,914.7 L1356.4,916.8 L1356.9,915.9 L1357.4,914.2 L1357.9,916.5 L1358.4,916.8 L1358.9,918.1 L1359.4,915.6 L1359.9,917.0 L1360.4,919.4 L1360.9,916.3 L1361.4,916.4 L1361.9,917.7 L1362.4,916.5 L1362.9,917.4 L1363.4,916.8 L1363.9,916.6 L1364.4,919.0 L1364.9,917.5 L1365.4,916.8 L1365.9,917.9 L1366.4,918.3 L1366.9,919.1 L1367.4,920.1 L1367.9,921.3 L1368.4,917.5 L1368.9,919.0 L1369.4,917.1 L1369.9,919.9 L1370.4,920.4 L1370.9,919.0 L1371.4,918.8 L1371.9,918.9 L1372.4,918.3 L1372.9,921.3 L1373.4,923.1 L1373.9,919.2 L1374.4,922.9 L1374.9,920.7 L1375.4,919.1 L1375.9,921.8 L1376.4,922.2 L1376.9,921.8 L1377.4,921.0 L1377.9,923.7 L1378.4,921.2 L1378.9,922.5 L1379.4,922.6 L1379.9,920.7 L1380.4,919.5 L1380.9,919.8 L1381.4,921.6 L1381.9,922.7 L1382.4,920.0 L1382.9,921.5 L1383.4,924.5 L1383.9,920.3 L1384.4,923.3 L1384.9,923.3 L1385.4,923.9 L1385.9,921.1 L1386.4,923.5 L1386.9,921.4 L1387.4,925.0 L1387.9,922.2 L1388.4,924.0 L1388.9,922.5 L1389.4,923.8 L1389.9,921.7 L1390.4,924.2 L1390.9,924.8 L1391.4,924.1 L1391.9,926.3 L1392.4,924.8 L1392.9,925.4 L1393.4,925.2 L1393.9,927.1 L1394.4,923.8 L1394.9,924.5 L1395.4,924.6 L1395.9,925.9 L1396.4,925.5 L1396.9,926.4 L1397.4,925.8 L1397.9,924.8 L1398.4,925.5 L1398.9,926.3 L1399.4,922.8 L1399.9,927.8 L1400.4,925.3 L1400.9,925.7 L1401.4,926.7 L1401.9,926.1 L1402.4,924.7 L1402.9,926.4 L1403.4,928.7 L1403.9,928.3 L1404.4,928.7 L1404.9,926.5 L1405.4,927.0 L1405.9,928.8 L1406.4,929.5 L1406.9,927.7 L1407.4,926.6 L1407.9,925.4 L1408.4,930.0 L1408.9,926.2 L1409.4,928.9 L1409.9,929.7 L1410.4,933.0 L1410.9,929.0 L1411.4,928.8 L1411.9,929.7 L1412.4,929.9 L1412.9,931.1 L1413.4,930.4 L1413.9,928.6 L1414.4,927.0 L1414.9,930.3 L1415.4,929.2 L1415.9,932.1 L1416.4,928.6 L1416.9,930.8 L1417.4,929.7 L1417.9,929.7 L1418.4,933.3 L1418.9,931.5 L1419.4,931.2 L1419.9,932.7 L1420.4,930.8 L1420.9,931.6 L1421.4,931.4 L1421.9,935.2 L1422.4,933.2 L1422.9,933.8 L1423.4,934.7 L1423.9,933.1 L1424.4,933.4 L1424.9,931.6 L1425.4,934.7 L1425.9,934.6 L1426.4,933.9 L1426.9,936.3 L1427.4,932.5 L1427.9,935.7 L1428.4,933.4 L1428.9,934.0 L1429.4,935.4 L1429.9,937.7 L1430.4,934.4 L1430.9,934.9 L1431.4,934.7 L1431.9,939.2 L1432.4,937.4 L1432.9,937.3 L1433.4,939.7 L1433.9,937.4 L1434.4,934.3 L1434.9,936.5 L1435.4,935.7 L1435.9,940.1 L1436.4,935.5 L1436.9,937.8 L1437.4,936.8 L1437.9,936.9 L1438.4,937.6 L1438.9,937.4 L1439.4,936.7 L1439.9,936.0 L1440.4,936.8 L1440.9,936.3 L1441.4,936.5 L1441.9,937.9 L1442.4,937.6 L1442.9,938.5 L1443.4,937.5 L1443.9,940.5 L1444.4,936.9 L1444.9,936.6 L1445.4,939.3 L1445.9,937.0 L1446.4,938.2 L1446.9,939.3 L1447.4,937.9 L1447.9,937.6 L1448.4,939.4 L1448.9,938.5 L1449.4,937.4 L1449.9,936.5 L1450.4,937.6 L1450.9,935.9 L1451.4,937.0 L1451.9,936.7 L1452.4,938.6 L1452.9,939.3 L1453.4,937.4 L1453.9,937.7 L1454.4,936.8 L1454.9,936.4 L1455.4,937.7 L1455.9,939.1 L1456.4,939.0 L1456.9,939.2 L1457.4,938.0 L1457.9,934.7 L1458.4,939.7 L1458.9,940.2 L1459.4,939.7 L1459.9,939.7 L1460.4,940.0 L1460.9,942.1 L1461.4,939.0 L1461.9,940.7 L1462.4,939.7 L1462.9,939.5 L1463.4,938.4 L1463.9,938.2 L1464.4,937.1 L1464.9,939.5 L1465.4,938.3 L1465.9,937.1 L1466.4,937.7 L1466.9,937.2 L1467.4,940.9 L1467.9,938.5 L1468.4,939.0 L1468.9,937.2 L1469.4,937.4 L1469.9,940.3 L1470.4,938.6 L1470.9,939.2 L1471.4,941.4 L1471.9,941.7 L1472.4,939.9 L1472.9,939.6 L1473.4,939.3 L1473.9,938.6 L1474.4,941.7 L1474.9,937.3 L1475.4,938.9 L1475.9,936.4 L1476.4,937.3 L1476.9,939.5 L1477.4,939.6 L1477.9,939.5 L1478.4,938.6 L1478.9,938.0 L1479.4,938.3 L1479.9,938.5 L1480.4,940.4 L1480.9,940.9 L1481.4,939.5 L1481.9,938.1 L1482.4,937.6 L1482.9,939.2 L1483.4,938.4 L1483.9,936.2 L1484.4,940.5 L1484.9,938.6 L1485.4,938.1 L1485.9,937.3 L1486.4,937.3 L1486.9,939.6 L1487.4,937.1 L1487.9,938.4 L1488.4,939.1 L1488.9,940.7 L1489.4,938.9 L1489.9,938.0 L1490.4,937.4 L1490.9,939.1 L1491.4,939.3 L1491.9,937.3 L1492.4,938.6 L1492.9,937.6 L1493.4,935.5 L1493.9,936.3 L1494.4,938.7 L1494.9,939.5 L1495.4,938.4 L1495.9,937.2 L1496.4,936.5 L1496.9,938.1 L1497.4,937.8 L1497.9,935.2 L1498.4,938.2 L1498.9,936.4 L1499.4,938.2 L1499.9,938.0 L1500.4,938.3 L1500.9,938.8 L1501.4,938.3 L1501.9,935.9 L1502.4,936.0 L1502.9,938.9 L1503.4,938.2 L1503.9,935.5 L1504.4,934.9 L1504.9,939.0 L1505.4,940.8 L1505.9,939.1 L1506.4,937.7 L1506.9,938.5 L1507.4,934.6 L1507.9,937.0 L1508.4,939.9 L1508.9,939.8 L1509.4,935.9 L1509.9,940.5 L1510.4,939.7 L1510.9,940.4 L1511.4,939.0 L1511.9,939.4 L1512.4,938.1 L1512.9,940.1 L1513.4,941.0 L1513.9,938.7 L1514.4,940.5 L1514.9,939.5 L1515.4,941.7 L1515.9,941.7 L1516.4,937.3 L1516.9,941.2 L1517.4,942.1 L1517.9,940.1 L1518.4,940.7 L1518.9,940.9 L1519.4,939.6 L1519.9,941.1 L1520.4,943.5 L1520.9,942.2 L1521.4,943.7 L1521.9,943.1 L1522.4,943.5 L1522.9,942.2 L1523.4,943.2 L1523.9,945.0 L1524.4,944.4 L1524.9,943.0 L1525.4,941.7 L1525.9,941.5 L1526.4,943.2 L1526.9,943.6 L1527.4,940.7 L1527.9,943.6 L1528.4,943.9 L1528.9,944.0 L1529.4,943.0 L1529.9,947.0 L1530.4,945.2 L1530.9,942.3 L1531.4,943.3 L1531.9,945.6 L1532.4,945.3 L1532.9,945.0 L1533.4,944.9 L1533.9,944.9 L1534.4,944.7 L1534.9,944.1 L1535.4,946.5 L1535.9,942.1 L1536.4,945.1 L1536.9,947.9 L1537.4,945.4 L1537.9,945.0 L1538.4,949.4 L1538.9,948.4 L1539.4,947.0 L1539.9,946.6 L1540.4,947.3 L1540.9,947.3 L1541.4,947.6 L1541.9,947.1 L1542.4,949.0 L1542.9,947.7 L1543.4,946.2 L1543.9,947.1 L1544.4,949.0 L1544.9,947.8 L1545.4,945.9 L1545.9,951.5 L1546.4,950.2 L1546.9,949.1 L1547.4,949.1 L1547.9,950.7 L1548.4,951.9 L1548.9,949.4 L1549.4,950.9 L1549.9,949.6 L1550.4,951.0 L1550.9,949.1 L1551.4,948.3 L1551.9,951.0 L1552.4,950.9 L1552.9,952.1 L1553.4,950.3 L1553.9,953.1 L1554.4,951.5 L1554.9,953.6 L1555.4,951.2 L1555.9,953.8 L1556.4,951.8 L1556.9,952.2 L1557.4,953.4 L1557.9,949.8 L1558.4,950.9 L1558.9,955.0 L1559.4,950.6 L1559.9,952.1 L1560.4,953.7 L1560.9,955.0 L1561.4,952.6 L1561.9,953.6 L1562.4,952.1 L1562.9,953.3 L1563.4,955.4 L1563.9,954.6 L1564.4,954.4 L1564.9,955.2 L1565.4,955.0 L1565.9,955.3 L1566.4,954.9 L1566.9,954.3 L1567.4,956.7 L1567.9,954.5 L1568.4,957.7 L1568.9,959.4 L1569.4,958.9 L1569.9,960.2 L1570.4,955.9 L1570.9,957.9 L1571.4,956.7 L1571.9,957.1 L1572.4,956.0 L1572.9,957.0 L1573.4,960.0 L1573.9,960.0 L1574.4,960.9 L1574.9,961.0 L1575.4,960.8 L1575.9,958.9 L1576.4,960.0 L1576.9,961.3 L1577.4,962.2 L1577.9,960.2 L1578.4,960.3 L1578.9,960.5 L1579.4,963.4 L1579.9,962.2 L1580.4,961.2 L1580.9,960.8 L1581.4,962.6 L1581.9,960.0 L1582.4,962.1 L1582.9,961.8 L1583.4,962.0 L1583.9,963.2 L1584.4,963.6 L1584.9,967.3 L1585.4,963.6 L1585.9,964.5 L1586.4,962.7 L1586.9,961.7 L1587.4,965.6 L1587.9,966.9 L1588.4,963.1 L1588.9,964.5 L1589.4,966.3 L1589.9,965.1 L1590.4,961.9 L1590.9,966.6 L1591.4,965.2 L1591.9,966.6 L1592.4,964.5 L1592.9,967.1 L1593.4,967.5 L1593.9,965.3 L1594.4,967.1 L1594.9,965.7 L1595.4,966.1 L1595.9,965.7 L1596.4,966.5 L1596.9,966.3 L1597.4,969.0 L1597.9,967.2 L1598.4,966.2 L1598.9,969.7 L1599.4,968.7 L1599.9,969.5 L1600.4,968.2 L1600.9,969.4 L1601.4,968.5 L1601.9,967.5 L1602.4,969.1 L1602.9,969.2 L1603.4,969.4 L1603.9,970.4 L1604.4,967.1 L1604.9,970.0 L1605.4,968.6 L1605.9,969.4 L1606.4,970.5 L1606.9,970.1 L1607.4,969.2 L1607.9,971.2 L1608.4,970.2 L1608.9,971.6 L1609.4,972.1 L1609.9,970.1 L1610.4,969.2 L1610.9,970.8 L1611.4,971.9 L1611.9,971.3 L1612.4,969.4 L1612.9,968.8 L1613.4,969.9 L1613.9,969.9 L1614.4,972.1 L1614.9,971.4 L1615.4,972.6 L1615.9,971.3 L1616.4,973.8 L1616.9,971.6 L1617.4,972.4 L1617.9,971.2 L1618.4,972.4 L1618.9,973.3 L1619.4,973.0 L1619.9,973.7 L1620.4,971.3 L1620.9,972.8 L1621.4,974.5 L1621.9,972.7 L1622.4,972.2 L1622.9,972.2 L1623.4,971.9 L1623.9,972.8 L1624.4,974.6 L1624.9,973.4 L1625.4,972.8 L1625.9,971.9 L1626.4,971.5 L1626.9,976.3 L1627.4,972.6 L1627.9,973.4 L1628.4,972.7 L1628.9,973.7 L1629.4,972.9 L1629.9,973.7 L1630.4,975.6 L1630.9,972.8 L1631.4,974.5 L1631.9,973.8 L1632.4,974.9 L1632.9,973.1 L1633.4,974.6 L1633.9,972.9 L1634.4,971.8 L1634.9,972.6 L1635.4,973.1 L1635.9,972.9 L1636.4,974.0 L1636.9,976.0 L1637.4,973.1 L1637.9,975.2 L1638.4,974.9 L1638.9,973.8 L1639.4,973.6 L1639.9,975.4 L1640.4,975.5 L1640.9,974.5 L1641.4,974.8 L1641.9,975.0 L1642.4,973.4 L1642.9,975.3 L1643.4,975.6 L1643.9,977.5 L1644.4,973.6 L1644.9,974.2 L1645.4,975.5 L1645.9,974.7 L1646.4,974.9 L1646.9,975.5 L1647.4,975.2 L1647.9,975.6 L1648.4,976.2 L1648.9,973.6 L1649.4,976.5 L1649.9,972.8 L1650.4,978.1 L1650.9,977.1 L1651.4,975.1 L1651.9,977.3 L1652.4,975.8 L1652.9,976.7 L1653.4,977.1 L1653.9,976.7 L1654.4,976.3 L1654.9,977.1 L1655.4,976.1 L1655.9,976.0 L1656.4,975.3 L1656.9,974.2 L1657.4,978.7 L1657.9,977.7 L1658.4,975.0 L1658.9,977.4 L1659.4,977.2 L1659.9,974.1 L1660.4,976.0 L1660.9,977.0 L1661.4,979.4 L1661.9,978.6 L1662.4,978.9 L1662.9,977.7 L1663.4,978.7 L1663.9,975.9 L1664.4,978.2 L1664.9,978.4 L1665.4,975.8 L1665.9,977.8 L1666.4,979.5 L1666.9,980.0 L1667.4,979.4 L1667.9,976.6 L1668.4,977.4 L1668.9,976.9 L1669.4,979.2 L1669.9,976.4 L1670.4,976.2 L1670.9,975.4 L1671.4,977.8 L1671.9,978.1 L1672.4,976.8 L1672.9,976.6 L1673.4,977.3 L1673.9,979.3 L1674.4,975.8 L1674.9,977.5 L1675.4,977.8 L1675.9,978.0 L1676.4,979.2 L1676.9,978.6 L1677.4,977.9 L1677.9,979.5 L1678.4,979.1 L1678.9,977.9 L1679.4,977.9 L1679.9,976.0 L1680.4,977.7 L1680.9,976.5 L1681.4,976.1 L1681.9,977.2 L1682.4,975.3 L1682.9,976.4 L1683.4,976.9 L1683.9,978.0 L1684.4,977.2 L1684.9,978.1 L1685.4,979.7 L1685.9,978.7 L1686.4,976.2 L1686.9,975.4 L1687.4,976.5 L1687.9,976.6 L1688.4,975.2 L1688.9,975.6 L1689.4,975.6 L1689.9,977.1 L1690.4,979.8 L1690.9,980.2 L1691.4,976.7 L1691.9,977.4 L1692.4,976.3 L1692.9,975.9 L1693.4,978.0 L1693.9,978.2 L1694.4,977.3 L1694.9,979.0 L1695.4,977.7 L1695.9,979.6 L1696.4,977.5 L1696.9,979.3 L1697.4,977.9 L1697.9,978.4 L1698.4,979.0 L1698.9,976.4 L1699.4,977.2 L1699.9,978.1 L1700.4,977.8 L1700.9,978.4 L1701.4,977.0 L1701.9,976.3 L1702.4,977.9 L1702.9,978.4 L1703.4,976.9 L1703.9,979.5 L1704.4,978.8 L1704.9,979.0 L1705.4,978.9 L1705.9,976.7 L1706.4,980.6 L1706.9,976.9 L1707.4,978.3 L1707.9,978.7 L1708.4,978.2 L1708.9,977.9 L1709.4,976.6 L1709.9,977.1 L1710.4,977.7 L1710.9,979.3 L1711.4,976.7 L1711.9,978.5 L1712.4,978.1 L1712.9,977.6 L1713.4,976.8 L1713.9,977.3 L1714.4,975.2 L1714.9,977.6 L1715.4,977.9 L1715.9,976.8 L1716.4,978.1 L1716.9,977.8 L1717.4,976.4 L1717.9,978.5 L1718.4,976.7 L1718.9,980.5 L1719.4,976.0 L1719.9,976.2 L1720.4,976.4 L1720.9,977.6 L1721.4,978.7 L1721.9,977.3 L1722.4,976.7 L1722.9,979.6 L1723.4,978.5 L1723.9,976.7 L1724.4,976.9 L1724.9,975.1 L1725.4,977.1 L1725.9,979.2 L1726.4,975.5 L1726.9,975.1 L1727.4,977.1 L1727.9,973.8 L1728.4,978.7 L1728.9,974.9 L1729.4,975.9 L1729.9,976.6 L1730.4,978.3 L1730.9,977.2 L1731.4,974.2 L1731.9,974.4 L1732.4,976.8 L1732.9,973.8 L1733.4,976.1 L1733.9,975.4 L1734.4,977.4 L1734.9,977.9 L1735.4,973.1 L1735.9,976.8 L1736.4,977.1 L1736.9,975.2 L1737.4,975.4 L1737.9,974.6 L1738.4,975.7 L1738.9,976.6 L1739.4,977.8 L1739.9,977.9 L1740.4,975.6 L1740.9,974.9 L1741.4,977.3 L1741.9,972.4 L1742.4,974.1 L1742.9,976.8 L1743.4,978.8 L1743.9,974.9 L1744.4,976.1 L1744.9,974.5 L1745.4,975.9 L1745.9,975.9 L1746.4,975.1 L1746.9,976.6 L1747.4,975.9 L1747.9,976.8 L1748.4,975.9 L1748.9,974.7 L1749.4,976.4 L1749.9,977.4 L1750.4,975.3 L1750.9,978.1 L1751.4,977.0 L1751.9,976.0 L1752.4,976.6 L1752.9,976.0 L1753.4,975.4 L1753.9,977.8 L1754.4,977.8 L1754.9,976.1 L1755.4,976.5 L1755.9,976.5 L1756.4,977.7 L1756.9,978.7 L1757.4,975.9 L1757.9,977.2 L1758.4,976.8 L1758.9,977.5 L1759.4,978.7 L1759.9,975.7 L1760.4,974.1 L1760.9,976.6 L1761.4,974.7 L1761.9,979.0 L1762.4,975.9 L1762.9,976.4 L1763.4,977.1 L1763.9,977.1 L1764.4,976.3 L1764.9,976.8 L1765.4,978.0 L1765.9,976.4 L1766.4,979.2 L1766.9,977.3 L1767.4,973.8 L1767.9,978.0 L1768.4,974.5 L1768.9,977.3 L1769.4,979.8 L1769.9,978.2 L1770.4,975.4 L1770.9,975.8 L1771.4,976.9 L1771.9,978.7 L1772.4,975.9 L1772.9,978.3 L1773.4,977.2 L1773.9,976.7 L1774.4,976.6 L1774.9,979.0 L1775.4,974.9 L1775.9,975.4 L1776.4,978.0 L1776.9,978.1 L1777.4,975.2 L1777.9,975.7 L1778.4,975.3 L1778.9,977.6 L1779.4,976.0 L1779.9,978.7 L1780.4,977.9 L1780.9,977.2 L1781.4,977.1 L1781.9,977.6 L1782.4,978.0 L1782.9,976.9 L1783.4,977.2 L1783.9,977.9 L1784.4,976.8 L1784.9,978.2 L1785.4,976.7 L1785.9,975.9 L1786.4,977.2 L1786.9,979.1 L1787.4,978.9 L1787.9,974.9 L1788.4,977.4 L1788.9,976.3 L1789.4,976.5 L1789.9,976.5 L1790.4,976.7 L1790.9,976.3 L1791.4,976.6 L1791.9,977.3 L1792.4,975.4 L1792.9,975.4 L1793.4,975.6 L1793.9,975.6 L1794.4,977.8 L1794.9,975.6 L1795.4,977.0 L1795.9,977.2 L1796.4,978.0 L1796.9,977.1 L1797.4,978.5 L1797.9,977.0 L1798.4,977.5 L1798.9,978.1 L1799.4,975.3 L1799.9,977.7 L1800.4,979.1 L1800.9,977.3 L1801.4,976.9 L1801.9,979.7 L1802.4,977.4 L1802.9,978.8 L1803.4,974.1 L1803.9,977.4 L1804.4,976.6 L1804.9,977.8 L1805.4,978.8 L1805.9,977.1 L1806.4,977.0 L1806.9,973.6 L1807.4,978.3 L1807.9,979.1 L1808.4,977.5 L1808.9,976.7 L1809.4,977.8 L1809.9,978.7 L1810.4,978.2 L1810.9,980.1 L1811.4,976.7 L1811.9,975.6 L1812.4,978.1 L1812.9,979.1 L1813.4,976.9 L1813.9,977.5 L1814.4,976.6 L1814.9,975.8 L1815.4,976.5 L1815.9,974.8 L1816.4,977.9 L1816.9,978.1 L1817.4,978.7 L1817.9,976.5 L1818.4,976.7 L1818.9,975.4 L1819.4,975.7 L1819.9,978.7 L1820.4,981.3 L1820.9,976.2 L1821.4,977.1 L1821.9,978.8 L1822.4,976.7 L1822.9,978.4 L1823.4,977.3 L1823.9,977.3 L1824.4,978.9 L1824.9,977.4 L1825.4,976.1 L1825.9,978.8 L1826.4,977.8 L1826.9,977.1 L1827.4,976.7 L1827.9,978.6 L1828.4,976.9 L1828.9,978.0 L1829.4,979.1 L1829.9,977.7 L1830.4,979.3 L1830.9,976.1 L1831.4,978.7 L1831.9,978.6 L1832.4,980.4 L1832.9,978.0 L1833.4,979.1 L1833.9,977.8 L1834.4,976.6 L1834.9,976.9 L1835.4,977.1 L1835.9,979.0 L1836.4,977.0 L1836.9,978.1 L1837.4,979.2 L1837.9,979.7 L1838.4,979.3 L1838.9,980.0 L1839.4,976.6 L1839.9,977.5 L1840.4,978.6 L1840.9,979.6 L1841.4,978.8 L1841.9,977.2 L1842.4,978.0 L1842.9,976.1 L1843.4,979.3 L1843.9,975.9 L1844.4,978.5 L1844.9,979.7 L1845.4,979.4 L1845.9,976.2 L1846.4,978.6 L1846.9,977.9 L1847.4,977.9 L1847.9,980.5 L1848.4,978.7 L1848.9,976.5 L1849.4,977.0 L1849.9,979.3 L1850.4,978.7 L1850.9,976.9 L1851.4,976.2 L1851.9,977.7 L1852.4,977.9 L1852.9,979.5 L1853.4,977.7 L1853.9,979.3 L1854.4,980.0 L1854.9,976.4 L1855.4,977.7 L1855.9,980.5 L1856.4,977.9 L1856.9,978.5 L1857.4,979.8 L1857.9,977.6 L1858.4,978.0 L1858.9,976.4 L1859.4,979.3 L1859.9,977.9 L1860.4,978.1 L1860.9,975.2 L1861.4,979.9 L1861.9,979.5 L1862.4,977.6 L1862.9,980.2 L1863.4,975.5 L1863.9,978.6 L1864.4,976.5 L1864.9,982.2 L1865.4,975.3 L1865.9,977.1 L1866.4,977.7 L1866.9,979.8 L1867.4,979.8 L1867.9,979.2 L1868.4,978.4 L1868.9,981.6 L1869.4,977.8 L1869.9,979.2 L1870.4,981.1 L1870.9,977.2 L1871.4,977.8 L1871.9,980.3 L1872.4,979.5 L1872.9,977.2 L1873.4,978.9 L1873.9,981.4 L1874.4,978.6 L1874.9,980.0 L1875.4,979.1 L1875.9,978.1 L1876.4,981.1 L1876.9,980.3 L1877.4,980.6 L1877.9,978.9 L1878.4,979.2 L1878.9,979.4 L1879.4,979.7 L1879.9,978.7 L1880.4,978.5 L1880.9,980.9 L1881.4,977.7 L1881.9,978.6 L1882.4,978.7 L1882.9,978.6 L1883.4,977.7 L1883.9,978.3 L1884.4,980.3 L1884.9,978.9 L1885.4,978.4 L1885.9,981.5 L1886.4,977.6 L1886.9,980.8 L1887.4,979.9 L1887.9,977.7 L1888.4,979.0 L1888.9,979.0 L1889.4,981.2 L1889.9,980.8 L1890.4,979.2 L1890.9,978.1 L1891.4,977.4 L1891.9,979.4 L1892.4,977.9 L1892.9,979.5 L1893.4,979.5 L1893.9,980.3 L1894.4,981.1 L1894.9,980.0 L1895.4,980.5 L1895.9,979.7 L1896.4,981.3 L1896.9,981.0 L1897.4,982.1 L1897.9,981.8 L1898.4,979.1 L1898.9,978.2 L1899.4,980.9 L1899.9,981.6 L1900.4,979.3 L1900.9,982.2 L1901.4,980.4 L1901.9,980.2 L1902.4,980.8 L1902.9,978.5 L1903.4,978.2 L1903.9,980.0 L1904.4,978.9 L1904.9,980.4 L1905.4,980.5 L1905.9,977.2 L1906.4,979.6 L1906.9,981.3 L1907.4,977.7 L1907.9,980.3 L1908.4,979.1 L1908.9,978.3 L1909.4,982.4 L1909.9,982.5 L1910.4,980.6 L1910.9,980.6 L1911.4,983.1 L1911.9,982.9 L1912.4,981.4 L1912.9,982.7 L1913.4,981.8 L1913.9,981.3 L1914.4,982.6 L1914.9,981.3 L1915.4,982.8 L1915.9,981.8 L1916.4,981.6 L1916.9,981.5 L1917.4,982.9 L1917.9,983.7 L1918.4,983.1 L1918.9,981.5 L1919.4,983.5 L1919.9,981.6 L1920.4,981.4 L1920.9,982.7 L1921.4,984.0 L1921.9,984.0 L1922.4,983.9 L1922.9,985.0 L1923.4,984.4 L1923.9,982.8 L1924.4,984.4 L1924.9,983.1 L1925.4,984.0 L1925.9,984.2 L1926.4,983.4 L1926.9,981.6 L1927.4,983.4 L1927.9,983.2 L1928.4,983.4 L1928.9,983.0 L1929.4,982.1 L1929.9,981.4 L1930.4,984.3 L1930.9,984.4 L1931.4,983.8 L1931.9,983.2 L1932.4,985.7 L1932.9,983.9 L1933.4,983.0 L1933.9,983.9 L1934.4,982.7 L1934.9,983.6 L1935.4,982.9 L1935.9,983.1 L1936.4,982.4 L1936.9,981.6 L1937.4,982.8 L1937.9,983.4 L1938.4,980.7 L1938.9,981.1 L1939.4,980.3 L1939.9,982.7 L1940.4,981.2 L1940.9,982.6 L1941.4,980.4 L1941.9,982.4 L1942.4,980.6 L1942.9,980.7 L1943.4,981.9 L1943.9,980.7 L1944.4,980.5 L1944.9,982.5 L1945.4,981.3 L1945.9,983.1 L1946.4,984.9 L1946.9,981.1 L1947.4,981.6 L1947.9,980.3 L1948.4,981.0 L1948.9,983.5 L1949.4,983.4 L1949.9,983.6 L1950.4,984.2 L1950.9,982.8 L1951.4,982.0 L1951.9,985.9 L1952.4,985.1 L1952.9,986.6 L1953.4,985.4 L1953.9,986.7 L1954.4,985.4 L1954.9,986.3 L1955.4,986.4 L1955.9,987.4 L1956.4,989.0 L1956.9,988.3 L1957.4,983.9 L1957.9,987.7 L1958.4,988.1 L1958.9,989.3 L1959.4,988.5 L1959.9,987.6 L1960.4,987.6 L1960.9,988.3 L1961.4,987.9 L1961.9,990.8 L1962.4,989.8 L1962.9,989.2 L1963.4,990.5 L1963.9,992.1 L1964.4,989.2 L1964.9,989.5 L1965.4,989.2 L1965.9,988.1 L1966.4,989.0 L1966.9,988.6 L1967.4,990.5 L1967.9,990.6 L1968.4,991.2 L1968.9,989.2 L1969.4,991.5 L1969.9,989.0 L1970.4,990.1 L1970.9,992.1 L1971.4,992.1 L1971.9,992.0 L1972.4,993.4 L1972.9,992.1 L1973.4,990.5 L1973.9,990.6 L1974.4,989.9 L1974.9,991.3 L1975.4,990.1 L1975.9,990.3 L1976.4,989.9 L1976.9,989.1 L1977.4,994.5 L1977.9,992.6 L1978.4,988.8 L1978.9,992.2 L1979.4,990.9 L1979.9,989.0 L1980.4,991.6 L1980.9,992.2 L1981.4,992.8 L1981.9,993.5 L1982.4,991.1 L1982.9,992.3 L1983.4,993.3 L1983.9,993.2 L1984.4,993.1 L1984.9,992.9 L1985.4,994.4 L1985.9,991.4 L1986.4,991.2 L1986.9,995.4 L1987.4,993.9 L1987.9,994.9 L1988.4,993.9 L1988.9,993.2 L1989.4,993.2 L1989.9,994.1 L1990.4,993.5 L1990.9,994.1 L1991.4,994.3 L1991.9,995.6 L1992.4,995.7 L1992.9,996.8 L1993.4,994.0 L1993.9,995.0 L1994.4,996.4 L1994.9,995.8 L1995.4,992.3 L1995.9,996.1 L1996.4,995.8 L1996.9,995.3 L1997.4,995.5 L1997.9,995.3 L1998.4,997.8 L1998.9,997.4 L1999.4,996.9 L1999.9,998.2 L2000.4,998.1 L2000.9,996.0 L2001.4,995.9 L2001.9,996.1 L2002.4,998.5 L2002.9,997.6 L2003.4,999.4 L2003.9,998.6 L2004.4,997.8 L2004.9,996.6 L2005.4,998.1 L2005.9,1001.4 L2006.4,997.8 L2006.9,997.8 L2007.4,998.7 L2007.9,1000.9 L2008.4,999.2 L2008.9,998.0 L2009.4,998.8 L2009.9,999.5 L2010.4,1000.0 L2010.9,1001.3 L2011.4,1003.4 L2011.9,1002.1 L2012.4,1001.3 L2012.9,1000.6 L2013.4,999.8 L2013.9,1001.7 L2014.4,1002.7 L2014.9,1002.3 L2015.4,1001.2 L2015.9,1002.4 L2016.4,1001.4 L2016.9,1001.7 L2017.4,1001.7 L2017.9,1002.3 L2018.4,1002.2 L2018.9,1003.8 L2019.4,1002.6 L2019.9,1002.7 L2020.4,1004.3 L2020.9,1004.0 L2021.4,1004.7 L2021.9,1002.4 L2022.4,1005.2 L2022.9,1003.7 L2023.4,1002.5 L2023.9,1003.8 L2024.4,1002.6 L2024.9,1003.0 L2025.4,1003.9 L2025.9,1005.8 L2026.4,1003.0 L2026.9,1005.2 L2027.4,1004.6 L2027.9,1007.1 L2028.4,1005.5 L2028.9,1006.1 L2029.4,1007.3 L2029.9,1004.3 L2030.4,1005.3 L2030.9,1004.0 L2031.4,1005.0 L2031.9,1006.6 L2032.4,1006.1 L2032.9,1007.0 L2033.4,1006.1 L2033.9,1005.8 L2034.4,1006.7 L2034.9,1005.9 L2035.4,1005.7 L2035.9,1005.2 L2036.4,1007.2 L2036.9,1008.1 L2037.4,1006.1 L2037.9,1007.2 L2038.4,1005.0 L2038.9,1006.5 L2039.4,1008.2 L2039.9,1006.7 L2040.4,1009.0 L2040.9,1008.0 L2041.4,1009.1 L2041.9,1008.1 L2042.4,1007.1 L2042.9,1009.0 L2043.4,1010.1 L2043.9,1008.6 L2044.4,1009.9 L2044.9,1008.6 L2045.4,1009.2 L2045.9,1011.3 L2046.4,1009.8 L2046.9,1008.8 L2047.4,1010.7 L2047.9,1010.2 L2048.4,1009.6 L2048.9,1011.2 L2049.4,1006.8 L2049.9,1011.2 L2050.4,1013.0 L2050.9,1011.0 L2051.4,1008.4 L2051.9,1012.5 L2052.4,1014.0 L2052.9,1011.6 L2053.4,1009.6 L2053.9,1010.2 L2054.4,1010.9 L2054.9,1011.4 L2055.4,1012.7 L2055.9,1011.9 L2056.4,1008.4 L2056.9,1010.9 L2057.4,1011.2 L2057.9,1013.8 L2058.4,1010.7 L2058.9,1009.7 L2059.4,1011.2 L2059.9,1011.9 L2060.4,1009.3 L2060.9,1013.0 L2061.4,1011.5 L2061.9,1012.7 L2062.4,1012.6 L2062.9,1012.4 L2063.4,1013.5 L2063.9,1013.9" stroke="#000000"/>
</g>
<g fill="#000">
<rect x="28.3" y="1189.6" width="2038.2" height="5.2"/>
<rect x="28.35" y="1190" width="4.5" height="33"/><rect x="282.55" y="1190" width="4.5" height="33"/><rect x="536.75" y="1190" width="4.5" height="33"/><rect x="790.95" y="1190" width="4.5" height="33"/><rect x="1045.15" y="1190" width="4.5" height="33"/><rect x="1299.35" y="1190" width="4.5" height="33"/><rect x="1553.55" y="1190" width="4.5" height="33"/><rect x="1807.75" y="1190" width="4.5" height="33"/><rect x="2061.95" y="1190" width="4.5" height="33"/><rect x="155.45" y="1190" width="4.5" height="18.7"/><rect x="409.65" y="1190" width="4.5" height="18.7"/><rect x="663.85" y="1190" width="4.5" height="18.7"/><rect x="918.05" y="1190" width="4.5" height="18.7"/><rect x="1172.25" y="1190" width="4.5" height="18.7"/><rect x="1426.45" y="1190" width="4.5" height="18.7"/><rect x="1680.65" y="1190" width="4.5" height="18.7"/><rect x="1934.85" y="1190" width="4.5" height="18.7"/>
</g>
<g fill="#000">
<text x="30.6" y="1284" text-anchor="middle" class="tl">5</text><text x="284.8" y="1284" text-anchor="middle" class="tl">10</text><text x="539.0" y="1284" text-anchor="middle" class="tl">15</text><text x="793.2" y="1284" text-anchor="middle" class="tl">20</text><text x="1047.4" y="1284" text-anchor="middle" class="tl">25</text><text x="1301.6" y="1284" text-anchor="middle" class="tl">30</text><text x="1555.8" y="1284" text-anchor="middle" class="tl">35</text><text x="1810.0" y="1284" text-anchor="middle" class="tl">40</text><text x="2064.2" y="1284" text-anchor="middle" class="tl">45</text>
<text x="1253" y="82" class="lab" style="font-size:65px;letter-spacing:3px">GO</text>
<text x="1250" y="693" class="lab" style="font-size:60px;letter-spacing:3.2px">cellulose hydrogel</text>
<text x="1256.5" y="898.5" class="lab"><tspan style="font-size:65px;letter-spacing:1.5px">GO/</tspan><tspan style="font-size:60px;letter-spacing:3.1px">cellulose hydrogel</tspan></text>
<text transform="translate(1019.9,1370) scale(0.9,1)" class="ax">2</text><text transform="translate(1058.5,1370) scale(1.083,0.975)" class="ax">θ</text>
</g>
</svg>
</body></html>
